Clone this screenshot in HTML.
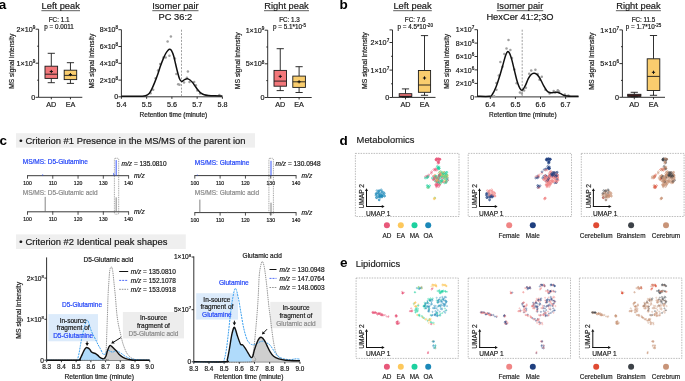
<!DOCTYPE html>
<html><head><meta charset="utf-8"><style>
html,body{margin:0;padding:0;background:#fff;}
svg{display:block;will-change:transform;}
text{font-family:"Liberation Sans",sans-serif;}
</style></head><body>
<svg width="685" height="381" viewBox="0 0 685 381">
<rect width="685" height="381" fill="#fff"/>
<text x="-1.20" y="9.10" font-size="13.5" text-anchor="start" fill="#000" stroke="#000" stroke-width="0" font-weight="bold" font-style="normal" >a</text>
<text x="339.60" y="9.30" font-size="13.5" text-anchor="start" fill="#000" stroke="#000" stroke-width="0" font-weight="bold" font-style="normal" >b</text>
<text x="-0.50" y="144.60" font-size="13.5" text-anchor="start" fill="#000" stroke="#000" stroke-width="0" font-weight="bold" font-style="normal" >c</text>
<text x="339.50" y="144.50" font-size="13.5" text-anchor="start" fill="#000" stroke="#000" stroke-width="0" font-weight="bold" font-style="normal" >d</text>
<text x="340.00" y="266.50" font-size="13.5" text-anchor="start" fill="#000" stroke="#000" stroke-width="0" font-weight="bold" font-style="normal" >e</text>
<line x1="38.60" y1="29.20" x2="38.60" y2="97.30" stroke="#1a1a1a" stroke-width="0.9" />
<line x1="35.60" y1="29.20" x2="38.60" y2="29.20" stroke="#1a1a1a" stroke-width="0.9" />
<line x1="35.60" y1="63.20" x2="38.60" y2="63.20" stroke="#1a1a1a" stroke-width="0.9" />
<line x1="35.60" y1="97.30" x2="38.60" y2="97.30" stroke="#1a1a1a" stroke-width="0.9" />
<line x1="37.20" y1="46.20" x2="38.60" y2="46.20" stroke="#1a1a1a" stroke-width="0.9" />
<line x1="37.20" y1="80.20" x2="38.60" y2="80.20" stroke="#1a1a1a" stroke-width="0.9" />
<line x1="38.60" y1="97.30" x2="82.30" y2="97.30" stroke="#1a1a1a" stroke-width="0.9" />
<text x="35.30" y="31.80" font-size="7.2" text-anchor="end" fill="#1a1a1a" stroke="#1a1a1a" stroke-width="0.2" font-weight="normal" font-style="normal" >2×10<tspan font-size="4.6" dy="-2.9">9</tspan></text>
<text x="35.30" y="65.80" font-size="7.2" text-anchor="end" fill="#1a1a1a" stroke="#1a1a1a" stroke-width="0.2" font-weight="normal" font-style="normal" >1×10<tspan font-size="4.6" dy="-2.9">9</tspan></text>
<text x="35.30" y="99.90" font-size="7.2" text-anchor="end" fill="#1a1a1a" stroke="#1a1a1a" stroke-width="0.2" font-weight="normal" font-style="normal" >0</text>
<text transform="translate(14.15,61.30) rotate(-90)" font-size="6.6" text-anchor="middle" fill="#1a1a1a" stroke="#1a1a1a" stroke-width="0.2">MS signal intensity</text>
<text x="60.70" y="9.00" font-size="9.3" text-anchor="middle" fill="#1a1a1a" stroke="#1a1a1a" stroke-width="0.2" font-weight="normal" font-style="normal" >Left peak</text>
<line x1="41.40" y1="10.70" x2="80.00" y2="10.70" stroke="#1a1a1a" stroke-width="0.7" />
<text x="59.10" y="21.50" font-size="6.3" text-anchor="middle" fill="#1a1a1a" stroke="#1a1a1a" stroke-width="0.2" font-weight="normal" font-style="normal" >FC: 1.1</text>
<text x="59.10" y="29.40" font-size="6.3" text-anchor="middle" fill="#1a1a1a" stroke="#1a1a1a" stroke-width="0.2" font-weight="normal" font-style="normal" >p = 0.0011</text>
<line x1="51.30" y1="97.30" x2="51.30" y2="99.30" stroke="#1a1a1a" stroke-width="0.9" />
<text x="51.30" y="107.00" font-size="7.2" text-anchor="middle" fill="#1a1a1a" stroke="#1a1a1a" stroke-width="0.2" font-weight="normal" font-style="normal" >AD</text>
<line x1="51.30" y1="53.30" x2="51.30" y2="66.20" stroke="#1a1a1a" stroke-width="0.9" />
<line x1="51.30" y1="78.40" x2="51.30" y2="82.70" stroke="#1a1a1a" stroke-width="0.9" />
<line x1="47.70" y1="53.30" x2="54.90" y2="53.30" stroke="#1a1a1a" stroke-width="0.9" />
<line x1="47.70" y1="82.70" x2="54.90" y2="82.70" stroke="#1a1a1a" stroke-width="0.9" />
<rect x="45.00" y="66.20" width="12.60" height="12.20" fill="#f2777a" stroke="#1a1a1a" stroke-width="0.9" />
<line x1="45.00" y1="74.20" x2="57.60" y2="74.20" stroke="#1a1a1a" stroke-width="0.9" />
<line x1="49.70" y1="71.50" x2="52.90" y2="71.50" stroke="#111" stroke-width="1.0" />
<line x1="51.30" y1="69.90" x2="51.30" y2="73.10" stroke="#111" stroke-width="1.0" />
<line x1="70.45" y1="97.30" x2="70.45" y2="99.30" stroke="#1a1a1a" stroke-width="0.9" />
<text x="70.45" y="107.00" font-size="7.2" text-anchor="middle" fill="#1a1a1a" stroke="#1a1a1a" stroke-width="0.2" font-weight="normal" font-style="normal" >EA</text>
<line x1="70.45" y1="62.70" x2="70.45" y2="70.20" stroke="#1a1a1a" stroke-width="0.9" />
<line x1="70.45" y1="79.60" x2="70.45" y2="83.40" stroke="#1a1a1a" stroke-width="0.9" />
<line x1="66.85" y1="62.70" x2="74.05" y2="62.70" stroke="#1a1a1a" stroke-width="0.9" />
<line x1="66.85" y1="83.40" x2="74.05" y2="83.40" stroke="#1a1a1a" stroke-width="0.9" />
<rect x="64.20" y="70.20" width="12.50" height="9.40" fill="#f9cd6e" stroke="#1a1a1a" stroke-width="0.9" />
<line x1="64.20" y1="75.40" x2="76.70" y2="75.40" stroke="#1a1a1a" stroke-width="0.9" />
<line x1="68.85" y1="74.60" x2="72.05" y2="74.60" stroke="#111" stroke-width="1.0" />
<line x1="70.45" y1="73.00" x2="70.45" y2="76.20" stroke="#111" stroke-width="1.0" />
<line x1="267.70" y1="30.20" x2="267.70" y2="97.50" stroke="#1a1a1a" stroke-width="0.9" />
<line x1="264.70" y1="30.20" x2="267.70" y2="30.20" stroke="#1a1a1a" stroke-width="0.9" />
<line x1="264.70" y1="63.80" x2="267.70" y2="63.80" stroke="#1a1a1a" stroke-width="0.9" />
<line x1="264.70" y1="97.50" x2="267.70" y2="97.50" stroke="#1a1a1a" stroke-width="0.9" />
<line x1="266.30" y1="47.00" x2="267.70" y2="47.00" stroke="#1a1a1a" stroke-width="0.9" />
<line x1="266.30" y1="80.60" x2="267.70" y2="80.60" stroke="#1a1a1a" stroke-width="0.9" />
<line x1="267.70" y1="97.50" x2="311.70" y2="97.50" stroke="#1a1a1a" stroke-width="0.9" />
<text x="264.40" y="32.80" font-size="7.2" text-anchor="end" fill="#1a1a1a" stroke="#1a1a1a" stroke-width="0.2" font-weight="normal" font-style="normal" >1×10<tspan font-size="4.6" dy="-2.9">9</tspan></text>
<text x="264.40" y="66.40" font-size="7.2" text-anchor="end" fill="#1a1a1a" stroke="#1a1a1a" stroke-width="0.2" font-weight="normal" font-style="normal" >5×10<tspan font-size="4.6" dy="-2.9">8</tspan></text>
<text x="264.40" y="100.10" font-size="7.2" text-anchor="end" fill="#1a1a1a" stroke="#1a1a1a" stroke-width="0.2" font-weight="normal" font-style="normal" >0</text>
<text transform="translate(239.70,60.80) rotate(-90)" font-size="6.8" text-anchor="middle" fill="#1a1a1a" stroke="#1a1a1a" stroke-width="0.2">MS signal intensity</text>
<text x="286.50" y="9.00" font-size="9.3" text-anchor="middle" fill="#1a1a1a" stroke="#1a1a1a" stroke-width="0.2" font-weight="normal" font-style="normal" >Right peak</text>
<line x1="264.00" y1="10.70" x2="309.00" y2="10.70" stroke="#1a1a1a" stroke-width="0.7" />
<text x="289.50" y="21.50" font-size="6.3" text-anchor="middle" fill="#1a1a1a" stroke="#1a1a1a" stroke-width="0.2" font-weight="normal" font-style="normal" >FC: 1.3</text>
<text x="289.50" y="29.40" font-size="6.3" text-anchor="middle" fill="#1a1a1a" stroke="#1a1a1a" stroke-width="0.2" font-weight="normal" font-style="normal" >p = 5.1*10<tspan font-size="4.5" dy="-2.8">-5</tspan></text>
<line x1="280.25" y1="97.50" x2="280.25" y2="99.50" stroke="#1a1a1a" stroke-width="0.9" />
<text x="280.25" y="107.00" font-size="7.2" text-anchor="middle" fill="#1a1a1a" stroke="#1a1a1a" stroke-width="0.2" font-weight="normal" font-style="normal" >AD</text>
<line x1="280.25" y1="48.70" x2="280.25" y2="70.40" stroke="#1a1a1a" stroke-width="0.9" />
<line x1="280.25" y1="86.20" x2="280.25" y2="90.60" stroke="#1a1a1a" stroke-width="0.9" />
<line x1="276.65" y1="48.70" x2="283.85" y2="48.70" stroke="#1a1a1a" stroke-width="0.9" />
<line x1="276.65" y1="90.60" x2="283.85" y2="90.60" stroke="#1a1a1a" stroke-width="0.9" />
<rect x="274.00" y="70.40" width="12.50" height="15.80" fill="#f2777a" stroke="#1a1a1a" stroke-width="0.9" />
<line x1="274.00" y1="81.10" x2="286.50" y2="81.10" stroke="#1a1a1a" stroke-width="0.9" />
<line x1="278.65" y1="76.40" x2="281.85" y2="76.40" stroke="#111" stroke-width="1.0" />
<line x1="280.25" y1="74.80" x2="280.25" y2="78.00" stroke="#111" stroke-width="1.0" />
<line x1="299.10" y1="97.50" x2="299.10" y2="99.50" stroke="#1a1a1a" stroke-width="0.9" />
<text x="299.10" y="107.00" font-size="7.2" text-anchor="middle" fill="#1a1a1a" stroke="#1a1a1a" stroke-width="0.2" font-weight="normal" font-style="normal" >EA</text>
<line x1="299.10" y1="66.70" x2="299.10" y2="76.10" stroke="#1a1a1a" stroke-width="0.9" />
<line x1="299.10" y1="87.40" x2="299.10" y2="92.50" stroke="#1a1a1a" stroke-width="0.9" />
<line x1="295.50" y1="66.70" x2="302.70" y2="66.70" stroke="#1a1a1a" stroke-width="0.9" />
<line x1="295.50" y1="92.50" x2="302.70" y2="92.50" stroke="#1a1a1a" stroke-width="0.9" />
<rect x="292.80" y="76.10" width="12.60" height="11.30" fill="#f9cd6e" stroke="#1a1a1a" stroke-width="0.9" />
<line x1="292.80" y1="81.80" x2="305.40" y2="81.80" stroke="#1a1a1a" stroke-width="0.9" />
<line x1="297.50" y1="81.80" x2="300.70" y2="81.80" stroke="#111" stroke-width="1.0" />
<line x1="299.10" y1="80.20" x2="299.10" y2="83.40" stroke="#111" stroke-width="1.0" />
<line x1="392.50" y1="29.90" x2="392.50" y2="97.40" stroke="#1a1a1a" stroke-width="0.9" />
<line x1="389.50" y1="29.90" x2="392.50" y2="29.90" stroke="#1a1a1a" stroke-width="0.9" />
<line x1="389.50" y1="42.50" x2="392.50" y2="42.50" stroke="#1a1a1a" stroke-width="0.9" />
<line x1="389.50" y1="70.10" x2="392.50" y2="70.10" stroke="#1a1a1a" stroke-width="0.9" />
<line x1="389.50" y1="97.50" x2="392.50" y2="97.50" stroke="#1a1a1a" stroke-width="0.9" />
<line x1="391.10" y1="56.30" x2="392.50" y2="56.30" stroke="#1a1a1a" stroke-width="0.9" />
<line x1="391.10" y1="83.80" x2="392.50" y2="83.80" stroke="#1a1a1a" stroke-width="0.9" />
<line x1="392.50" y1="97.40" x2="435.50" y2="97.40" stroke="#1a1a1a" stroke-width="0.9" />
<text x="389.20" y="45.10" font-size="7.2" text-anchor="end" fill="#1a1a1a" stroke="#1a1a1a" stroke-width="0.2" font-weight="normal" font-style="normal" >2×10<tspan font-size="4.6" dy="-2.9">7</tspan></text>
<text x="389.20" y="72.70" font-size="7.2" text-anchor="end" fill="#1a1a1a" stroke="#1a1a1a" stroke-width="0.2" font-weight="normal" font-style="normal" >1×10<tspan font-size="4.6" dy="-2.9">7</tspan></text>
<text x="389.20" y="100.10" font-size="7.2" text-anchor="end" fill="#1a1a1a" stroke="#1a1a1a" stroke-width="0.2" font-weight="normal" font-style="normal" >0</text>
<text transform="translate(366.70,60.60) rotate(-90)" font-size="6.8" text-anchor="middle" fill="#1a1a1a" stroke="#1a1a1a" stroke-width="0.2">MS signal intensity</text>
<text x="412.50" y="9.00" font-size="9.3" text-anchor="middle" fill="#1a1a1a" stroke="#1a1a1a" stroke-width="0.2" font-weight="normal" font-style="normal" >Left peak</text>
<line x1="393.20" y1="10.70" x2="431.80" y2="10.70" stroke="#1a1a1a" stroke-width="0.7" />
<text x="415.20" y="21.50" font-size="6.3" text-anchor="middle" fill="#1a1a1a" stroke="#1a1a1a" stroke-width="0.2" font-weight="normal" font-style="normal" >FC: 7.6</text>
<text x="415.20" y="29.40" font-size="6.3" text-anchor="middle" fill="#1a1a1a" stroke="#1a1a1a" stroke-width="0.2" font-weight="normal" font-style="normal" >p = 4.5*10<tspan font-size="4.5" dy="-2.8">-20</tspan></text>
<line x1="405.50" y1="97.40" x2="405.50" y2="99.40" stroke="#1a1a1a" stroke-width="0.9" />
<text x="405.50" y="107.00" font-size="7.2" text-anchor="middle" fill="#1a1a1a" stroke="#1a1a1a" stroke-width="0.2" font-weight="normal" font-style="normal" >AD</text>
<line x1="405.50" y1="88.90" x2="405.50" y2="93.70" stroke="#1a1a1a" stroke-width="0.9" />
<line x1="405.50" y1="96.50" x2="405.50" y2="97.00" stroke="#1a1a1a" stroke-width="0.9" />
<line x1="401.90" y1="88.90" x2="409.10" y2="88.90" stroke="#1a1a1a" stroke-width="0.9" />
<line x1="401.90" y1="97.00" x2="409.10" y2="97.00" stroke="#1a1a1a" stroke-width="0.9" />
<rect x="399.20" y="93.70" width="12.60" height="2.80" fill="#f2777a" stroke="#1a1a1a" stroke-width="0.9" />
<line x1="399.20" y1="96.30" x2="411.80" y2="96.30" stroke="#1a1a1a" stroke-width="0.9" />
<line x1="424.50" y1="97.40" x2="424.50" y2="99.40" stroke="#1a1a1a" stroke-width="0.9" />
<text x="424.50" y="107.00" font-size="7.2" text-anchor="middle" fill="#1a1a1a" stroke="#1a1a1a" stroke-width="0.2" font-weight="normal" font-style="normal" >EA</text>
<line x1="424.50" y1="35.60" x2="424.50" y2="70.50" stroke="#1a1a1a" stroke-width="0.9" />
<line x1="424.50" y1="92.30" x2="424.50" y2="95.30" stroke="#1a1a1a" stroke-width="0.9" />
<line x1="420.90" y1="35.60" x2="428.10" y2="35.60" stroke="#1a1a1a" stroke-width="0.9" />
<line x1="420.90" y1="95.30" x2="428.10" y2="95.30" stroke="#1a1a1a" stroke-width="0.9" />
<rect x="418.40" y="70.50" width="12.20" height="21.80" fill="#f9cd6e" stroke="#1a1a1a" stroke-width="0.9" />
<line x1="418.40" y1="85.00" x2="430.60" y2="85.00" stroke="#1a1a1a" stroke-width="0.9" />
<line x1="422.90" y1="78.00" x2="426.10" y2="78.00" stroke="#111" stroke-width="1.0" />
<line x1="424.50" y1="76.40" x2="424.50" y2="79.60" stroke="#111" stroke-width="1.0" />
<line x1="622.40" y1="29.90" x2="622.40" y2="97.30" stroke="#1a1a1a" stroke-width="0.9" />
<line x1="619.40" y1="29.90" x2="622.40" y2="29.90" stroke="#1a1a1a" stroke-width="0.9" />
<line x1="619.40" y1="63.60" x2="622.40" y2="63.60" stroke="#1a1a1a" stroke-width="0.9" />
<line x1="619.40" y1="97.30" x2="622.40" y2="97.30" stroke="#1a1a1a" stroke-width="0.9" />
<line x1="621.00" y1="46.70" x2="622.40" y2="46.70" stroke="#1a1a1a" stroke-width="0.9" />
<line x1="621.00" y1="80.40" x2="622.40" y2="80.40" stroke="#1a1a1a" stroke-width="0.9" />
<line x1="622.40" y1="97.30" x2="665.00" y2="97.30" stroke="#1a1a1a" stroke-width="0.9" />
<text x="619.10" y="32.50" font-size="7.2" text-anchor="end" fill="#1a1a1a" stroke="#1a1a1a" stroke-width="0.2" font-weight="normal" font-style="normal" >1×10<tspan font-size="4.6" dy="-2.9">7</tspan></text>
<text x="619.10" y="66.20" font-size="7.2" text-anchor="end" fill="#1a1a1a" stroke="#1a1a1a" stroke-width="0.2" font-weight="normal" font-style="normal" >5×10<tspan font-size="4.6" dy="-2.9">6</tspan></text>
<text x="619.10" y="99.90" font-size="7.2" text-anchor="end" fill="#1a1a1a" stroke="#1a1a1a" stroke-width="0.2" font-weight="normal" font-style="normal" >0</text>
<text transform="translate(594.01,61.20) rotate(-90)" font-size="6.85" text-anchor="middle" fill="#1a1a1a" stroke="#1a1a1a" stroke-width="0.2">MS signal intensity</text>
<text x="638.40" y="9.00" font-size="9.3" text-anchor="middle" fill="#1a1a1a" stroke="#1a1a1a" stroke-width="0.2" font-weight="normal" font-style="normal" >Right peak</text>
<line x1="615.90" y1="10.70" x2="660.90" y2="10.70" stroke="#1a1a1a" stroke-width="0.7" />
<text x="643.50" y="21.50" font-size="6.3" text-anchor="middle" fill="#1a1a1a" stroke="#1a1a1a" stroke-width="0.2" font-weight="normal" font-style="normal" >FC: 11.5</text>
<text x="643.50" y="29.40" font-size="6.3" text-anchor="middle" fill="#1a1a1a" stroke="#1a1a1a" stroke-width="0.2" font-weight="normal" font-style="normal" >p = 1.7*10<tspan font-size="4.5" dy="-2.8">-25</tspan></text>
<line x1="634.30" y1="97.30" x2="634.30" y2="99.30" stroke="#1a1a1a" stroke-width="0.9" />
<text x="634.30" y="107.00" font-size="7.2" text-anchor="middle" fill="#1a1a1a" stroke="#1a1a1a" stroke-width="0.2" font-weight="normal" font-style="normal" >AD</text>
<line x1="634.30" y1="92.30" x2="634.30" y2="94.30" stroke="#1a1a1a" stroke-width="0.9" />
<line x1="634.30" y1="96.30" x2="634.30" y2="96.80" stroke="#1a1a1a" stroke-width="0.9" />
<line x1="630.70" y1="92.30" x2="637.90" y2="92.30" stroke="#1a1a1a" stroke-width="0.9" />
<line x1="630.70" y1="96.80" x2="637.90" y2="96.80" stroke="#1a1a1a" stroke-width="0.9" />
<rect x="627.70" y="94.30" width="13.20" height="2.00" fill="#6a2222" stroke="#1a1a1a" stroke-width="0.9" />
<line x1="627.70" y1="96.00" x2="640.90" y2="96.00" stroke="#1a1a1a" stroke-width="0.9" />
<line x1="653.50" y1="97.30" x2="653.50" y2="99.30" stroke="#1a1a1a" stroke-width="0.9" />
<text x="653.50" y="107.00" font-size="7.2" text-anchor="middle" fill="#1a1a1a" stroke="#1a1a1a" stroke-width="0.2" font-weight="normal" font-style="normal" >EA</text>
<line x1="653.50" y1="35.50" x2="653.50" y2="58.80" stroke="#1a1a1a" stroke-width="0.9" />
<line x1="653.50" y1="90.50" x2="653.50" y2="95.30" stroke="#1a1a1a" stroke-width="0.9" />
<line x1="649.90" y1="35.50" x2="657.10" y2="35.50" stroke="#1a1a1a" stroke-width="0.9" />
<line x1="649.90" y1="95.30" x2="657.10" y2="95.30" stroke="#1a1a1a" stroke-width="0.9" />
<rect x="647.20" y="58.80" width="12.60" height="31.70" fill="#f9cd6e" stroke="#1a1a1a" stroke-width="0.9" />
<line x1="647.20" y1="76.40" x2="659.80" y2="76.40" stroke="#1a1a1a" stroke-width="0.9" />
<line x1="651.90" y1="72.30" x2="655.10" y2="72.30" stroke="#111" stroke-width="1.0" />
<line x1="653.50" y1="70.70" x2="653.50" y2="73.90" stroke="#111" stroke-width="1.0" />
<line x1="121.40" y1="29.70" x2="121.40" y2="96.80" stroke="#1a1a1a" stroke-width="0.9" />
<line x1="118.40" y1="29.70" x2="121.40" y2="29.70" stroke="#1a1a1a" stroke-width="0.9" />
<line x1="118.40" y1="46.50" x2="121.40" y2="46.50" stroke="#1a1a1a" stroke-width="0.9" />
<line x1="118.40" y1="63.30" x2="121.40" y2="63.30" stroke="#1a1a1a" stroke-width="0.9" />
<line x1="118.40" y1="80.10" x2="121.40" y2="80.10" stroke="#1a1a1a" stroke-width="0.9" />
<line x1="118.40" y1="96.80" x2="121.40" y2="96.80" stroke="#1a1a1a" stroke-width="0.9" />
<line x1="121.40" y1="96.80" x2="222.40" y2="96.80" stroke="#1a1a1a" stroke-width="0.9" />
<text x="118.10" y="32.30" font-size="7.0" text-anchor="end" fill="#1a1a1a" stroke="#1a1a1a" stroke-width="0.2" font-weight="normal" font-style="normal" >8×10<tspan font-size="4.6" dy="-2.9">8</tspan></text>
<text x="118.10" y="49.10" font-size="7.0" text-anchor="end" fill="#1a1a1a" stroke="#1a1a1a" stroke-width="0.2" font-weight="normal" font-style="normal" >6×10<tspan font-size="4.6" dy="-2.9">8</tspan></text>
<text x="118.10" y="65.90" font-size="7.0" text-anchor="end" fill="#1a1a1a" stroke="#1a1a1a" stroke-width="0.2" font-weight="normal" font-style="normal" >4×10<tspan font-size="4.6" dy="-2.9">8</tspan></text>
<text x="118.10" y="82.70" font-size="7.0" text-anchor="end" fill="#1a1a1a" stroke="#1a1a1a" stroke-width="0.2" font-weight="normal" font-style="normal" >2×10<tspan font-size="4.6" dy="-2.9">8</tspan></text>
<text x="118.10" y="99.40" font-size="7.0" text-anchor="end" fill="#1a1a1a" stroke="#1a1a1a" stroke-width="0.2" font-weight="normal" font-style="normal" >0</text>
<line x1="121.40" y1="96.80" x2="121.40" y2="98.80" stroke="#1a1a1a" stroke-width="0.9" />
<text x="121.40" y="107.00" font-size="7.2" text-anchor="middle" fill="#1a1a1a" stroke="#1a1a1a" stroke-width="0.2" font-weight="normal" font-style="normal" >5.4</text>
<line x1="146.65" y1="96.80" x2="146.65" y2="98.80" stroke="#1a1a1a" stroke-width="0.9" />
<text x="146.65" y="107.00" font-size="7.2" text-anchor="middle" fill="#1a1a1a" stroke="#1a1a1a" stroke-width="0.2" font-weight="normal" font-style="normal" >5.5</text>
<line x1="171.90" y1="96.80" x2="171.90" y2="98.80" stroke="#1a1a1a" stroke-width="0.9" />
<text x="171.90" y="107.00" font-size="7.2" text-anchor="middle" fill="#1a1a1a" stroke="#1a1a1a" stroke-width="0.2" font-weight="normal" font-style="normal" >5.6</text>
<line x1="197.15" y1="96.80" x2="197.15" y2="98.80" stroke="#1a1a1a" stroke-width="0.9" />
<text x="197.15" y="107.00" font-size="7.2" text-anchor="middle" fill="#1a1a1a" stroke="#1a1a1a" stroke-width="0.2" font-weight="normal" font-style="normal" >5.7</text>
<line x1="222.40" y1="96.80" x2="222.40" y2="98.80" stroke="#1a1a1a" stroke-width="0.9" />
<text x="222.40" y="107.00" font-size="7.2" text-anchor="middle" fill="#1a1a1a" stroke="#1a1a1a" stroke-width="0.2" font-weight="normal" font-style="normal" >5.8</text>
<text x="173.40" y="116.50" font-size="6.5" text-anchor="middle" fill="#1a1a1a" stroke="#1a1a1a" stroke-width="0.2" font-weight="normal" font-style="normal" >Retention time (minute)</text>
<text transform="translate(93.64,61.10) rotate(-90)" font-size="6.55" text-anchor="middle" fill="#1a1a1a" stroke="#1a1a1a" stroke-width="0.2">MS signal intensity</text>
<text x="175.40" y="9.00" font-size="9.3" text-anchor="middle" fill="#1a1a1a" stroke="#1a1a1a" stroke-width="0.2" font-weight="normal" font-style="normal" >Isomer pair</text>
<line x1="152.30" y1="10.70" x2="198.50" y2="10.70" stroke="#1a1a1a" stroke-width="0.7" />
<text x="175.40" y="20.00" font-size="9.3" text-anchor="middle" fill="#1a1a1a" stroke="#1a1a1a" stroke-width="0.2" font-weight="normal" font-style="normal" >PC 36:2</text>
<line x1="181.50" y1="29.70" x2="181.50" y2="96.80" stroke="#888" stroke-width="0.8" stroke-dasharray="2,1.4"/>
<circle cx="170.90" cy="36.40" r="1.25" fill="#a0a0a0"/>
<circle cx="167.60" cy="41.60" r="1.25" fill="#a0a0a0"/>
<circle cx="169.40" cy="55.70" r="1.25" fill="#a0a0a0"/>
<circle cx="165.70" cy="57.60" r="1.25" fill="#a0a0a0"/>
<circle cx="163.50" cy="57.60" r="1.25" fill="#a0a0a0"/>
<circle cx="174.90" cy="58.50" r="1.25" fill="#a0a0a0"/>
<circle cx="160.20" cy="64.00" r="1.25" fill="#a0a0a0"/>
<circle cx="158.00" cy="70.40" r="1.25" fill="#a0a0a0"/>
<circle cx="155.60" cy="78.20" r="1.25" fill="#a0a0a0"/>
<circle cx="153.20" cy="89.70" r="1.25" fill="#a0a0a0"/>
<circle cx="150.60" cy="93.20" r="1.25" fill="#a0a0a0"/>
<circle cx="176.40" cy="74.10" r="1.25" fill="#a0a0a0"/>
<circle cx="178.20" cy="84.20" r="1.25" fill="#a0a0a0"/>
<circle cx="179.50" cy="84.80" r="1.25" fill="#a0a0a0"/>
<circle cx="184.00" cy="82.60" r="1.25" fill="#a0a0a0"/>
<circle cx="186.90" cy="77.80" r="1.25" fill="#a0a0a0"/>
<circle cx="187.90" cy="71.60" r="1.25" fill="#a0a0a0"/>
<circle cx="189.50" cy="82.00" r="1.25" fill="#a0a0a0"/>
<circle cx="194.20" cy="82.00" r="1.25" fill="#a0a0a0"/>
<circle cx="195.80" cy="85.20" r="1.25" fill="#a0a0a0"/>
<circle cx="197.30" cy="90.50" r="1.25" fill="#a0a0a0"/>
<circle cx="200.00" cy="93.60" r="1.25" fill="#a0a0a0"/>
<circle cx="219.40" cy="95.00" r="1.25" fill="#a0a0a0"/>
<path d="M121.40,96.20 C124.50,96.20 135.98,96.27 140.00,96.20 C144.02,96.13 143.97,96.27 145.50,95.80 C147.03,95.33 148.13,94.57 149.20,93.40 C150.27,92.23 150.98,90.63 151.90,88.80 C152.82,86.97 153.77,84.70 154.70,82.40 C155.63,80.10 156.58,77.60 157.50,75.00 C158.42,72.40 159.28,69.40 160.20,66.80 C161.12,64.20 162.08,61.62 163.00,59.40 C163.92,57.18 164.82,55.08 165.70,53.50 C166.58,51.92 167.62,50.60 168.30,49.90 C168.98,49.20 169.27,49.18 169.80,49.30 C170.33,49.42 170.87,49.53 171.50,50.60 C172.13,51.67 172.92,53.47 173.60,55.70 C174.28,57.93 174.93,61.23 175.60,64.00 C176.27,66.77 176.95,69.85 177.60,72.30 C178.25,74.75 178.82,77.15 179.50,78.70 C180.18,80.25 180.87,81.45 181.70,81.60 C182.53,81.75 183.55,80.08 184.50,79.60 C185.45,79.12 186.48,78.63 187.40,78.70 C188.32,78.77 189.13,79.35 190.00,80.00 C190.87,80.65 191.73,81.55 192.60,82.60 C193.47,83.65 194.32,85.08 195.20,86.30 C196.08,87.52 196.93,88.77 197.90,89.90 C198.87,91.03 199.95,92.30 201.00,93.10 C202.05,93.90 202.97,94.32 204.20,94.70 C205.43,95.08 206.65,95.22 208.40,95.40 C210.15,95.58 212.37,95.70 214.70,95.80 C217.03,95.90 221.12,95.97 222.40,96.00" fill="none" stroke="#111" stroke-width="1.5" stroke-linejoin="round"/>
<line x1="477.50" y1="29.70" x2="477.50" y2="96.90" stroke="#1a1a1a" stroke-width="0.9" />
<line x1="474.50" y1="29.70" x2="477.50" y2="29.70" stroke="#1a1a1a" stroke-width="0.9" />
<line x1="474.50" y1="43.10" x2="477.50" y2="43.10" stroke="#1a1a1a" stroke-width="0.9" />
<line x1="474.50" y1="56.50" x2="477.50" y2="56.50" stroke="#1a1a1a" stroke-width="0.9" />
<line x1="474.50" y1="69.90" x2="477.50" y2="69.90" stroke="#1a1a1a" stroke-width="0.9" />
<line x1="474.50" y1="83.40" x2="477.50" y2="83.40" stroke="#1a1a1a" stroke-width="0.9" />
<line x1="474.50" y1="96.90" x2="477.50" y2="96.90" stroke="#1a1a1a" stroke-width="0.9" />
<line x1="477.50" y1="96.90" x2="578.60" y2="96.90" stroke="#1a1a1a" stroke-width="0.9" />
<text x="474.20" y="32.30" font-size="7.0" text-anchor="end" fill="#1a1a1a" stroke="#1a1a1a" stroke-width="0.2" font-weight="normal" font-style="normal" >1×10<tspan font-size="4.6" dy="-2.9">7</tspan></text>
<text x="474.20" y="45.70" font-size="7.0" text-anchor="end" fill="#1a1a1a" stroke="#1a1a1a" stroke-width="0.2" font-weight="normal" font-style="normal" >8×10<tspan font-size="4.6" dy="-2.9">6</tspan></text>
<text x="474.20" y="59.10" font-size="7.0" text-anchor="end" fill="#1a1a1a" stroke="#1a1a1a" stroke-width="0.2" font-weight="normal" font-style="normal" >6×10<tspan font-size="4.6" dy="-2.9">6</tspan></text>
<text x="474.20" y="72.50" font-size="7.0" text-anchor="end" fill="#1a1a1a" stroke="#1a1a1a" stroke-width="0.2" font-weight="normal" font-style="normal" >4×10<tspan font-size="4.6" dy="-2.9">6</tspan></text>
<text x="474.20" y="86.00" font-size="7.0" text-anchor="end" fill="#1a1a1a" stroke="#1a1a1a" stroke-width="0.2" font-weight="normal" font-style="normal" >2×10<tspan font-size="4.6" dy="-2.9">6</tspan></text>
<text x="474.20" y="99.50" font-size="7.0" text-anchor="end" fill="#1a1a1a" stroke="#1a1a1a" stroke-width="0.2" font-weight="normal" font-style="normal" >0</text>
<line x1="490.30" y1="96.90" x2="490.30" y2="98.90" stroke="#1a1a1a" stroke-width="0.9" />
<text x="490.30" y="107.00" font-size="7.2" text-anchor="middle" fill="#1a1a1a" stroke="#1a1a1a" stroke-width="0.2" font-weight="normal" font-style="normal" >6.4</text>
<line x1="515.40" y1="96.90" x2="515.40" y2="98.90" stroke="#1a1a1a" stroke-width="0.9" />
<text x="515.40" y="107.00" font-size="7.2" text-anchor="middle" fill="#1a1a1a" stroke="#1a1a1a" stroke-width="0.2" font-weight="normal" font-style="normal" >6.5</text>
<line x1="540.50" y1="96.90" x2="540.50" y2="98.90" stroke="#1a1a1a" stroke-width="0.9" />
<text x="540.50" y="107.00" font-size="7.2" text-anchor="middle" fill="#1a1a1a" stroke="#1a1a1a" stroke-width="0.2" font-weight="normal" font-style="normal" >6.6</text>
<line x1="565.60" y1="96.90" x2="565.60" y2="98.90" stroke="#1a1a1a" stroke-width="0.9" />
<text x="565.60" y="107.00" font-size="7.2" text-anchor="middle" fill="#1a1a1a" stroke="#1a1a1a" stroke-width="0.2" font-weight="normal" font-style="normal" >6.7</text>
<text x="522.80" y="116.50" font-size="6.5" text-anchor="middle" fill="#1a1a1a" stroke="#1a1a1a" stroke-width="0.2" font-weight="normal" font-style="normal" >Retention time (minute)</text>
<text transform="translate(449.35,61.30) rotate(-90)" font-size="6.57" text-anchor="middle" fill="#1a1a1a" stroke="#1a1a1a" stroke-width="0.2">MS signal intensity</text>
<text x="520.00" y="9.00" font-size="9.3" text-anchor="middle" fill="#1a1a1a" stroke="#1a1a1a" stroke-width="0.2" font-weight="normal" font-style="normal" >Isomer pair</text>
<line x1="496.80" y1="10.70" x2="543.20" y2="10.70" stroke="#1a1a1a" stroke-width="0.7" />
<text x="520.00" y="20.00" font-size="9.3" text-anchor="middle" fill="#1a1a1a" stroke="#1a1a1a" stroke-width="0.2" font-weight="normal" font-style="normal" >HexCer 41:2;3O</text>
<line x1="522.20" y1="29.70" x2="522.20" y2="96.90" stroke="#888" stroke-width="0.8" stroke-dasharray="2,1.4"/>
<circle cx="508.50" cy="40.10" r="1.25" fill="#a0a0a0"/>
<circle cx="506.50" cy="48.40" r="1.25" fill="#a0a0a0"/>
<circle cx="510.40" cy="49.90" r="1.25" fill="#a0a0a0"/>
<circle cx="504.30" cy="53.90" r="1.25" fill="#a0a0a0"/>
<circle cx="502.50" cy="66.80" r="1.25" fill="#a0a0a0"/>
<circle cx="500.40" cy="62.00" r="1.25" fill="#a0a0a0"/>
<circle cx="498.80" cy="75.60" r="1.25" fill="#a0a0a0"/>
<circle cx="496.40" cy="83.00" r="1.25" fill="#a0a0a0"/>
<circle cx="496.40" cy="89.70" r="1.25" fill="#a0a0a0"/>
<circle cx="494.20" cy="96.30" r="1.25" fill="#a0a0a0"/>
<circle cx="512.00" cy="58.00" r="1.25" fill="#a0a0a0"/>
<circle cx="514.40" cy="69.50" r="1.25" fill="#a0a0a0"/>
<circle cx="516.60" cy="83.30" r="1.25" fill="#a0a0a0"/>
<circle cx="519.90" cy="92.50" r="1.25" fill="#a0a0a0"/>
<circle cx="521.80" cy="93.40" r="1.25" fill="#a0a0a0"/>
<circle cx="524.10" cy="90.40" r="1.25" fill="#a0a0a0"/>
<circle cx="525.90" cy="87.80" r="1.25" fill="#a0a0a0"/>
<circle cx="529.20" cy="73.70" r="1.25" fill="#a0a0a0"/>
<circle cx="531.20" cy="70.60" r="1.25" fill="#a0a0a0"/>
<circle cx="535.40" cy="69.80" r="1.25" fill="#a0a0a0"/>
<circle cx="537.70" cy="73.90" r="1.25" fill="#a0a0a0"/>
<circle cx="539.50" cy="79.80" r="1.25" fill="#a0a0a0"/>
<circle cx="541.80" cy="76.80" r="1.25" fill="#a0a0a0"/>
<circle cx="545.40" cy="89.80" r="1.25" fill="#a0a0a0"/>
<circle cx="549.50" cy="93.40" r="1.25" fill="#a0a0a0"/>
<circle cx="553.70" cy="91.00" r="1.25" fill="#a0a0a0"/>
<circle cx="555.40" cy="92.20" r="1.25" fill="#a0a0a0"/>
<circle cx="557.80" cy="90.20" r="1.25" fill="#a0a0a0"/>
<circle cx="559.00" cy="91.40" r="1.25" fill="#a0a0a0"/>
<circle cx="564.90" cy="94.60" r="1.25" fill="#a0a0a0"/>
<circle cx="568.40" cy="95.40" r="1.25" fill="#a0a0a0"/>
<path d="M477.50,96.30 C479.52,96.30 487.12,96.63 489.60,96.30 C492.08,95.97 491.33,95.85 492.40,94.30 C493.47,92.75 494.78,90.05 496.00,87.00 C497.22,83.95 498.47,79.98 499.70,76.00 C500.93,72.02 502.42,66.52 503.40,63.10 C504.38,59.68 504.90,57.40 505.60,55.50 C506.30,53.60 506.93,52.07 507.60,51.70 C508.27,51.33 508.92,52.02 509.60,53.30 C510.28,54.58 510.90,56.55 511.70,59.40 C512.50,62.25 513.48,66.72 514.40,70.40 C515.32,74.08 516.28,78.52 517.20,81.50 C518.12,84.48 519.05,86.87 519.90,88.30 C520.75,89.73 521.40,90.53 522.30,90.10 C523.20,89.67 524.30,87.62 525.30,85.70 C526.30,83.78 527.32,80.47 528.30,78.60 C529.28,76.73 530.27,75.38 531.20,74.50 C532.13,73.62 533.02,73.37 533.90,73.30 C534.78,73.23 535.67,73.52 536.50,74.10 C537.33,74.68 538.10,75.65 538.90,76.80 C539.70,77.95 540.52,79.52 541.30,81.00 C542.08,82.48 542.72,84.13 543.60,85.70 C544.48,87.27 545.62,89.27 546.60,90.40 C547.58,91.53 548.42,92.13 549.50,92.50 C550.58,92.87 551.82,92.65 553.10,92.60 C554.38,92.55 556.02,92.07 557.20,92.20 C558.38,92.33 559.12,92.90 560.20,93.40 C561.28,93.90 562.53,94.77 563.70,95.20 C564.87,95.63 565.82,95.83 567.20,96.00 C568.58,96.17 570.12,96.17 572.00,96.20 C573.88,96.23 577.42,96.20 578.50,96.20" fill="none" stroke="#111" stroke-width="1.5" stroke-linejoin="round"/>
<rect x="16.00" y="133.20" width="239.00" height="14.40" fill="#efefef" stroke="none" stroke-width="0.9" />
<text x="19.20" y="144.20" font-size="9.4" text-anchor="start" fill="#1a1a1a" stroke="#1a1a1a" stroke-width="0.2" font-weight="normal" font-style="normal" >•</text>
<text x="25.60" y="144.20" font-size="9.4" text-anchor="start" fill="#1a1a1a" stroke="#1a1a1a" stroke-width="0.2" font-weight="normal" font-style="normal" >Criterion #1 Presence in the MS/MS of the parent ion</text>
<rect x="16.00" y="234.40" width="169.80" height="14.60" fill="#efefef" stroke="none" stroke-width="0.9" />
<text x="19.20" y="245.40" font-size="9.4" text-anchor="start" fill="#1a1a1a" stroke="#1a1a1a" stroke-width="0.2" font-weight="normal" font-style="normal" >•</text>
<text x="25.60" y="245.40" font-size="9.4" text-anchor="start" fill="#1a1a1a" stroke="#1a1a1a" stroke-width="0.2" font-weight="normal" font-style="normal" >Criterion #2 Identical peak shapes</text>
<line x1="27.50" y1="175.70" x2="128.60" y2="175.70" stroke="#3a3a3a" stroke-width="1.0" />
<line x1="27.50" y1="175.20" x2="27.50" y2="178.70" stroke="#3a3a3a" stroke-width="0.9" />
<text x="27.50" y="184.60" font-size="5.1" text-anchor="middle" fill="#1a1a1a" stroke="#1a1a1a" stroke-width="0.2" font-weight="normal" font-style="normal" >100</text>
<line x1="52.77" y1="175.20" x2="52.77" y2="178.70" stroke="#3a3a3a" stroke-width="0.9" />
<text x="52.77" y="184.60" font-size="5.1" text-anchor="middle" fill="#1a1a1a" stroke="#1a1a1a" stroke-width="0.2" font-weight="normal" font-style="normal" >110</text>
<line x1="78.05" y1="175.20" x2="78.05" y2="178.70" stroke="#3a3a3a" stroke-width="0.9" />
<text x="78.05" y="184.60" font-size="5.1" text-anchor="middle" fill="#1a1a1a" stroke="#1a1a1a" stroke-width="0.2" font-weight="normal" font-style="normal" >120</text>
<line x1="103.32" y1="175.20" x2="103.32" y2="178.70" stroke="#3a3a3a" stroke-width="0.9" />
<text x="103.32" y="184.60" font-size="5.1" text-anchor="middle" fill="#1a1a1a" stroke="#1a1a1a" stroke-width="0.2" font-weight="normal" font-style="normal" >130</text>
<line x1="128.60" y1="175.20" x2="128.60" y2="178.70" stroke="#3a3a3a" stroke-width="0.9" />
<text x="128.60" y="184.60" font-size="5.1" text-anchor="middle" fill="#1a1a1a" stroke="#1a1a1a" stroke-width="0.2" font-weight="normal" font-style="normal" >140</text>
<text x="134.10" y="178.10" font-size="6.6" text-anchor="start" fill="#1a1a1a" stroke="#1a1a1a" stroke-width="0.2" font-weight="normal" font-style="italic" >m/z</text>
<text x="22.80" y="164.30" font-size="6.5" text-anchor="start" fill="#2446f7" stroke="#2446f7" stroke-width="0.2" font-weight="normal" font-style="normal" >MS/MS: D5-Glutamine</text>
<line x1="116.16" y1="160.10" x2="116.16" y2="175.70" stroke="#2446f7" stroke-width="0.9" />
<line x1="113.69" y1="173.00" x2="113.69" y2="175.70" stroke="#2446f7" stroke-width="0.7" />
<line x1="42.66" y1="174.30" x2="42.66" y2="175.70" stroke="#2446f7" stroke-width="0.7" />
<text x="121.60" y="165.60" font-size="6.5" text-anchor="start" fill="#1a1a1a" stroke="#1a1a1a" stroke-width="0.2" font-weight="normal" font-style="normal" ><tspan font-style="italic">m/z</tspan> = 135.0810</text>
<line x1="27.50" y1="211.80" x2="128.60" y2="211.80" stroke="#3a3a3a" stroke-width="1.0" />
<line x1="27.50" y1="211.30" x2="27.50" y2="214.80" stroke="#3a3a3a" stroke-width="0.9" />
<text x="27.50" y="220.70" font-size="5.1" text-anchor="middle" fill="#1a1a1a" stroke="#1a1a1a" stroke-width="0.2" font-weight="normal" font-style="normal" >100</text>
<line x1="52.77" y1="211.30" x2="52.77" y2="214.80" stroke="#3a3a3a" stroke-width="0.9" />
<text x="52.77" y="220.70" font-size="5.1" text-anchor="middle" fill="#1a1a1a" stroke="#1a1a1a" stroke-width="0.2" font-weight="normal" font-style="normal" >110</text>
<line x1="78.05" y1="211.30" x2="78.05" y2="214.80" stroke="#3a3a3a" stroke-width="0.9" />
<text x="78.05" y="220.70" font-size="5.1" text-anchor="middle" fill="#1a1a1a" stroke="#1a1a1a" stroke-width="0.2" font-weight="normal" font-style="normal" >120</text>
<line x1="103.32" y1="211.30" x2="103.32" y2="214.80" stroke="#3a3a3a" stroke-width="0.9" />
<text x="103.32" y="220.70" font-size="5.1" text-anchor="middle" fill="#1a1a1a" stroke="#1a1a1a" stroke-width="0.2" font-weight="normal" font-style="normal" >130</text>
<line x1="128.60" y1="211.30" x2="128.60" y2="214.80" stroke="#3a3a3a" stroke-width="0.9" />
<text x="128.60" y="220.70" font-size="5.1" text-anchor="middle" fill="#1a1a1a" stroke="#1a1a1a" stroke-width="0.2" font-weight="normal" font-style="normal" >140</text>
<text x="134.10" y="214.20" font-size="6.6" text-anchor="start" fill="#1a1a1a" stroke="#1a1a1a" stroke-width="0.2" font-weight="normal" font-style="italic" >m/z</text>
<text x="22.80" y="194.80" font-size="6.5" text-anchor="start" fill="#8a8a8a" stroke="#8a8a8a" stroke-width="0.2" font-weight="normal" font-style="normal" >MS/MS: D5-Glutamic acid</text>
<line x1="45.19" y1="196.90" x2="45.19" y2="211.80" stroke="#666" stroke-width="0.8" />
<line x1="116.16" y1="197.40" x2="116.16" y2="211.80" stroke="#666" stroke-width="0.8" />
<rect x="114.40" y="158.30" width="4.30" height="55.90" fill="none" stroke="#555" stroke-width="0.55" rx="1" stroke-dasharray="1,0.8"/>
<line x1="194.80" y1="175.60" x2="296.10" y2="175.60" stroke="#3a3a3a" stroke-width="1.0" />
<line x1="194.80" y1="175.10" x2="194.80" y2="178.60" stroke="#3a3a3a" stroke-width="0.9" />
<text x="194.80" y="184.50" font-size="5.1" text-anchor="middle" fill="#1a1a1a" stroke="#1a1a1a" stroke-width="0.2" font-weight="normal" font-style="normal" >100</text>
<line x1="220.12" y1="175.10" x2="220.12" y2="178.60" stroke="#3a3a3a" stroke-width="0.9" />
<text x="220.12" y="184.50" font-size="5.1" text-anchor="middle" fill="#1a1a1a" stroke="#1a1a1a" stroke-width="0.2" font-weight="normal" font-style="normal" >110</text>
<line x1="245.45" y1="175.10" x2="245.45" y2="178.60" stroke="#3a3a3a" stroke-width="0.9" />
<text x="245.45" y="184.50" font-size="5.1" text-anchor="middle" fill="#1a1a1a" stroke="#1a1a1a" stroke-width="0.2" font-weight="normal" font-style="normal" >120</text>
<line x1="270.78" y1="175.10" x2="270.78" y2="178.60" stroke="#3a3a3a" stroke-width="0.9" />
<text x="270.78" y="184.50" font-size="5.1" text-anchor="middle" fill="#1a1a1a" stroke="#1a1a1a" stroke-width="0.2" font-weight="normal" font-style="normal" >130</text>
<line x1="296.10" y1="175.10" x2="296.10" y2="178.60" stroke="#3a3a3a" stroke-width="0.9" />
<text x="296.10" y="184.50" font-size="5.1" text-anchor="middle" fill="#1a1a1a" stroke="#1a1a1a" stroke-width="0.2" font-weight="normal" font-style="normal" >140</text>
<text x="301.60" y="178.00" font-size="6.6" text-anchor="start" fill="#1a1a1a" stroke="#1a1a1a" stroke-width="0.2" font-weight="normal" font-style="italic" >m/z</text>
<text x="194.80" y="164.50" font-size="6.5" text-anchor="start" fill="#2446f7" stroke="#2446f7" stroke-width="0.2" font-weight="normal" font-style="normal" >MS/MS: Glutamine</text>
<line x1="271.00" y1="160.80" x2="271.00" y2="175.60" stroke="#2446f7" stroke-width="0.9" />
<line x1="197.33" y1="174.60" x2="197.33" y2="175.60" stroke="#2446f7" stroke-width="0.7" />
<text x="275.60" y="165.60" font-size="6.5" text-anchor="start" fill="#1a1a1a" stroke="#1a1a1a" stroke-width="0.2" font-weight="normal" font-style="normal" ><tspan font-style="italic">m/z</tspan> = 130.0948</text>
<line x1="194.80" y1="212.60" x2="296.10" y2="212.60" stroke="#3a3a3a" stroke-width="1.0" />
<line x1="194.80" y1="212.10" x2="194.80" y2="215.60" stroke="#3a3a3a" stroke-width="0.9" />
<text x="194.80" y="221.50" font-size="5.1" text-anchor="middle" fill="#1a1a1a" stroke="#1a1a1a" stroke-width="0.2" font-weight="normal" font-style="normal" >100</text>
<line x1="220.12" y1="212.10" x2="220.12" y2="215.60" stroke="#3a3a3a" stroke-width="0.9" />
<text x="220.12" y="221.50" font-size="5.1" text-anchor="middle" fill="#1a1a1a" stroke="#1a1a1a" stroke-width="0.2" font-weight="normal" font-style="normal" >110</text>
<line x1="245.45" y1="212.10" x2="245.45" y2="215.60" stroke="#3a3a3a" stroke-width="0.9" />
<text x="245.45" y="221.50" font-size="5.1" text-anchor="middle" fill="#1a1a1a" stroke="#1a1a1a" stroke-width="0.2" font-weight="normal" font-style="normal" >120</text>
<line x1="270.78" y1="212.10" x2="270.78" y2="215.60" stroke="#3a3a3a" stroke-width="0.9" />
<text x="270.78" y="221.50" font-size="5.1" text-anchor="middle" fill="#1a1a1a" stroke="#1a1a1a" stroke-width="0.2" font-weight="normal" font-style="normal" >130</text>
<line x1="296.10" y1="212.10" x2="296.10" y2="215.60" stroke="#3a3a3a" stroke-width="0.9" />
<text x="296.10" y="221.50" font-size="5.1" text-anchor="middle" fill="#1a1a1a" stroke="#1a1a1a" stroke-width="0.2" font-weight="normal" font-style="normal" >140</text>
<text x="301.60" y="215.00" font-size="6.6" text-anchor="start" fill="#1a1a1a" stroke="#1a1a1a" stroke-width="0.2" font-weight="normal" font-style="italic" >m/z</text>
<text x="194.80" y="194.60" font-size="6.5" text-anchor="start" fill="#8a8a8a" stroke="#8a8a8a" stroke-width="0.2" font-weight="normal" font-style="normal" >MS/MS: Glutamic acid</text>
<line x1="199.87" y1="199.60" x2="199.87" y2="212.60" stroke="#666" stroke-width="0.8" />
<line x1="271.00" y1="202.70" x2="271.00" y2="212.60" stroke="#666" stroke-width="0.8" />
<line x1="227.72" y1="211.80" x2="227.72" y2="212.60" stroke="#777" stroke-width="0.6" />
<rect x="268.90" y="158.30" width="4.50" height="55.70" fill="none" stroke="#555" stroke-width="0.55" rx="1" stroke-dasharray="1,0.8"/>
<line x1="46.60" y1="257.40" x2="46.60" y2="360.20" stroke="#1a1a1a" stroke-width="0.9" />
<line x1="46.60" y1="360.20" x2="149.70" y2="360.20" stroke="#1a1a1a" stroke-width="0.9" />
<line x1="44.40" y1="278.10" x2="46.60" y2="278.10" stroke="#1a1a1a" stroke-width="0.9" />
<line x1="44.40" y1="319.30" x2="46.60" y2="319.30" stroke="#1a1a1a" stroke-width="0.9" />
<line x1="44.40" y1="360.20" x2="46.60" y2="360.20" stroke="#1a1a1a" stroke-width="0.9" />
<text x="44.00" y="280.50" font-size="6.6" text-anchor="end" fill="#1a1a1a" stroke="#1a1a1a" stroke-width="0.2" font-weight="normal" font-style="normal" >2×10<tspan font-size="4.4" dy="-2.7">8</tspan></text>
<text x="44.00" y="321.70" font-size="6.6" text-anchor="end" fill="#1a1a1a" stroke="#1a1a1a" stroke-width="0.2" font-weight="normal" font-style="normal" >1×10<tspan font-size="4.4" dy="-2.7">8</tspan></text>
<text x="44.00" y="362.60" font-size="6.6" text-anchor="end" fill="#1a1a1a" stroke="#1a1a1a" stroke-width="0.2" font-weight="normal" font-style="normal" >0</text>
<line x1="46.70" y1="360.20" x2="46.70" y2="362.20" stroke="#1a1a1a" stroke-width="0.9" />
<text x="46.70" y="369.00" font-size="6.4" text-anchor="middle" fill="#1a1a1a" stroke="#1a1a1a" stroke-width="0.2" font-weight="normal" font-style="normal" >8.3</text>
<line x1="61.42" y1="360.20" x2="61.42" y2="362.20" stroke="#1a1a1a" stroke-width="0.9" />
<text x="61.42" y="369.00" font-size="6.4" text-anchor="middle" fill="#1a1a1a" stroke="#1a1a1a" stroke-width="0.2" font-weight="normal" font-style="normal" >8.4</text>
<line x1="76.14" y1="360.20" x2="76.14" y2="362.20" stroke="#1a1a1a" stroke-width="0.9" />
<text x="76.14" y="369.00" font-size="6.4" text-anchor="middle" fill="#1a1a1a" stroke="#1a1a1a" stroke-width="0.2" font-weight="normal" font-style="normal" >8.5</text>
<line x1="90.86" y1="360.20" x2="90.86" y2="362.20" stroke="#1a1a1a" stroke-width="0.9" />
<text x="90.86" y="369.00" font-size="6.4" text-anchor="middle" fill="#1a1a1a" stroke="#1a1a1a" stroke-width="0.2" font-weight="normal" font-style="normal" >8.6</text>
<line x1="105.58" y1="360.20" x2="105.58" y2="362.20" stroke="#1a1a1a" stroke-width="0.9" />
<text x="105.58" y="369.00" font-size="6.4" text-anchor="middle" fill="#1a1a1a" stroke="#1a1a1a" stroke-width="0.2" font-weight="normal" font-style="normal" >8.7</text>
<line x1="120.30" y1="360.20" x2="120.30" y2="362.20" stroke="#1a1a1a" stroke-width="0.9" />
<text x="120.30" y="369.00" font-size="6.4" text-anchor="middle" fill="#1a1a1a" stroke="#1a1a1a" stroke-width="0.2" font-weight="normal" font-style="normal" >8.8</text>
<line x1="135.02" y1="360.20" x2="135.02" y2="362.20" stroke="#1a1a1a" stroke-width="0.9" />
<text x="135.02" y="369.00" font-size="6.4" text-anchor="middle" fill="#1a1a1a" stroke="#1a1a1a" stroke-width="0.2" font-weight="normal" font-style="normal" >8.9</text>
<line x1="149.74" y1="360.20" x2="149.74" y2="362.20" stroke="#1a1a1a" stroke-width="0.9" />
<text x="149.74" y="369.00" font-size="6.4" text-anchor="middle" fill="#1a1a1a" stroke="#1a1a1a" stroke-width="0.2" font-weight="normal" font-style="normal" >9.0</text>
<text x="99.20" y="379.20" font-size="6.7" text-anchor="middle" fill="#1a1a1a" stroke="#1a1a1a" stroke-width="0.2" font-weight="normal" font-style="normal" >Retention time (minute)</text>
<text transform="translate(20.90,310.30) rotate(-90)" font-size="6.8" text-anchor="middle" fill="#1a1a1a" stroke="#1a1a1a" stroke-width="0.2">MS signal intensity</text>
<line x1="193.80" y1="256.40" x2="193.80" y2="361.80" stroke="#1a1a1a" stroke-width="0.9" />
<line x1="193.80" y1="361.80" x2="300.00" y2="361.80" stroke="#1a1a1a" stroke-width="0.9" />
<line x1="191.60" y1="257.00" x2="193.80" y2="257.00" stroke="#1a1a1a" stroke-width="0.9" />
<line x1="191.60" y1="309.70" x2="193.80" y2="309.70" stroke="#1a1a1a" stroke-width="0.9" />
<line x1="191.60" y1="361.80" x2="193.80" y2="361.80" stroke="#1a1a1a" stroke-width="0.9" />
<text x="191.20" y="259.40" font-size="6.6" text-anchor="end" fill="#1a1a1a" stroke="#1a1a1a" stroke-width="0.2" font-weight="normal" font-style="normal" >1×10<tspan font-size="4.4" dy="-2.7">8</tspan></text>
<text x="191.20" y="312.10" font-size="6.6" text-anchor="end" fill="#1a1a1a" stroke="#1a1a1a" stroke-width="0.2" font-weight="normal" font-style="normal" >5×10<tspan font-size="4.4" dy="-2.7">7</tspan></text>
<text x="191.20" y="364.20" font-size="6.6" text-anchor="end" fill="#1a1a1a" stroke="#1a1a1a" stroke-width="0.2" font-weight="normal" font-style="normal" >0</text>
<line x1="193.80" y1="361.80" x2="193.80" y2="363.80" stroke="#1a1a1a" stroke-width="0.9" />
<text x="193.80" y="370.60" font-size="6.4" text-anchor="middle" fill="#1a1a1a" stroke="#1a1a1a" stroke-width="0.2" font-weight="normal" font-style="normal" >8.3</text>
<line x1="208.97" y1="361.80" x2="208.97" y2="363.80" stroke="#1a1a1a" stroke-width="0.9" />
<text x="208.97" y="370.60" font-size="6.4" text-anchor="middle" fill="#1a1a1a" stroke="#1a1a1a" stroke-width="0.2" font-weight="normal" font-style="normal" >8.4</text>
<line x1="224.14" y1="361.80" x2="224.14" y2="363.80" stroke="#1a1a1a" stroke-width="0.9" />
<text x="224.14" y="370.60" font-size="6.4" text-anchor="middle" fill="#1a1a1a" stroke="#1a1a1a" stroke-width="0.2" font-weight="normal" font-style="normal" >8.5</text>
<line x1="239.31" y1="361.80" x2="239.31" y2="363.80" stroke="#1a1a1a" stroke-width="0.9" />
<text x="239.31" y="370.60" font-size="6.4" text-anchor="middle" fill="#1a1a1a" stroke="#1a1a1a" stroke-width="0.2" font-weight="normal" font-style="normal" >8.6</text>
<line x1="254.48" y1="361.80" x2="254.48" y2="363.80" stroke="#1a1a1a" stroke-width="0.9" />
<text x="254.48" y="370.60" font-size="6.4" text-anchor="middle" fill="#1a1a1a" stroke="#1a1a1a" stroke-width="0.2" font-weight="normal" font-style="normal" >8.7</text>
<line x1="269.65" y1="361.80" x2="269.65" y2="363.80" stroke="#1a1a1a" stroke-width="0.9" />
<text x="269.65" y="370.60" font-size="6.4" text-anchor="middle" fill="#1a1a1a" stroke="#1a1a1a" stroke-width="0.2" font-weight="normal" font-style="normal" >8.8</text>
<line x1="284.82" y1="361.80" x2="284.82" y2="363.80" stroke="#1a1a1a" stroke-width="0.9" />
<text x="284.82" y="370.60" font-size="6.4" text-anchor="middle" fill="#1a1a1a" stroke="#1a1a1a" stroke-width="0.2" font-weight="normal" font-style="normal" >8.9</text>
<line x1="299.99" y1="361.80" x2="299.99" y2="363.80" stroke="#1a1a1a" stroke-width="0.9" />
<text x="299.99" y="370.60" font-size="6.4" text-anchor="middle" fill="#1a1a1a" stroke="#1a1a1a" stroke-width="0.2" font-weight="normal" font-style="normal" >9.0</text>
<text x="248.70" y="379.20" font-size="6.7" text-anchor="middle" fill="#1a1a1a" stroke="#1a1a1a" stroke-width="0.2" font-weight="normal" font-style="normal" >Retention time (minute)</text>
<rect x="48.40" y="314.10" width="49.60" height="27.20" fill="#dcebfb" stroke="none" stroke-width="0.9" />
<rect x="122.90" y="312.00" width="61.10" height="26.40" fill="#ededed" stroke="none" stroke-width="0.9" />
<rect x="196.20" y="293.20" width="41.80" height="26.40" fill="#dcebfb" stroke="none" stroke-width="0.9" />
<rect x="270.30" y="301.90" width="51.30" height="26.30" fill="#ededed" stroke="none" stroke-width="0.9" />
<path d="M77.50,360.20 C77.87,360.08 78.97,360.35 79.70,359.50 C80.43,358.65 81.17,356.63 81.90,355.10 C82.63,353.57 83.37,351.53 84.10,350.30 C84.83,349.07 85.65,348.08 86.30,347.70 C86.95,347.32 87.42,347.72 88.00,348.00 C88.58,348.28 89.22,348.72 89.80,349.40 C90.38,350.08 90.85,351.50 91.50,352.10 C92.15,352.70 92.97,352.72 93.70,353.00 C94.43,353.28 95.17,353.37 95.90,353.80 C96.63,354.23 97.37,354.97 98.10,355.60 C98.83,356.23 99.50,357.07 100.30,357.60 C101.10,358.13 102.25,358.63 102.90,358.80 C103.55,358.97 103.98,358.63 104.20,358.60 L104.20,360.20 L77.50,360.20 Z" fill="#b0dbfb" stroke="none"/>
<path d="M104.20,358.60 C104.50,358.17 105.42,357.45 106.00,356.00 C106.58,354.55 107.05,351.65 107.70,349.90 C108.35,348.15 109.23,346.08 109.90,345.50 C110.57,344.92 110.97,345.82 111.70,346.40 C112.43,346.98 113.43,348.13 114.30,349.00 C115.17,349.87 116.03,350.65 116.90,351.60 C117.77,352.55 118.48,353.75 119.50,354.70 C120.52,355.65 121.83,356.62 123.00,357.30 C124.17,357.98 125.18,358.38 126.50,358.80 C127.82,359.22 129.65,359.57 130.90,359.80 C132.15,360.03 130.90,360.12 134.00,360.20 C137.10,360.28 146.92,360.28 149.50,360.30 L149.50,360.20 L104.20,360.20 Z" fill="#cfcfcf" stroke="none"/>
<path d="M225.50,361.80 C225.80,361.43 226.63,361.82 227.30,359.60 C227.97,357.38 228.77,352.57 229.50,348.50 C230.23,344.43 230.97,338.70 231.70,335.20 C232.43,331.70 233.27,328.45 233.90,327.50 C234.53,326.55 234.95,328.22 235.50,329.50 C236.05,330.78 236.37,332.77 237.20,335.20 C238.03,337.63 239.62,342.50 240.50,344.10 C241.38,345.70 241.75,344.17 242.50,344.80 C243.25,345.43 244.15,346.68 245.00,347.90 C245.85,349.12 246.75,350.70 247.60,352.10 C248.45,353.50 249.40,355.38 250.10,356.30 C250.80,357.22 251.52,357.38 251.80,357.60 L251.80,361.80 L225.50,361.80 Z" fill="#b0dbfb" stroke="none"/>
<path d="M251.80,357.60 C252.00,357.25 252.58,356.70 253.00,355.50 C253.42,354.30 253.67,352.50 254.30,350.40 C254.93,348.30 255.97,344.92 256.80,342.90 C257.63,340.88 258.52,339.23 259.30,338.30 C260.08,337.37 260.65,336.97 261.50,337.30 C262.35,337.63 263.50,338.95 264.40,340.30 C265.30,341.65 265.92,343.43 266.90,345.40 C267.88,347.37 269.18,350.28 270.30,352.10 C271.42,353.92 272.20,355.18 273.60,356.30 C275.00,357.42 276.73,358.15 278.70,358.80 C280.67,359.45 281.85,359.87 285.40,360.20 C288.95,360.53 297.57,360.70 300.00,360.80 L300.00,361.80 L251.80,361.80 Z" fill="#cfcfcf" stroke="none"/>
<path d="M46.70,360.20 C56.33,360.20 94.75,360.40 104.50,360.20 C114.25,360.00 104.98,359.87 105.20,359.00 C105.42,358.13 105.60,357.33 105.80,355.00 C106.00,352.67 106.22,349.17 106.40,345.00 C106.58,340.83 106.72,335.25 106.90,330.00 C107.08,324.75 107.32,319.03 107.50,313.50 C107.68,307.97 107.78,301.90 108.00,296.80 C108.22,291.70 108.50,287.32 108.80,282.90 C109.10,278.48 109.40,272.97 109.80,270.30 C110.20,267.63 110.73,266.90 111.20,266.90 C111.67,266.90 112.13,267.63 112.60,270.30 C113.07,272.97 113.53,278.48 114.00,282.90 C114.47,287.32 114.93,291.70 115.40,296.80 C115.87,301.90 116.28,308.80 116.80,313.50 C117.32,318.20 117.83,321.42 118.50,325.00 C119.17,328.58 120.05,331.87 120.80,335.00 C121.55,338.13 122.05,340.88 123.00,343.80 C123.95,346.72 125.33,350.32 126.50,352.50 C127.67,354.68 128.75,355.78 130.00,356.90 C131.25,358.02 132.33,358.68 134.00,359.20 C135.67,359.72 137.42,359.83 140.00,360.00 C142.58,360.17 147.92,360.17 149.50,360.20" fill="none" stroke="#7a7a7a" stroke-width="0.8" stroke-dasharray="1.4,0.8"/>
<path d="M193.80,361.80 C203.33,361.80 241.15,363.08 251.00,361.80 C260.85,360.52 252.35,357.00 252.90,354.10 C253.45,351.20 253.82,348.62 254.30,344.40 C254.78,340.18 255.28,334.63 255.80,328.80 C256.32,322.97 256.98,315.03 257.40,309.40 C257.82,303.77 258.00,300.55 258.30,295.00 C258.60,289.45 258.82,280.90 259.20,276.10 C259.58,271.30 260.08,268.62 260.60,266.20 C261.12,263.78 261.72,261.60 262.30,261.60 C262.88,261.60 263.55,263.78 264.10,266.20 C264.65,268.62 265.12,272.47 265.60,276.10 C266.08,279.73 266.57,284.02 267.00,288.00 C267.43,291.98 267.82,296.33 268.20,300.00 C268.58,303.67 268.93,307.00 269.30,310.00 C269.67,313.00 270.00,314.87 270.40,318.00 C270.80,321.13 271.22,325.05 271.70,328.80 C272.18,332.55 272.72,336.93 273.30,340.50 C273.88,344.07 274.58,347.87 275.20,350.20 C275.82,352.53 276.35,353.37 277.00,354.50 C277.65,355.63 278.27,356.25 279.10,357.00 C279.93,357.75 280.52,358.42 282.00,359.00 C283.48,359.58 285.00,360.17 288.00,360.50 C291.00,360.83 298.00,360.92 300.00,361.00" fill="none" stroke="#7a7a7a" stroke-width="0.8" stroke-dasharray="1.4,0.8"/>
<path d="M46.70,360.20 C51.68,360.20 71.42,360.48 76.60,360.20 C81.78,359.92 77.35,359.87 77.80,358.50 C78.25,357.13 78.87,354.17 79.30,352.00 C79.73,349.83 80.03,347.58 80.40,345.50 C80.77,343.42 81.12,341.42 81.50,339.50 C81.88,337.58 82.32,335.67 82.70,334.00 C83.08,332.33 83.45,330.87 83.80,329.50 C84.15,328.13 84.42,327.20 84.80,325.80 C85.18,324.40 85.73,322.03 86.10,321.10 C86.47,320.17 86.63,320.13 87.00,320.20 C87.37,320.27 87.80,320.35 88.30,321.50 C88.80,322.65 89.43,325.37 90.00,327.10 C90.57,328.83 91.05,330.38 91.70,331.90 C92.35,333.42 93.10,334.62 93.90,336.20 C94.70,337.78 95.78,339.93 96.50,341.40 C97.22,342.87 97.57,343.80 98.20,345.00 C98.83,346.20 99.52,347.13 100.30,348.60 C101.08,350.07 102.25,352.78 102.90,353.80 C103.55,354.82 103.62,354.98 104.20,354.70 C104.78,354.42 105.73,352.83 106.40,352.10 C107.07,351.37 107.47,350.38 108.20,350.30 C108.93,350.22 110.00,351.30 110.80,351.60 C111.60,351.90 112.27,352.23 113.00,352.10 C113.73,351.97 114.40,350.95 115.20,350.80 C116.00,350.65 116.78,350.77 117.80,351.20 C118.82,351.63 120.13,352.60 121.30,353.40 C122.47,354.20 123.63,355.27 124.80,356.00 C125.97,356.73 127.13,357.28 128.30,357.80 C129.47,358.32 129.85,358.77 131.80,359.10 C133.75,359.43 137.05,359.65 140.00,359.80 C142.95,359.95 147.92,359.97 149.50,360.00" fill="none" stroke="#3aa0f0" stroke-width="1.0" stroke-dasharray="2,0.9"/>
<path d="M193.80,361.80 C198.67,361.80 217.97,361.98 223.00,361.80 C228.03,361.62 223.47,362.55 224.00,360.70 C224.53,358.85 225.47,355.32 226.20,350.70 C226.93,346.08 227.67,339.27 228.40,333.00 C229.13,326.73 229.87,318.98 230.60,313.10 C231.33,307.22 232.00,301.82 232.80,297.70 C233.60,293.58 234.48,288.40 235.40,288.40 C236.32,288.40 237.37,293.58 238.30,297.70 C239.23,301.82 240.08,307.95 241.00,313.10 C241.92,318.25 242.78,324.17 243.80,328.60 C244.82,333.03 246.07,337.22 247.10,339.70 C248.13,342.18 249.10,342.65 250.00,343.50 C250.90,344.35 251.78,344.63 252.50,344.80 C253.22,344.97 253.58,344.68 254.30,344.50 C255.02,344.32 255.82,344.17 256.80,343.70 C257.78,343.23 259.08,342.12 260.20,341.70 C261.32,341.28 262.38,341.00 263.50,341.20 C264.62,341.40 265.77,342.20 266.90,342.90 C268.03,343.60 269.18,344.15 270.30,345.40 C271.42,346.65 272.35,348.58 273.60,350.40 C274.85,352.22 276.12,354.90 277.80,356.30 C279.48,357.70 281.60,358.23 283.70,358.80 C285.80,359.37 288.43,359.70 290.40,359.70 C292.37,359.70 293.90,358.88 295.50,358.80 C297.10,358.72 299.25,359.13 300.00,359.20" fill="none" stroke="#3aa0f0" stroke-width="1.0" stroke-dasharray="2,0.9"/>
<path d="M46.70,360.20 C51.83,360.20 72.00,360.32 77.50,360.20 C83.00,360.08 78.97,360.35 79.70,359.50 C80.43,358.65 81.17,356.63 81.90,355.10 C82.63,353.57 83.37,351.53 84.10,350.30 C84.83,349.07 85.65,348.08 86.30,347.70 C86.95,347.32 87.42,347.72 88.00,348.00 C88.58,348.28 89.22,348.72 89.80,349.40 C90.38,350.08 90.85,351.50 91.50,352.10 C92.15,352.70 92.97,352.72 93.70,353.00 C94.43,353.28 95.17,353.37 95.90,353.80 C96.63,354.23 97.37,354.97 98.10,355.60 C98.83,356.23 99.50,357.07 100.30,357.60 C101.10,358.13 102.25,358.63 102.90,358.80 C103.55,358.97 103.68,359.07 104.20,358.60 C104.72,358.13 105.42,357.45 106.00,356.00 C106.58,354.55 107.05,351.65 107.70,349.90 C108.35,348.15 109.23,346.08 109.90,345.50 C110.57,344.92 110.97,345.82 111.70,346.40 C112.43,346.98 113.43,348.13 114.30,349.00 C115.17,349.87 116.03,350.65 116.90,351.60 C117.77,352.55 118.48,353.75 119.50,354.70 C120.52,355.65 121.83,356.62 123.00,357.30 C124.17,357.98 125.18,358.38 126.50,358.80 C127.82,359.22 129.65,359.57 130.90,359.80 C132.15,360.03 130.90,360.12 134.00,360.20 C137.10,360.28 146.92,360.28 149.50,360.30" fill="none" stroke="#111" stroke-width="1.4" stroke-linejoin="round"/>
<path d="M193.80,361.80 C199.08,361.80 219.92,362.17 225.50,361.80 C231.08,361.43 226.63,361.82 227.30,359.60 C227.97,357.38 228.77,352.57 229.50,348.50 C230.23,344.43 230.97,338.70 231.70,335.20 C232.43,331.70 233.27,328.45 233.90,327.50 C234.53,326.55 234.95,328.22 235.50,329.50 C236.05,330.78 236.37,332.77 237.20,335.20 C238.03,337.63 239.62,342.50 240.50,344.10 C241.38,345.70 241.75,344.17 242.50,344.80 C243.25,345.43 244.15,346.68 245.00,347.90 C245.85,349.12 246.75,350.70 247.60,352.10 C248.45,353.50 249.40,355.38 250.10,356.30 C250.80,357.22 251.32,357.73 251.80,357.60 C252.28,357.47 252.58,356.70 253.00,355.50 C253.42,354.30 253.67,352.50 254.30,350.40 C254.93,348.30 255.97,344.92 256.80,342.90 C257.63,340.88 258.52,339.23 259.30,338.30 C260.08,337.37 260.65,336.97 261.50,337.30 C262.35,337.63 263.50,338.95 264.40,340.30 C265.30,341.65 265.92,343.43 266.90,345.40 C267.88,347.37 269.18,350.28 270.30,352.10 C271.42,353.92 272.20,355.18 273.60,356.30 C275.00,357.42 276.73,358.15 278.70,358.80 C280.67,359.45 281.85,359.87 285.40,360.20 C288.95,360.53 297.57,360.70 300.00,360.80" fill="none" stroke="#111" stroke-width="1.4" stroke-linejoin="round"/>
<text x="108.50" y="262.00" font-size="6.5" text-anchor="middle" fill="#1a1a1a" stroke="#1a1a1a" stroke-width="0.2" font-weight="normal" font-style="normal" >D5-Glutamic acid</text>
<text x="262.30" y="258.00" font-size="6.5" text-anchor="middle" fill="#1a1a1a" stroke="#1a1a1a" stroke-width="0.2" font-weight="normal" font-style="normal" >Glutamic acid</text>
<text x="82.00" y="307.00" font-size="6.5" text-anchor="middle" fill="#2446f7" stroke="#2446f7" stroke-width="0.2" font-weight="normal" font-style="normal" >D5-Glutamine</text>
<text x="233.80" y="284.60" font-size="6.5" text-anchor="middle" fill="#2446f7" stroke="#2446f7" stroke-width="0.2" font-weight="normal" font-style="normal" >Glutamine</text>
<text x="73.20" y="322.60" font-size="6.5" text-anchor="middle" fill="#1a1a1a" stroke="#1a1a1a" stroke-width="0.2" font-weight="normal" font-style="normal" >In-source</text>
<text x="73.20" y="330.30" font-size="6.5" text-anchor="middle" fill="#1a1a1a" stroke="#1a1a1a" stroke-width="0.2" font-weight="normal" font-style="normal" >fragment of</text>
<text x="73.20" y="338.00" font-size="6.5" text-anchor="middle" fill="#2446f7" stroke="#2446f7" stroke-width="0.2" font-weight="normal" font-style="normal" >D5-Glutamine</text>
<text x="153.50" y="320.30" font-size="6.5" text-anchor="middle" fill="#1a1a1a" stroke="#1a1a1a" stroke-width="0.2" font-weight="normal" font-style="normal" >In-source</text>
<text x="153.50" y="328.00" font-size="6.5" text-anchor="middle" fill="#1a1a1a" stroke="#1a1a1a" stroke-width="0.2" font-weight="normal" font-style="normal" >fragment of</text>
<text x="153.50" y="335.70" font-size="6.5" text-anchor="middle" fill="#8a8a8a" stroke="#8a8a8a" stroke-width="0.2" font-weight="normal" font-style="normal" >D5-Glutamic acid</text>
<text x="216.90" y="301.60" font-size="6.5" text-anchor="middle" fill="#1a1a1a" stroke="#1a1a1a" stroke-width="0.2" font-weight="normal" font-style="normal" >In-source</text>
<text x="216.90" y="309.30" font-size="6.5" text-anchor="middle" fill="#1a1a1a" stroke="#1a1a1a" stroke-width="0.2" font-weight="normal" font-style="normal" >fragment of</text>
<text x="216.90" y="317.00" font-size="6.5" text-anchor="middle" fill="#2446f7" stroke="#2446f7" stroke-width="0.2" font-weight="normal" font-style="normal" >Glutamine</text>
<text x="296.00" y="310.20" font-size="6.5" text-anchor="middle" fill="#1a1a1a" stroke="#1a1a1a" stroke-width="0.2" font-weight="normal" font-style="normal" >In-source</text>
<text x="296.00" y="317.90" font-size="6.5" text-anchor="middle" fill="#1a1a1a" stroke="#1a1a1a" stroke-width="0.2" font-weight="normal" font-style="normal" >fragment of</text>
<text x="296.00" y="325.60" font-size="6.5" text-anchor="middle" fill="#8a8a8a" stroke="#8a8a8a" stroke-width="0.2" font-weight="normal" font-style="normal" >Glutamic acid</text>
<line x1="119.20" y1="271.50" x2="128.20" y2="271.50" stroke="#111" stroke-width="1.0" />
<line x1="119.20" y1="280.40" x2="128.20" y2="280.40" stroke="#2446f7" stroke-width="0.8" stroke-dasharray="2,1"/>
<line x1="119.20" y1="289.30" x2="128.20" y2="289.30" stroke="#777" stroke-width="0.8" stroke-dasharray="1.6,1"/>
<text x="130.80" y="273.80" font-size="6.5" text-anchor="start" fill="#1a1a1a" stroke="#1a1a1a" stroke-width="0.2" font-weight="normal" font-style="normal" ><tspan font-style="italic">m/z</tspan> = 135.0810</text>
<text x="130.80" y="282.70" font-size="6.5" text-anchor="start" fill="#1a1a1a" stroke="#1a1a1a" stroke-width="0.2" font-weight="normal" font-style="normal" ><tspan font-style="italic">m/z</tspan> = 152.1078</text>
<text x="130.80" y="291.60" font-size="6.5" text-anchor="start" fill="#1a1a1a" stroke="#1a1a1a" stroke-width="0.2" font-weight="normal" font-style="normal" ><tspan font-style="italic">m/z</tspan> = 153.0918</text>
<line x1="269.50" y1="269.50" x2="276.50" y2="269.50" stroke="#111" stroke-width="1.0" />
<line x1="269.50" y1="278.40" x2="276.50" y2="278.40" stroke="#2446f7" stroke-width="0.8" stroke-dasharray="2,1"/>
<line x1="269.50" y1="287.50" x2="276.50" y2="287.50" stroke="#777" stroke-width="0.8" stroke-dasharray="1.6,1"/>
<text x="279.60" y="271.80" font-size="6.5" text-anchor="start" fill="#1a1a1a" stroke="#1a1a1a" stroke-width="0.2" font-weight="normal" font-style="normal" ><tspan font-style="italic">m/z</tspan> = 130.0948</text>
<text x="279.60" y="280.70" font-size="6.5" text-anchor="start" fill="#1a1a1a" stroke="#1a1a1a" stroke-width="0.2" font-weight="normal" font-style="normal" ><tspan font-style="italic">m/z</tspan> = 147.0764</text>
<text x="279.60" y="289.80" font-size="6.5" text-anchor="start" fill="#1a1a1a" stroke="#1a1a1a" stroke-width="0.2" font-weight="normal" font-style="normal" ><tspan font-style="italic">m/z</tspan> = 148.0603</text>
<line x1="87.10" y1="341.40" x2="87.10" y2="343.50" stroke="#111" stroke-width="1.0" />
<path d="M87.10,346.00 L85.35,343.00 L88.85,343.00 Z" fill="#111"/>
<line x1="120.90" y1="337.60" x2="113.33" y2="342.28" stroke="#111" stroke-width="1.0" />
<path d="M111.20,343.60 L112.83,340.53 L114.67,343.51 Z" fill="#111"/>
<line x1="234.40" y1="320.70" x2="234.40" y2="323.10" stroke="#111" stroke-width="1.0" />
<path d="M234.40,325.60 L232.65,322.60 L236.15,322.60 Z" fill="#111"/>
<line x1="267.00" y1="329.20" x2="263.62" y2="332.78" stroke="#111" stroke-width="1.0" />
<path d="M261.90,334.60 L262.69,331.22 L265.23,333.62 Z" fill="#111"/>
<text x="356.60" y="143.20" font-size="9.4" text-anchor="start" fill="#1a1a1a" stroke="#1a1a1a" stroke-width="0.16">Metabolomics</text>
<text x="355.80" y="267.00" font-size="9.4" text-anchor="start" fill="#1a1a1a" stroke="#1a1a1a" stroke-width="0.16">Lipidomics</text>
<rect x="355.40" y="153.40" width="103.60" height="63.10" fill="none" stroke="#8f8f8f" stroke-width="0.6" stroke-dasharray="1.5,1.1"/>
<circle cx="376.57" cy="195.89" r="0.85" fill="none" stroke="#1b88b8" stroke-width="0.55"/>
<circle cx="378.24" cy="193.49" r="0.85" fill="none" stroke="#1b88b8" stroke-width="0.55"/>
<circle cx="382.19" cy="196.36" r="0.85" fill="none" stroke="#1b88b8" stroke-width="0.55"/>
<circle cx="384.59" cy="196.09" r="0.85" fill="none" stroke="#1b88b8" stroke-width="0.55"/>
<circle cx="380.32" cy="195.25" r="0.85" fill="none" stroke="#1b88b8" stroke-width="0.55"/>
<circle cx="380.04" cy="195.64" r="0.85" fill="none" stroke="#1b88b8" stroke-width="0.55"/>
<circle cx="376.19" cy="194.18" r="0.85" fill="none" stroke="#1b88b8" stroke-width="0.55"/>
<circle cx="379.16" cy="200.01" r="0.85" fill="none" stroke="#1b88b8" stroke-width="0.55"/>
<circle cx="379.08" cy="197.07" r="0.85" fill="none" stroke="#1b88b8" stroke-width="0.55"/>
<circle cx="376.42" cy="197.61" r="0.85" fill="none" stroke="#1b88b8" stroke-width="0.55"/>
<circle cx="382.20" cy="194.71" r="0.85" fill="none" stroke="#1b88b8" stroke-width="0.55"/>
<circle cx="378.96" cy="195.58" r="0.85" fill="none" stroke="#1b88b8" stroke-width="0.55"/>
<circle cx="382.36" cy="196.32" r="0.85" fill="none" stroke="#1b88b8" stroke-width="0.55"/>
<circle cx="380.03" cy="196.42" r="0.85" fill="none" stroke="#1b88b8" stroke-width="0.55"/>
<circle cx="377.01" cy="193.39" r="0.85" fill="none" stroke="#1b88b8" stroke-width="0.55"/>
<circle cx="378.99" cy="193.25" r="0.85" fill="none" stroke="#1b88b8" stroke-width="0.55"/>
<circle cx="384.23" cy="193.82" r="0.85" fill="none" stroke="#1b88b8" stroke-width="0.55"/>
<circle cx="376.51" cy="197.78" r="0.85" fill="none" stroke="#1b88b8" stroke-width="0.55"/>
<circle cx="380.56" cy="197.37" r="0.85" fill="none" stroke="#1b88b8" stroke-width="0.55"/>
<circle cx="381.29" cy="195.42" r="0.85" fill="none" stroke="#1b88b8" stroke-width="0.55"/>
<circle cx="377.76" cy="197.32" r="0.85" fill="none" stroke="#1b88b8" stroke-width="0.55"/>
<circle cx="381.37" cy="192.98" r="0.85" fill="none" stroke="#1b88b8" stroke-width="0.55"/>
<circle cx="380.01" cy="197.05" r="0.85" fill="none" stroke="#1b88b8" stroke-width="0.55"/>
<circle cx="384.29" cy="193.14" r="0.85" fill="none" stroke="#1b88b8" stroke-width="0.55"/>
<circle cx="384.57" cy="195.98" r="0.85" fill="none" stroke="#1b88b8" stroke-width="0.55"/>
<circle cx="381.66" cy="190.97" r="0.85" fill="none" stroke="#1b88b8" stroke-width="0.55"/>
<circle cx="382.08" cy="195.78" r="0.85" fill="none" stroke="#1b88b8" stroke-width="0.55"/>
<circle cx="379.13" cy="199.78" r="0.85" fill="none" stroke="#1b88b8" stroke-width="0.55"/>
<circle cx="378.89" cy="195.14" r="0.85" fill="none" stroke="#1b88b8" stroke-width="0.55"/>
<circle cx="381.96" cy="197.09" r="0.85" fill="none" stroke="#1b88b8" stroke-width="0.55"/>
<circle cx="378.68" cy="190.85" r="0.85" fill="none" stroke="#1b88b8" stroke-width="0.55"/>
<circle cx="383.40" cy="192.28" r="0.85" fill="none" stroke="#1b88b8" stroke-width="0.55"/>
<circle cx="375.92" cy="195.21" r="0.85" fill="none" stroke="#1b88b8" stroke-width="0.55"/>
<circle cx="376.05" cy="193.38" r="0.85" fill="none" stroke="#1b88b8" stroke-width="0.55"/>
<circle cx="381.23" cy="189.72" r="0.85" fill="none" stroke="#1b88b8" stroke-width="0.55"/>
<circle cx="382.14" cy="192.17" r="0.85" fill="none" stroke="#1b88b8" stroke-width="0.55"/>
<circle cx="377.90" cy="192.34" r="0.85" fill="none" stroke="#1b88b8" stroke-width="0.55"/>
<circle cx="376.94" cy="190.57" r="0.85" fill="none" stroke="#1b88b8" stroke-width="0.55"/>
<circle cx="379.66" cy="190.60" r="0.85" fill="none" stroke="#1b88b8" stroke-width="0.55"/>
<circle cx="380.00" cy="193.77" r="0.85" fill="none" stroke="#1b88b8" stroke-width="0.55"/>
<circle cx="378.92" cy="191.09" r="0.85" fill="none" stroke="#1b88b8" stroke-width="0.55"/>
<circle cx="382.63" cy="194.91" r="0.85" fill="none" stroke="#1b88b8" stroke-width="0.55"/>
<circle cx="436.66" cy="158.87" r="0.85" fill="none" stroke="#e8587a" stroke-width="0.55"/>
<circle cx="440.06" cy="159.17" r="0.85" fill="none" stroke="#e8587a" stroke-width="0.55"/>
<circle cx="439.75" cy="159.45" r="0.85" fill="none" stroke="#e8587a" stroke-width="0.55"/>
<circle cx="436.62" cy="160.16" r="0.85" fill="none" stroke="#e8587a" stroke-width="0.55"/>
<circle cx="436.02" cy="160.01" r="0.85" fill="none" stroke="#e8587a" stroke-width="0.55"/>
<circle cx="437.73" cy="159.01" r="0.85" fill="none" stroke="#e8587a" stroke-width="0.55"/>
<circle cx="436.44" cy="159.98" r="0.85" fill="none" stroke="#e8587a" stroke-width="0.55"/>
<circle cx="435.78" cy="159.60" r="0.85" fill="none" stroke="#e8587a" stroke-width="0.55"/>
<circle cx="436.46" cy="158.68" r="0.85" fill="none" stroke="#e8587a" stroke-width="0.55"/>
<circle cx="439.86" cy="159.29" r="0.85" fill="none" stroke="#e8587a" stroke-width="0.55"/>
<circle cx="438.88" cy="158.89" r="0.85" fill="none" stroke="#e8587a" stroke-width="0.55"/>
<circle cx="438.12" cy="158.64" r="0.85" fill="none" stroke="#e8587a" stroke-width="0.55"/>
<circle cx="438.25" cy="158.96" r="0.85" fill="none" stroke="#e8587a" stroke-width="0.55"/>
<circle cx="439.05" cy="160.04" r="0.85" fill="none" stroke="#e8587a" stroke-width="0.55"/>
<circle cx="439.69" cy="159.14" r="0.85" fill="none" stroke="#e8587a" stroke-width="0.55"/>
<circle cx="436.47" cy="159.30" r="0.85" fill="none" stroke="#e8587a" stroke-width="0.55"/>
<circle cx="438.61" cy="161.38" r="0.85" fill="none" stroke="#e8587a" stroke-width="0.55"/>
<circle cx="438.59" cy="162.02" r="0.85" fill="none" stroke="#e8587a" stroke-width="0.55"/>
<circle cx="438.20" cy="162.14" r="0.85" fill="none" stroke="#e8587a" stroke-width="0.55"/>
<circle cx="438.88" cy="162.81" r="0.85" fill="none" stroke="#e8587a" stroke-width="0.55"/>
<circle cx="438.08" cy="162.01" r="0.85" fill="none" stroke="#e8587a" stroke-width="0.55"/>
<circle cx="437.98" cy="163.41" r="0.85" fill="none" stroke="#e8587a" stroke-width="0.55"/>
<circle cx="439.14" cy="168.40" r="0.85" fill="none" stroke="#1dd19f" stroke-width="0.55"/>
<circle cx="438.11" cy="168.26" r="0.85" fill="none" stroke="#1dd19f" stroke-width="0.55"/>
<circle cx="438.44" cy="167.22" r="0.85" fill="none" stroke="#1dd19f" stroke-width="0.55"/>
<circle cx="437.98" cy="168.52" r="0.85" fill="none" stroke="#1dd19f" stroke-width="0.55"/>
<circle cx="439.22" cy="168.45" r="0.85" fill="none" stroke="#1dd19f" stroke-width="0.55"/>
<circle cx="437.50" cy="167.95" r="0.85" fill="none" stroke="#1dd19f" stroke-width="0.55"/>
<circle cx="438.76" cy="168.95" r="0.85" fill="none" stroke="#1dd19f" stroke-width="0.55"/>
<circle cx="437.27" cy="166.36" r="0.85" fill="none" stroke="#1dd19f" stroke-width="0.55"/>
<circle cx="439.14" cy="166.89" r="0.85" fill="none" stroke="#1dd19f" stroke-width="0.55"/>
<circle cx="428.80" cy="174.95" r="0.85" fill="none" stroke="#e8587a" stroke-width="0.55"/>
<circle cx="435.45" cy="168.87" r="0.85" fill="none" stroke="#e8587a" stroke-width="0.55"/>
<circle cx="431.26" cy="173.27" r="0.85" fill="none" stroke="#e8587a" stroke-width="0.55"/>
<circle cx="433.78" cy="169.58" r="0.85" fill="none" stroke="#e8587a" stroke-width="0.55"/>
<circle cx="435.44" cy="169.46" r="0.85" fill="none" stroke="#e8587a" stroke-width="0.55"/>
<circle cx="434.92" cy="170.26" r="0.85" fill="none" stroke="#e8587a" stroke-width="0.55"/>
<circle cx="436.70" cy="170.15" r="0.85" fill="none" stroke="#e8587a" stroke-width="0.55"/>
<circle cx="431.65" cy="171.77" r="0.85" fill="none" stroke="#e8587a" stroke-width="0.55"/>
<circle cx="427.05" cy="176.73" r="0.85" fill="none" stroke="#1dd19f" stroke-width="0.55"/>
<circle cx="426.86" cy="177.91" r="0.85" fill="none" stroke="#1dd19f" stroke-width="0.55"/>
<circle cx="427.11" cy="176.03" r="0.85" fill="none" stroke="#e8587a" stroke-width="0.55"/>
<circle cx="425.51" cy="176.63" r="0.85" fill="none" stroke="#e8587a" stroke-width="0.55"/>
<circle cx="427.99" cy="176.57" r="0.85" fill="none" stroke="#e8587a" stroke-width="0.55"/>
<circle cx="428.02" cy="176.39" r="0.85" fill="none" stroke="#1dd19f" stroke-width="0.55"/>
<circle cx="425.26" cy="178.06" r="0.85" fill="none" stroke="#1dd19f" stroke-width="0.55"/>
<circle cx="427.73" cy="177.36" r="0.85" fill="none" stroke="#1dd19f" stroke-width="0.55"/>
<circle cx="434.43" cy="177.72" r="0.85" fill="none" stroke="#e8587a" stroke-width="0.55"/>
<circle cx="432.22" cy="178.03" r="0.85" fill="none" stroke="#1dd19f" stroke-width="0.55"/>
<circle cx="433.32" cy="176.23" r="0.85" fill="none" stroke="#e8587a" stroke-width="0.55"/>
<circle cx="433.16" cy="179.63" r="0.85" fill="none" stroke="#e8587a" stroke-width="0.55"/>
<circle cx="433.85" cy="178.91" r="0.85" fill="none" stroke="#1dd19f" stroke-width="0.55"/>
<circle cx="434.38" cy="177.98" r="0.85" fill="none" stroke="#1dd19f" stroke-width="0.55"/>
<circle cx="434.30" cy="179.05" r="0.85" fill="none" stroke="#e8587a" stroke-width="0.55"/>
<circle cx="433.79" cy="179.52" r="0.85" fill="none" stroke="#e8587a" stroke-width="0.55"/>
<circle cx="447.45" cy="180.41" r="0.85" fill="none" stroke="#1dd19f" stroke-width="0.55"/>
<circle cx="438.62" cy="180.74" r="0.85" fill="none" stroke="#fdc85c" stroke-width="0.55"/>
<circle cx="440.31" cy="174.59" r="0.85" fill="none" stroke="#1dd19f" stroke-width="0.55"/>
<circle cx="444.47" cy="182.87" r="0.85" fill="none" stroke="#1dd19f" stroke-width="0.55"/>
<circle cx="447.72" cy="180.13" r="0.85" fill="none" stroke="#e8587a" stroke-width="0.55"/>
<circle cx="436.73" cy="180.05" r="0.85" fill="none" stroke="#e8587a" stroke-width="0.55"/>
<circle cx="446.59" cy="175.95" r="0.85" fill="none" stroke="#fdc85c" stroke-width="0.55"/>
<circle cx="439.21" cy="176.74" r="0.85" fill="none" stroke="#fdc85c" stroke-width="0.55"/>
<circle cx="445.92" cy="179.64" r="0.85" fill="none" stroke="#1dd19f" stroke-width="0.55"/>
<circle cx="437.65" cy="179.03" r="0.85" fill="none" stroke="#fdc85c" stroke-width="0.55"/>
<circle cx="434.24" cy="176.83" r="0.85" fill="none" stroke="#e8587a" stroke-width="0.55"/>
<circle cx="446.09" cy="182.19" r="0.85" fill="none" stroke="#e8587a" stroke-width="0.55"/>
<circle cx="440.32" cy="183.51" r="0.85" fill="none" stroke="#fdc85c" stroke-width="0.55"/>
<circle cx="441.16" cy="175.23" r="0.85" fill="none" stroke="#1dd19f" stroke-width="0.55"/>
<circle cx="442.11" cy="177.19" r="0.85" fill="none" stroke="#1dd19f" stroke-width="0.55"/>
<circle cx="439.50" cy="176.62" r="0.85" fill="none" stroke="#fdc85c" stroke-width="0.55"/>
<circle cx="438.78" cy="173.72" r="0.85" fill="none" stroke="#fdc85c" stroke-width="0.55"/>
<circle cx="442.10" cy="181.85" r="0.85" fill="none" stroke="#fdc85c" stroke-width="0.55"/>
<circle cx="445.70" cy="182.16" r="0.85" fill="none" stroke="#fdc85c" stroke-width="0.55"/>
<circle cx="437.94" cy="179.63" r="0.85" fill="none" stroke="#e8587a" stroke-width="0.55"/>
<circle cx="445.08" cy="177.84" r="0.85" fill="none" stroke="#fdc85c" stroke-width="0.55"/>
<circle cx="437.28" cy="179.86" r="0.85" fill="none" stroke="#1dd19f" stroke-width="0.55"/>
<circle cx="445.66" cy="180.57" r="0.85" fill="none" stroke="#fdc85c" stroke-width="0.55"/>
<circle cx="441.41" cy="176.30" r="0.85" fill="none" stroke="#1dd19f" stroke-width="0.55"/>
<circle cx="439.12" cy="183.40" r="0.85" fill="none" stroke="#fdc85c" stroke-width="0.55"/>
<circle cx="437.36" cy="182.48" r="0.85" fill="none" stroke="#1dd19f" stroke-width="0.55"/>
<circle cx="435.02" cy="175.43" r="0.85" fill="none" stroke="#e8587a" stroke-width="0.55"/>
<circle cx="442.36" cy="174.66" r="0.85" fill="none" stroke="#1dd19f" stroke-width="0.55"/>
<circle cx="443.85" cy="176.08" r="0.85" fill="none" stroke="#1dd19f" stroke-width="0.55"/>
<circle cx="437.65" cy="180.61" r="0.85" fill="none" stroke="#1dd19f" stroke-width="0.55"/>
<circle cx="434.91" cy="176.58" r="0.85" fill="none" stroke="#fdc85c" stroke-width="0.55"/>
<circle cx="443.82" cy="175.72" r="0.85" fill="none" stroke="#1dd19f" stroke-width="0.55"/>
<circle cx="434.83" cy="175.43" r="0.85" fill="none" stroke="#fdc85c" stroke-width="0.55"/>
<circle cx="435.15" cy="176.40" r="0.85" fill="none" stroke="#1dd19f" stroke-width="0.55"/>
<circle cx="442.74" cy="176.96" r="0.85" fill="none" stroke="#fdc85c" stroke-width="0.55"/>
<circle cx="439.04" cy="175.47" r="0.85" fill="none" stroke="#1dd19f" stroke-width="0.55"/>
<circle cx="441.51" cy="173.97" r="0.85" fill="none" stroke="#1dd19f" stroke-width="0.55"/>
<circle cx="435.97" cy="178.29" r="0.85" fill="none" stroke="#fdc85c" stroke-width="0.55"/>
<circle cx="435.71" cy="181.30" r="0.85" fill="none" stroke="#fdc85c" stroke-width="0.55"/>
<circle cx="444.42" cy="172.72" r="0.85" fill="none" stroke="#e8587a" stroke-width="0.55"/>
<circle cx="439.54" cy="172.37" r="0.85" fill="none" stroke="#1dd19f" stroke-width="0.55"/>
<circle cx="440.72" cy="171.54" r="0.85" fill="none" stroke="#1dd19f" stroke-width="0.55"/>
<circle cx="437.73" cy="179.72" r="0.85" fill="none" stroke="#e8587a" stroke-width="0.55"/>
<circle cx="445.33" cy="181.61" r="0.85" fill="none" stroke="#e8587a" stroke-width="0.55"/>
<circle cx="435.93" cy="179.39" r="0.85" fill="none" stroke="#e8587a" stroke-width="0.55"/>
<circle cx="442.40" cy="180.92" r="0.85" fill="none" stroke="#1dd19f" stroke-width="0.55"/>
<circle cx="441.59" cy="180.90" r="0.85" fill="none" stroke="#1dd19f" stroke-width="0.55"/>
<circle cx="439.14" cy="182.62" r="0.85" fill="none" stroke="#e8587a" stroke-width="0.55"/>
<circle cx="446.19" cy="174.00" r="0.85" fill="none" stroke="#1dd19f" stroke-width="0.55"/>
<circle cx="437.83" cy="178.44" r="0.85" fill="none" stroke="#1dd19f" stroke-width="0.55"/>
<circle cx="437.29" cy="181.27" r="0.85" fill="none" stroke="#fdc85c" stroke-width="0.55"/>
<circle cx="439.23" cy="175.41" r="0.85" fill="none" stroke="#1dd19f" stroke-width="0.55"/>
<circle cx="442.81" cy="172.76" r="0.85" fill="none" stroke="#fdc85c" stroke-width="0.55"/>
<circle cx="439.55" cy="181.13" r="0.85" fill="none" stroke="#e8587a" stroke-width="0.55"/>
<circle cx="444.71" cy="177.95" r="0.85" fill="none" stroke="#fdc85c" stroke-width="0.55"/>
<circle cx="447.44" cy="178.15" r="0.85" fill="none" stroke="#e8587a" stroke-width="0.55"/>
<circle cx="440.36" cy="183.64" r="0.85" fill="none" stroke="#1dd19f" stroke-width="0.55"/>
<circle cx="446.25" cy="176.70" r="0.85" fill="none" stroke="#e8587a" stroke-width="0.55"/>
<circle cx="435.29" cy="181.25" r="0.85" fill="none" stroke="#1dd19f" stroke-width="0.55"/>
<circle cx="436.21" cy="176.81" r="0.85" fill="none" stroke="#1dd19f" stroke-width="0.55"/>
<circle cx="440.38" cy="179.79" r="0.85" fill="none" stroke="#1dd19f" stroke-width="0.55"/>
<circle cx="437.41" cy="182.32" r="0.85" fill="none" stroke="#1dd19f" stroke-width="0.55"/>
<circle cx="447.34" cy="176.86" r="0.85" fill="none" stroke="#fdc85c" stroke-width="0.55"/>
<circle cx="440.25" cy="174.98" r="0.85" fill="none" stroke="#fdc85c" stroke-width="0.55"/>
<circle cx="447.35" cy="177.79" r="0.85" fill="none" stroke="#1dd19f" stroke-width="0.55"/>
<circle cx="437.44" cy="181.51" r="0.85" fill="none" stroke="#1dd19f" stroke-width="0.55"/>
<circle cx="439.33" cy="175.21" r="0.85" fill="none" stroke="#1dd19f" stroke-width="0.55"/>
<circle cx="446.04" cy="176.42" r="0.85" fill="none" stroke="#fdc85c" stroke-width="0.55"/>
<circle cx="443.30" cy="179.46" r="0.85" fill="none" stroke="#1dd19f" stroke-width="0.55"/>
<circle cx="442.99" cy="181.89" r="0.85" fill="none" stroke="#e8587a" stroke-width="0.55"/>
<circle cx="441.51" cy="180.69" r="0.85" fill="none" stroke="#1dd19f" stroke-width="0.55"/>
<circle cx="445.12" cy="176.04" r="0.85" fill="none" stroke="#fdc85c" stroke-width="0.55"/>
<circle cx="442.98" cy="174.40" r="0.85" fill="none" stroke="#1dd19f" stroke-width="0.55"/>
<circle cx="436.35" cy="181.33" r="0.85" fill="none" stroke="#e8587a" stroke-width="0.55"/>
<circle cx="440.36" cy="177.53" r="0.85" fill="none" stroke="#1dd19f" stroke-width="0.55"/>
<circle cx="444.48" cy="180.61" r="0.85" fill="none" stroke="#fdc85c" stroke-width="0.55"/>
<circle cx="438.97" cy="176.41" r="0.85" fill="none" stroke="#e8587a" stroke-width="0.55"/>
<circle cx="438.13" cy="181.83" r="0.85" fill="none" stroke="#1dd19f" stroke-width="0.55"/>
<circle cx="435.21" cy="177.54" r="0.85" fill="none" stroke="#e8587a" stroke-width="0.55"/>
<circle cx="438.93" cy="176.00" r="0.85" fill="none" stroke="#1dd19f" stroke-width="0.55"/>
<circle cx="439.79" cy="174.52" r="0.85" fill="none" stroke="#e8587a" stroke-width="0.55"/>
<circle cx="446.01" cy="182.68" r="0.85" fill="none" stroke="#1dd19f" stroke-width="0.55"/>
<circle cx="436.24" cy="176.26" r="0.85" fill="none" stroke="#1dd19f" stroke-width="0.55"/>
<circle cx="443.33" cy="173.43" r="0.85" fill="none" stroke="#1dd19f" stroke-width="0.55"/>
<circle cx="443.84" cy="176.15" r="0.85" fill="none" stroke="#fdc85c" stroke-width="0.55"/>
<circle cx="439.25" cy="177.56" r="0.85" fill="none" stroke="#1dd19f" stroke-width="0.55"/>
<circle cx="446.37" cy="176.11" r="0.85" fill="none" stroke="#1dd19f" stroke-width="0.55"/>
<circle cx="437.14" cy="181.54" r="0.85" fill="none" stroke="#e8587a" stroke-width="0.55"/>
<circle cx="438.51" cy="178.60" r="0.85" fill="none" stroke="#1dd19f" stroke-width="0.55"/>
<circle cx="437.53" cy="177.68" r="0.85" fill="none" stroke="#fdc85c" stroke-width="0.55"/>
<circle cx="446.67" cy="179.37" r="0.85" fill="none" stroke="#1dd19f" stroke-width="0.55"/>
<circle cx="436.69" cy="178.90" r="0.85" fill="none" stroke="#fdc85c" stroke-width="0.55"/>
<circle cx="441.15" cy="173.50" r="0.85" fill="none" stroke="#e8587a" stroke-width="0.55"/>
<circle cx="437.22" cy="180.45" r="0.85" fill="none" stroke="#fdc85c" stroke-width="0.55"/>
<circle cx="436.55" cy="177.42" r="0.85" fill="none" stroke="#e8587a" stroke-width="0.55"/>
<circle cx="440.09" cy="171.91" r="0.85" fill="none" stroke="#fdc85c" stroke-width="0.55"/>
<circle cx="439.28" cy="182.89" r="0.85" fill="none" stroke="#1dd19f" stroke-width="0.55"/>
<circle cx="436.69" cy="178.03" r="0.85" fill="none" stroke="#1dd19f" stroke-width="0.55"/>
<circle cx="441.36" cy="181.74" r="0.85" fill="none" stroke="#1dd19f" stroke-width="0.55"/>
<circle cx="446.94" cy="174.67" r="0.85" fill="none" stroke="#fdc85c" stroke-width="0.55"/>
<circle cx="442.22" cy="175.18" r="0.85" fill="none" stroke="#fdc85c" stroke-width="0.55"/>
<circle cx="446.17" cy="181.51" r="0.85" fill="none" stroke="#1dd19f" stroke-width="0.55"/>
<circle cx="444.56" cy="178.11" r="0.85" fill="none" stroke="#1dd19f" stroke-width="0.55"/>
<circle cx="446.10" cy="174.45" r="0.85" fill="none" stroke="#1dd19f" stroke-width="0.55"/>
<circle cx="442.28" cy="178.43" r="0.85" fill="none" stroke="#e8587a" stroke-width="0.55"/>
<circle cx="447.43" cy="175.47" r="0.85" fill="none" stroke="#fdc85c" stroke-width="0.55"/>
<circle cx="446.96" cy="175.18" r="0.85" fill="none" stroke="#1dd19f" stroke-width="0.55"/>
<circle cx="438.24" cy="178.57" r="0.85" fill="none" stroke="#e8587a" stroke-width="0.55"/>
<circle cx="439.04" cy="175.97" r="0.85" fill="none" stroke="#e8587a" stroke-width="0.55"/>
<circle cx="440.51" cy="174.45" r="0.85" fill="none" stroke="#e8587a" stroke-width="0.55"/>
<circle cx="446.17" cy="175.88" r="0.85" fill="none" stroke="#fdc85c" stroke-width="0.55"/>
<circle cx="444.70" cy="175.64" r="0.85" fill="none" stroke="#fdc85c" stroke-width="0.55"/>
<circle cx="444.64" cy="176.44" r="0.85" fill="none" stroke="#fdc85c" stroke-width="0.55"/>
<circle cx="446.24" cy="172.47" r="0.85" fill="none" stroke="#1dd19f" stroke-width="0.55"/>
<circle cx="443.56" cy="172.63" r="0.85" fill="none" stroke="#fdc85c" stroke-width="0.55"/>
<circle cx="442.24" cy="174.80" r="0.85" fill="none" stroke="#1dd19f" stroke-width="0.55"/>
<circle cx="444.05" cy="175.47" r="0.85" fill="none" stroke="#fdc85c" stroke-width="0.55"/>
<circle cx="444.46" cy="172.51" r="0.85" fill="none" stroke="#1dd19f" stroke-width="0.55"/>
<circle cx="446.94" cy="172.20" r="0.85" fill="none" stroke="#1dd19f" stroke-width="0.55"/>
<circle cx="442.09" cy="175.92" r="0.85" fill="none" stroke="#1dd19f" stroke-width="0.55"/>
<circle cx="443.22" cy="172.58" r="0.85" fill="none" stroke="#fdc85c" stroke-width="0.55"/>
<circle cx="441.46" cy="173.90" r="0.85" fill="none" stroke="#fdc85c" stroke-width="0.55"/>
<circle cx="445.70" cy="176.35" r="0.85" fill="none" stroke="#1dd19f" stroke-width="0.55"/>
<circle cx="441.78" cy="174.96" r="0.85" fill="none" stroke="#fdc85c" stroke-width="0.55"/>
<circle cx="442.90" cy="174.10" r="0.85" fill="none" stroke="#1dd19f" stroke-width="0.55"/>
<circle cx="442.18" cy="172.55" r="0.85" fill="none" stroke="#1dd19f" stroke-width="0.55"/>
<circle cx="444.65" cy="174.33" r="0.85" fill="none" stroke="#1dd19f" stroke-width="0.55"/>
<circle cx="444.17" cy="176.67" r="0.85" fill="none" stroke="#1dd19f" stroke-width="0.55"/>
<circle cx="435.73" cy="184.33" r="0.85" fill="none" stroke="#e8587a" stroke-width="0.55"/>
<circle cx="438.94" cy="185.25" r="0.85" fill="none" stroke="#e8587a" stroke-width="0.55"/>
<circle cx="437.12" cy="184.52" r="0.85" fill="none" stroke="#e8587a" stroke-width="0.55"/>
<circle cx="438.73" cy="186.58" r="0.85" fill="none" stroke="#e8587a" stroke-width="0.55"/>
<circle cx="436.52" cy="185.67" r="0.85" fill="none" stroke="#e8587a" stroke-width="0.55"/>
<circle cx="435.70" cy="185.04" r="0.85" fill="none" stroke="#e8587a" stroke-width="0.55"/>
<circle cx="437.69" cy="184.42" r="0.85" fill="none" stroke="#e8587a" stroke-width="0.55"/>
<circle cx="436.72" cy="185.72" r="0.85" fill="none" stroke="#e8587a" stroke-width="0.55"/>
<circle cx="439.71" cy="184.85" r="0.85" fill="none" stroke="#e8587a" stroke-width="0.55"/>
<circle cx="436.63" cy="184.52" r="0.85" fill="none" stroke="#e8587a" stroke-width="0.55"/>
<circle cx="436.52" cy="186.93" r="0.85" fill="none" stroke="#e8587a" stroke-width="0.55"/>
<circle cx="437.37" cy="184.43" r="0.85" fill="none" stroke="#e8587a" stroke-width="0.55"/>
<circle cx="427.23" cy="185.44" r="0.85" fill="none" stroke="#1dd19f" stroke-width="0.55"/>
<circle cx="427.46" cy="187.54" r="0.85" fill="none" stroke="#1dd19f" stroke-width="0.55"/>
<circle cx="427.88" cy="186.16" r="0.85" fill="none" stroke="#1dd19f" stroke-width="0.55"/>
<circle cx="428.12" cy="187.59" r="0.85" fill="none" stroke="#fdc85c" stroke-width="0.55"/>
<circle cx="428.78" cy="187.53" r="0.85" fill="none" stroke="#1dd19f" stroke-width="0.55"/>
<circle cx="428.47" cy="186.66" r="0.85" fill="none" stroke="#1dd19f" stroke-width="0.55"/>
<circle cx="429.70" cy="185.66" r="0.85" fill="none" stroke="#1dd19f" stroke-width="0.55"/>
<circle cx="434.84" cy="197.97" r="0.85" fill="none" stroke="#1dd19f" stroke-width="0.55"/>
<circle cx="434.85" cy="198.27" r="0.85" fill="none" stroke="#fdc85c" stroke-width="0.55"/>
<circle cx="434.08" cy="198.98" r="0.85" fill="none" stroke="#fdc85c" stroke-width="0.55"/>
<circle cx="434.41" cy="198.40" r="0.85" fill="none" stroke="#fdc85c" stroke-width="0.55"/>
<line x1="366.50" y1="207.00" x2="366.50" y2="190.60" stroke="#111" stroke-width="1.0" />
<path d="M366.50,188.20 L365.00,191.00 L368.00,191.00 Z" fill="#111"/>
<line x1="366.00" y1="206.50" x2="382.20" y2="206.50" stroke="#111" stroke-width="1.0" />
<path d="M384.60,206.50 L381.80,205.00 L381.80,208.00 Z" fill="#111"/>
<text transform="translate(363.70,196.30) rotate(-90)" font-size="6.6" text-anchor="middle" fill="#1a1a1a" stroke="#1a1a1a" stroke-width="0.16">UMAP 2</text>
<text x="366.00" y="215.60" font-size="6.6" text-anchor="start" fill="#1a1a1a" stroke="#1a1a1a" stroke-width="0.16">UMAP 1</text>
<rect x="356.10" y="278.00" width="102.20" height="80.40" fill="none" stroke="#8f8f8f" stroke-width="0.6" stroke-dasharray="1.5,1.1"/>
<circle cx="402.45" cy="293.04" r="0.6" fill="none" stroke="#e8587a" stroke-width="0.38"/>
<circle cx="402.72" cy="293.26" r="0.6" fill="none" stroke="#e8587a" stroke-width="0.38"/>
<circle cx="402.58" cy="293.25" r="0.6" fill="none" stroke="#e8587a" stroke-width="0.38"/>
<circle cx="402.91" cy="292.98" r="0.6" fill="none" stroke="#e8587a" stroke-width="0.38"/>
<circle cx="403.90" cy="292.61" r="0.6" fill="none" stroke="#e8587a" stroke-width="0.38"/>
<circle cx="402.46" cy="293.20" r="0.6" fill="none" stroke="#e8587a" stroke-width="0.38"/>
<circle cx="402.12" cy="291.74" r="0.6" fill="none" stroke="#e8587a" stroke-width="0.38"/>
<circle cx="373.56" cy="312.75" r="0.6" fill="none" stroke="#e8587a" stroke-width="0.38"/>
<circle cx="380.80" cy="314.65" r="0.6" fill="none" stroke="#e8587a" stroke-width="0.38"/>
<circle cx="383.69" cy="315.34" r="0.6" fill="none" stroke="#e8587a" stroke-width="0.38"/>
<circle cx="382.10" cy="314.06" r="0.6" fill="none" stroke="#e8587a" stroke-width="0.38"/>
<circle cx="379.09" cy="313.96" r="0.6" fill="none" stroke="#e8587a" stroke-width="0.38"/>
<circle cx="380.20" cy="314.58" r="0.6" fill="none" stroke="#e8587a" stroke-width="0.38"/>
<circle cx="381.95" cy="315.46" r="0.6" fill="none" stroke="#e8587a" stroke-width="0.38"/>
<circle cx="388.11" cy="316.94" r="0.6" fill="none" stroke="#e8587a" stroke-width="0.38"/>
<circle cx="382.49" cy="315.20" r="0.6" fill="none" stroke="#e8587a" stroke-width="0.38"/>
<circle cx="379.03" cy="313.74" r="0.6" fill="none" stroke="#e8587a" stroke-width="0.38"/>
<circle cx="378.84" cy="313.68" r="0.6" fill="none" stroke="#e8587a" stroke-width="0.38"/>
<circle cx="377.07" cy="313.16" r="0.6" fill="none" stroke="#e8587a" stroke-width="0.38"/>
<circle cx="382.75" cy="314.80" r="0.6" fill="none" stroke="#e8587a" stroke-width="0.38"/>
<circle cx="377.51" cy="314.54" r="0.6" fill="none" stroke="#e8587a" stroke-width="0.38"/>
<circle cx="384.94" cy="314.96" r="0.6" fill="none" stroke="#e8587a" stroke-width="0.38"/>
<circle cx="381.69" cy="314.97" r="0.6" fill="none" stroke="#e8587a" stroke-width="0.38"/>
<circle cx="376.55" cy="313.53" r="0.6" fill="none" stroke="#e8587a" stroke-width="0.38"/>
<circle cx="374.28" cy="312.92" r="0.6" fill="none" stroke="#e8587a" stroke-width="0.38"/>
<circle cx="381.10" cy="315.20" r="0.6" fill="none" stroke="#e8587a" stroke-width="0.38"/>
<circle cx="381.17" cy="313.86" r="0.6" fill="none" stroke="#e8587a" stroke-width="0.38"/>
<circle cx="377.57" cy="314.37" r="0.6" fill="none" stroke="#e8587a" stroke-width="0.38"/>
<circle cx="379.38" cy="313.25" r="0.6" fill="none" stroke="#e8587a" stroke-width="0.38"/>
<circle cx="378.66" cy="313.45" r="0.6" fill="none" stroke="#e8587a" stroke-width="0.38"/>
<circle cx="388.57" cy="316.28" r="0.6" fill="none" stroke="#e8587a" stroke-width="0.38"/>
<circle cx="380.53" cy="313.22" r="0.6" fill="none" stroke="#e8587a" stroke-width="0.38"/>
<circle cx="373.03" cy="313.16" r="0.6" fill="none" stroke="#e8587a" stroke-width="0.38"/>
<circle cx="372.39" cy="312.05" r="0.6" fill="none" stroke="#e8587a" stroke-width="0.38"/>
<circle cx="386.49" cy="316.41" r="0.6" fill="none" stroke="#e8587a" stroke-width="0.38"/>
<circle cx="378.82" cy="313.20" r="0.6" fill="none" stroke="#e8587a" stroke-width="0.38"/>
<circle cx="374.65" cy="312.41" r="0.6" fill="none" stroke="#e8587a" stroke-width="0.38"/>
<circle cx="375.64" cy="312.46" r="0.6" fill="none" stroke="#e8587a" stroke-width="0.38"/>
<circle cx="374.48" cy="312.88" r="0.6" fill="none" stroke="#e8587a" stroke-width="0.38"/>
<circle cx="375.86" cy="312.66" r="0.6" fill="none" stroke="#e8587a" stroke-width="0.38"/>
<circle cx="372.51" cy="312.47" r="0.6" fill="none" stroke="#e8587a" stroke-width="0.38"/>
<circle cx="372.91" cy="312.72" r="0.6" fill="none" stroke="#e8587a" stroke-width="0.38"/>
<circle cx="373.52" cy="311.94" r="0.6" fill="none" stroke="#e8587a" stroke-width="0.38"/>
<circle cx="375.50" cy="312.38" r="0.6" fill="none" stroke="#e8587a" stroke-width="0.38"/>
<circle cx="375.03" cy="312.45" r="0.6" fill="none" stroke="#e8587a" stroke-width="0.38"/>
<circle cx="396.22" cy="315.34" r="0.6" fill="none" stroke="#e8587a" stroke-width="0.38"/>
<circle cx="396.33" cy="315.87" r="0.6" fill="none" stroke="#e8587a" stroke-width="0.38"/>
<circle cx="396.12" cy="315.27" r="0.6" fill="none" stroke="#e8587a" stroke-width="0.38"/>
<circle cx="396.61" cy="315.87" r="0.6" fill="none" stroke="#e8587a" stroke-width="0.38"/>
<circle cx="396.20" cy="316.85" r="0.6" fill="none" stroke="#e8587a" stroke-width="0.38"/>
<circle cx="395.60" cy="316.29" r="0.6" fill="none" stroke="#e8587a" stroke-width="0.38"/>
<circle cx="395.70" cy="315.45" r="0.6" fill="none" stroke="#e8587a" stroke-width="0.38"/>
<circle cx="396.82" cy="316.22" r="0.6" fill="none" stroke="#e8587a" stroke-width="0.38"/>
<circle cx="396.28" cy="322.25" r="0.6" fill="none" stroke="#e8587a" stroke-width="0.38"/>
<circle cx="397.21" cy="323.40" r="0.6" fill="none" stroke="#e8587a" stroke-width="0.38"/>
<circle cx="397.37" cy="323.59" r="0.6" fill="none" stroke="#e8587a" stroke-width="0.38"/>
<circle cx="397.24" cy="323.78" r="0.6" fill="none" stroke="#e8587a" stroke-width="0.38"/>
<circle cx="399.15" cy="322.44" r="0.6" fill="none" stroke="#e8587a" stroke-width="0.38"/>
<circle cx="397.82" cy="323.82" r="0.6" fill="none" stroke="#e8587a" stroke-width="0.38"/>
<circle cx="396.67" cy="323.77" r="0.6" fill="none" stroke="#e8587a" stroke-width="0.38"/>
<circle cx="397.44" cy="322.06" r="0.6" fill="none" stroke="#e8587a" stroke-width="0.38"/>
<circle cx="396.97" cy="321.83" r="0.6" fill="none" stroke="#e8587a" stroke-width="0.38"/>
<circle cx="397.53" cy="321.66" r="0.6" fill="none" stroke="#e8587a" stroke-width="0.38"/>
<circle cx="398.32" cy="323.75" r="0.6" fill="none" stroke="#e8587a" stroke-width="0.38"/>
<circle cx="397.03" cy="321.88" r="0.6" fill="none" stroke="#e8587a" stroke-width="0.38"/>
<circle cx="399.01" cy="323.44" r="0.6" fill="none" stroke="#e8587a" stroke-width="0.38"/>
<circle cx="397.91" cy="321.11" r="0.6" fill="none" stroke="#e8587a" stroke-width="0.38"/>
<circle cx="421.24" cy="287.63" r="0.6" fill="none" stroke="#fdc85c" stroke-width="0.38"/>
<circle cx="421.69" cy="287.14" r="0.6" fill="none" stroke="#1b88b8" stroke-width="0.38"/>
<circle cx="421.74" cy="288.29" r="0.6" fill="none" stroke="#1dd19f" stroke-width="0.38"/>
<circle cx="416.75" cy="288.03" r="0.6" fill="none" stroke="#1b88b8" stroke-width="0.38"/>
<circle cx="418.46" cy="287.36" r="0.6" fill="none" stroke="#1dd19f" stroke-width="0.38"/>
<circle cx="419.15" cy="289.13" r="0.6" fill="none" stroke="#1b88b8" stroke-width="0.38"/>
<circle cx="421.37" cy="286.90" r="0.6" fill="none" stroke="#fdc85c" stroke-width="0.38"/>
<circle cx="420.83" cy="287.92" r="0.6" fill="none" stroke="#1b88b8" stroke-width="0.38"/>
<circle cx="419.83" cy="288.61" r="0.6" fill="none" stroke="#1b88b8" stroke-width="0.38"/>
<circle cx="421.86" cy="288.39" r="0.6" fill="none" stroke="#fdc85c" stroke-width="0.38"/>
<circle cx="418.80" cy="287.00" r="0.6" fill="none" stroke="#1dd19f" stroke-width="0.38"/>
<circle cx="418.04" cy="288.46" r="0.6" fill="none" stroke="#1dd19f" stroke-width="0.38"/>
<circle cx="418.54" cy="287.06" r="0.6" fill="none" stroke="#fdc85c" stroke-width="0.38"/>
<circle cx="419.75" cy="288.10" r="0.6" fill="none" stroke="#1b88b8" stroke-width="0.38"/>
<circle cx="415.10" cy="292.36" r="0.6" fill="none" stroke="#1dd19f" stroke-width="0.38"/>
<circle cx="414.76" cy="292.16" r="0.6" fill="none" stroke="#1dd19f" stroke-width="0.38"/>
<circle cx="432.25" cy="288.48" r="0.6" fill="none" stroke="#e8587a" stroke-width="0.38"/>
<circle cx="431.57" cy="289.62" r="0.6" fill="none" stroke="#e8587a" stroke-width="0.38"/>
<circle cx="432.34" cy="288.65" r="0.6" fill="none" stroke="#e8587a" stroke-width="0.38"/>
<circle cx="436.05" cy="285.25" r="0.6" fill="none" stroke="#fdc85c" stroke-width="0.38"/>
<circle cx="436.14" cy="285.96" r="0.6" fill="none" stroke="#fdc85c" stroke-width="0.38"/>
<circle cx="433.20" cy="286.72" r="0.6" fill="none" stroke="#fdc85c" stroke-width="0.38"/>
<circle cx="436.30" cy="286.58" r="0.6" fill="none" stroke="#fdc85c" stroke-width="0.38"/>
<circle cx="435.42" cy="284.43" r="0.6" fill="none" stroke="#fdc85c" stroke-width="0.38"/>
<circle cx="434.85" cy="285.35" r="0.6" fill="none" stroke="#fdc85c" stroke-width="0.38"/>
<circle cx="432.97" cy="284.88" r="0.6" fill="none" stroke="#fdc85c" stroke-width="0.38"/>
<circle cx="432.35" cy="284.89" r="0.6" fill="none" stroke="#fdc85c" stroke-width="0.38"/>
<circle cx="432.66" cy="284.64" r="0.6" fill="none" stroke="#fdc85c" stroke-width="0.38"/>
<circle cx="431.41" cy="286.38" r="0.6" fill="none" stroke="#fdc85c" stroke-width="0.38"/>
<circle cx="436.24" cy="285.99" r="0.6" fill="none" stroke="#fdc85c" stroke-width="0.38"/>
<circle cx="435.64" cy="285.56" r="0.6" fill="none" stroke="#fdc85c" stroke-width="0.38"/>
<circle cx="433.95" cy="285.20" r="0.6" fill="none" stroke="#fdc85c" stroke-width="0.38"/>
<circle cx="433.91" cy="284.90" r="0.6" fill="none" stroke="#fdc85c" stroke-width="0.38"/>
<circle cx="446.10" cy="285.86" r="0.6" fill="none" stroke="#fdc85c" stroke-width="0.38"/>
<circle cx="444.97" cy="285.19" r="0.6" fill="none" stroke="#fdc85c" stroke-width="0.38"/>
<circle cx="446.64" cy="285.99" r="0.6" fill="none" stroke="#fdc85c" stroke-width="0.38"/>
<circle cx="443.62" cy="285.12" r="0.6" fill="none" stroke="#fdc85c" stroke-width="0.38"/>
<circle cx="444.86" cy="284.71" r="0.6" fill="none" stroke="#fdc85c" stroke-width="0.38"/>
<circle cx="442.46" cy="285.57" r="0.6" fill="none" stroke="#fdc85c" stroke-width="0.38"/>
<circle cx="445.29" cy="284.92" r="0.6" fill="none" stroke="#fdc85c" stroke-width="0.38"/>
<circle cx="442.48" cy="284.58" r="0.6" fill="none" stroke="#fdc85c" stroke-width="0.38"/>
<circle cx="446.14" cy="286.19" r="0.6" fill="none" stroke="#fdc85c" stroke-width="0.38"/>
<circle cx="444.10" cy="285.26" r="0.6" fill="none" stroke="#fdc85c" stroke-width="0.38"/>
<circle cx="442.88" cy="284.44" r="0.6" fill="none" stroke="#fdc85c" stroke-width="0.38"/>
<circle cx="442.18" cy="292.37" r="0.6" fill="none" stroke="#1dd19f" stroke-width="0.38"/>
<circle cx="439.36" cy="290.15" r="0.6" fill="none" stroke="#1dd19f" stroke-width="0.38"/>
<circle cx="445.14" cy="290.99" r="0.6" fill="none" stroke="#1dd19f" stroke-width="0.38"/>
<circle cx="439.87" cy="292.67" r="0.6" fill="none" stroke="#1dd19f" stroke-width="0.38"/>
<circle cx="441.13" cy="291.84" r="0.6" fill="none" stroke="#1dd19f" stroke-width="0.38"/>
<circle cx="438.98" cy="291.33" r="0.6" fill="none" stroke="#1dd19f" stroke-width="0.38"/>
<circle cx="440.79" cy="292.98" r="0.6" fill="none" stroke="#1dd19f" stroke-width="0.38"/>
<circle cx="445.80" cy="291.77" r="0.6" fill="none" stroke="#1dd19f" stroke-width="0.38"/>
<circle cx="445.53" cy="291.41" r="0.6" fill="none" stroke="#1dd19f" stroke-width="0.38"/>
<circle cx="439.03" cy="290.73" r="0.6" fill="none" stroke="#1dd19f" stroke-width="0.38"/>
<circle cx="442.33" cy="291.24" r="0.6" fill="none" stroke="#1dd19f" stroke-width="0.38"/>
<circle cx="443.31" cy="290.45" r="0.6" fill="none" stroke="#1dd19f" stroke-width="0.38"/>
<circle cx="441.61" cy="291.17" r="0.6" fill="none" stroke="#1dd19f" stroke-width="0.38"/>
<circle cx="440.26" cy="293.35" r="0.6" fill="none" stroke="#1dd19f" stroke-width="0.38"/>
<circle cx="442.40" cy="291.26" r="0.6" fill="none" stroke="#1dd19f" stroke-width="0.38"/>
<circle cx="441.77" cy="291.47" r="0.6" fill="none" stroke="#1dd19f" stroke-width="0.38"/>
<circle cx="447.02" cy="291.76" r="0.6" fill="none" stroke="#1dd19f" stroke-width="0.38"/>
<circle cx="443.60" cy="291.43" r="0.6" fill="none" stroke="#1dd19f" stroke-width="0.38"/>
<circle cx="439.65" cy="292.63" r="0.6" fill="none" stroke="#1dd19f" stroke-width="0.38"/>
<circle cx="442.16" cy="291.17" r="0.6" fill="none" stroke="#1dd19f" stroke-width="0.38"/>
<circle cx="440.53" cy="291.50" r="0.6" fill="none" stroke="#1dd19f" stroke-width="0.38"/>
<circle cx="437.39" cy="290.99" r="0.6" fill="none" stroke="#1dd19f" stroke-width="0.38"/>
<circle cx="425.81" cy="307.28" r="0.6" fill="none" stroke="#1dd19f" stroke-width="0.38"/>
<circle cx="428.24" cy="298.87" r="0.6" fill="none" stroke="#1dd19f" stroke-width="0.38"/>
<circle cx="426.27" cy="306.21" r="0.6" fill="none" stroke="#1dd19f" stroke-width="0.38"/>
<circle cx="429.76" cy="300.76" r="0.6" fill="none" stroke="#1dd19f" stroke-width="0.38"/>
<circle cx="427.60" cy="302.28" r="0.6" fill="none" stroke="#1dd19f" stroke-width="0.38"/>
<circle cx="429.36" cy="299.35" r="0.6" fill="none" stroke="#1dd19f" stroke-width="0.38"/>
<circle cx="431.61" cy="299.62" r="0.6" fill="none" stroke="#1dd19f" stroke-width="0.38"/>
<circle cx="424.74" cy="302.64" r="0.6" fill="none" stroke="#1dd19f" stroke-width="0.38"/>
<circle cx="430.49" cy="298.35" r="0.6" fill="none" stroke="#1dd19f" stroke-width="0.38"/>
<circle cx="425.07" cy="304.00" r="0.6" fill="none" stroke="#1dd19f" stroke-width="0.38"/>
<circle cx="425.48" cy="304.89" r="0.6" fill="none" stroke="#1dd19f" stroke-width="0.38"/>
<circle cx="427.25" cy="302.17" r="0.6" fill="none" stroke="#1dd19f" stroke-width="0.38"/>
<circle cx="423.55" cy="306.47" r="0.6" fill="none" stroke="#1dd19f" stroke-width="0.38"/>
<circle cx="424.38" cy="305.74" r="0.6" fill="none" stroke="#1dd19f" stroke-width="0.38"/>
<circle cx="430.10" cy="299.58" r="0.6" fill="none" stroke="#1dd19f" stroke-width="0.38"/>
<circle cx="429.80" cy="300.32" r="0.6" fill="none" stroke="#1dd19f" stroke-width="0.38"/>
<circle cx="423.72" cy="305.69" r="0.6" fill="none" stroke="#1dd19f" stroke-width="0.38"/>
<circle cx="423.97" cy="306.50" r="0.6" fill="none" stroke="#1dd19f" stroke-width="0.38"/>
<circle cx="437.42" cy="302.68" r="0.6" fill="none" stroke="#1b88b8" stroke-width="0.38"/>
<circle cx="443.97" cy="304.78" r="0.6" fill="none" stroke="#1b88b8" stroke-width="0.38"/>
<circle cx="439.83" cy="306.13" r="0.6" fill="none" stroke="#1dd19f" stroke-width="0.38"/>
<circle cx="439.17" cy="305.36" r="0.6" fill="none" stroke="#1b88b8" stroke-width="0.38"/>
<circle cx="432.09" cy="315.28" r="0.6" fill="none" stroke="#1b88b8" stroke-width="0.38"/>
<circle cx="444.86" cy="308.42" r="0.6" fill="none" stroke="#1dd19f" stroke-width="0.38"/>
<circle cx="437.95" cy="300.48" r="0.6" fill="none" stroke="#1b88b8" stroke-width="0.38"/>
<circle cx="429.18" cy="306.17" r="0.6" fill="none" stroke="#1b88b8" stroke-width="0.38"/>
<circle cx="428.96" cy="310.35" r="0.6" fill="none" stroke="#1b88b8" stroke-width="0.38"/>
<circle cx="444.81" cy="305.89" r="0.6" fill="none" stroke="#1b88b8" stroke-width="0.38"/>
<circle cx="432.71" cy="298.40" r="0.6" fill="none" stroke="#1dd19f" stroke-width="0.38"/>
<circle cx="443.30" cy="300.05" r="0.6" fill="none" stroke="#1b88b8" stroke-width="0.38"/>
<circle cx="432.47" cy="300.33" r="0.6" fill="none" stroke="#1b88b8" stroke-width="0.38"/>
<circle cx="424.63" cy="305.99" r="0.6" fill="none" stroke="#1b88b8" stroke-width="0.38"/>
<circle cx="437.86" cy="306.71" r="0.6" fill="none" stroke="#1b88b8" stroke-width="0.38"/>
<circle cx="427.18" cy="306.21" r="0.6" fill="none" stroke="#1b88b8" stroke-width="0.38"/>
<circle cx="445.67" cy="310.57" r="0.6" fill="none" stroke="#1dd19f" stroke-width="0.38"/>
<circle cx="432.54" cy="311.85" r="0.6" fill="none" stroke="#1b88b8" stroke-width="0.38"/>
<circle cx="428.75" cy="303.61" r="0.6" fill="none" stroke="#1b88b8" stroke-width="0.38"/>
<circle cx="437.19" cy="315.88" r="0.6" fill="none" stroke="#1b88b8" stroke-width="0.38"/>
<circle cx="425.74" cy="308.19" r="0.6" fill="none" stroke="#1b88b8" stroke-width="0.38"/>
<circle cx="435.55" cy="313.88" r="0.6" fill="none" stroke="#1b88b8" stroke-width="0.38"/>
<circle cx="436.82" cy="312.23" r="0.6" fill="none" stroke="#1b88b8" stroke-width="0.38"/>
<circle cx="438.27" cy="300.41" r="0.6" fill="none" stroke="#1b88b8" stroke-width="0.38"/>
<circle cx="437.62" cy="313.03" r="0.6" fill="none" stroke="#1dd19f" stroke-width="0.38"/>
<circle cx="446.05" cy="302.14" r="0.6" fill="none" stroke="#1b88b8" stroke-width="0.38"/>
<circle cx="437.48" cy="301.75" r="0.6" fill="none" stroke="#1b88b8" stroke-width="0.38"/>
<circle cx="427.64" cy="302.62" r="0.6" fill="none" stroke="#1b88b8" stroke-width="0.38"/>
<circle cx="428.82" cy="307.14" r="0.6" fill="none" stroke="#1b88b8" stroke-width="0.38"/>
<circle cx="439.15" cy="315.57" r="0.6" fill="none" stroke="#1dd19f" stroke-width="0.38"/>
<circle cx="440.13" cy="305.61" r="0.6" fill="none" stroke="#1b88b8" stroke-width="0.38"/>
<circle cx="442.49" cy="312.93" r="0.6" fill="none" stroke="#1dd19f" stroke-width="0.38"/>
<circle cx="429.20" cy="308.74" r="0.6" fill="none" stroke="#1b88b8" stroke-width="0.38"/>
<circle cx="440.67" cy="308.86" r="0.6" fill="none" stroke="#1b88b8" stroke-width="0.38"/>
<circle cx="437.79" cy="310.10" r="0.6" fill="none" stroke="#1b88b8" stroke-width="0.38"/>
<circle cx="436.76" cy="300.30" r="0.6" fill="none" stroke="#1dd19f" stroke-width="0.38"/>
<circle cx="441.92" cy="309.52" r="0.6" fill="none" stroke="#1b88b8" stroke-width="0.38"/>
<circle cx="439.72" cy="311.67" r="0.6" fill="none" stroke="#1b88b8" stroke-width="0.38"/>
<circle cx="443.98" cy="306.01" r="0.6" fill="none" stroke="#1b88b8" stroke-width="0.38"/>
<circle cx="440.27" cy="315.61" r="0.6" fill="none" stroke="#1dd19f" stroke-width="0.38"/>
<circle cx="433.92" cy="308.35" r="0.6" fill="none" stroke="#1b88b8" stroke-width="0.38"/>
<circle cx="436.49" cy="308.38" r="0.6" fill="none" stroke="#1b88b8" stroke-width="0.38"/>
<circle cx="431.49" cy="301.85" r="0.6" fill="none" stroke="#1b88b8" stroke-width="0.38"/>
<circle cx="441.92" cy="308.34" r="0.6" fill="none" stroke="#1b88b8" stroke-width="0.38"/>
<circle cx="431.37" cy="303.38" r="0.6" fill="none" stroke="#1b88b8" stroke-width="0.38"/>
<circle cx="428.58" cy="310.54" r="0.6" fill="none" stroke="#1b88b8" stroke-width="0.38"/>
<circle cx="437.29" cy="316.14" r="0.6" fill="none" stroke="#1b88b8" stroke-width="0.38"/>
<circle cx="424.41" cy="306.58" r="0.6" fill="none" stroke="#1b88b8" stroke-width="0.38"/>
<circle cx="436.94" cy="314.25" r="0.6" fill="none" stroke="#1b88b8" stroke-width="0.38"/>
<circle cx="444.12" cy="311.56" r="0.6" fill="none" stroke="#1b88b8" stroke-width="0.38"/>
<circle cx="443.58" cy="303.95" r="0.6" fill="none" stroke="#1b88b8" stroke-width="0.38"/>
<circle cx="435.03" cy="314.17" r="0.6" fill="none" stroke="#1b88b8" stroke-width="0.38"/>
<circle cx="427.91" cy="307.20" r="0.6" fill="none" stroke="#1b88b8" stroke-width="0.38"/>
<circle cx="432.89" cy="308.06" r="0.6" fill="none" stroke="#1b88b8" stroke-width="0.38"/>
<circle cx="437.87" cy="302.57" r="0.6" fill="none" stroke="#1dd19f" stroke-width="0.38"/>
<circle cx="425.31" cy="303.99" r="0.6" fill="none" stroke="#1b88b8" stroke-width="0.38"/>
<circle cx="440.64" cy="301.50" r="0.6" fill="none" stroke="#1b88b8" stroke-width="0.38"/>
<circle cx="441.44" cy="299.82" r="0.6" fill="none" stroke="#1dd19f" stroke-width="0.38"/>
<circle cx="439.02" cy="299.52" r="0.6" fill="none" stroke="#1b88b8" stroke-width="0.38"/>
<circle cx="438.67" cy="302.35" r="0.6" fill="none" stroke="#1b88b8" stroke-width="0.38"/>
<circle cx="429.21" cy="306.69" r="0.6" fill="none" stroke="#1b88b8" stroke-width="0.38"/>
<circle cx="444.73" cy="304.00" r="0.6" fill="none" stroke="#1b88b8" stroke-width="0.38"/>
<circle cx="447.05" cy="306.12" r="0.6" fill="none" stroke="#1b88b8" stroke-width="0.38"/>
<circle cx="436.70" cy="297.78" r="0.6" fill="none" stroke="#1b88b8" stroke-width="0.38"/>
<circle cx="446.36" cy="310.25" r="0.6" fill="none" stroke="#1b88b8" stroke-width="0.38"/>
<circle cx="425.70" cy="303.26" r="0.6" fill="none" stroke="#1b88b8" stroke-width="0.38"/>
<circle cx="435.02" cy="308.23" r="0.6" fill="none" stroke="#1b88b8" stroke-width="0.38"/>
<circle cx="430.19" cy="300.29" r="0.6" fill="none" stroke="#1b88b8" stroke-width="0.38"/>
<circle cx="435.37" cy="311.13" r="0.6" fill="none" stroke="#1b88b8" stroke-width="0.38"/>
<circle cx="430.59" cy="315.02" r="0.6" fill="none" stroke="#1dd19f" stroke-width="0.38"/>
<circle cx="427.63" cy="300.81" r="0.6" fill="none" stroke="#1b88b8" stroke-width="0.38"/>
<circle cx="427.94" cy="306.17" r="0.6" fill="none" stroke="#1b88b8" stroke-width="0.38"/>
<circle cx="426.06" cy="308.47" r="0.6" fill="none" stroke="#1b88b8" stroke-width="0.38"/>
<circle cx="436.47" cy="312.47" r="0.6" fill="none" stroke="#1b88b8" stroke-width="0.38"/>
<circle cx="424.77" cy="305.56" r="0.6" fill="none" stroke="#1b88b8" stroke-width="0.38"/>
<circle cx="436.84" cy="313.54" r="0.6" fill="none" stroke="#1dd19f" stroke-width="0.38"/>
<circle cx="432.05" cy="299.55" r="0.6" fill="none" stroke="#1b88b8" stroke-width="0.38"/>
<circle cx="440.94" cy="304.39" r="0.6" fill="none" stroke="#1b88b8" stroke-width="0.38"/>
<circle cx="439.94" cy="314.74" r="0.6" fill="none" stroke="#1b88b8" stroke-width="0.38"/>
<circle cx="434.69" cy="314.99" r="0.6" fill="none" stroke="#1b88b8" stroke-width="0.38"/>
<circle cx="430.16" cy="300.78" r="0.6" fill="none" stroke="#1b88b8" stroke-width="0.38"/>
<circle cx="424.71" cy="308.55" r="0.6" fill="none" stroke="#1dd19f" stroke-width="0.38"/>
<circle cx="434.90" cy="314.88" r="0.6" fill="none" stroke="#1b88b8" stroke-width="0.38"/>
<circle cx="426.98" cy="303.50" r="0.6" fill="none" stroke="#1b88b8" stroke-width="0.38"/>
<circle cx="434.20" cy="305.75" r="0.6" fill="none" stroke="#1b88b8" stroke-width="0.38"/>
<circle cx="434.59" cy="307.30" r="0.6" fill="none" stroke="#1b88b8" stroke-width="0.38"/>
<circle cx="445.18" cy="312.75" r="0.6" fill="none" stroke="#1b88b8" stroke-width="0.38"/>
<circle cx="431.41" cy="315.64" r="0.6" fill="none" stroke="#1b88b8" stroke-width="0.38"/>
<circle cx="441.69" cy="302.09" r="0.6" fill="none" stroke="#1b88b8" stroke-width="0.38"/>
<circle cx="435.61" cy="315.45" r="0.6" fill="none" stroke="#1b88b8" stroke-width="0.38"/>
<circle cx="428.77" cy="309.54" r="0.6" fill="none" stroke="#1b88b8" stroke-width="0.38"/>
<circle cx="432.67" cy="314.90" r="0.6" fill="none" stroke="#1b88b8" stroke-width="0.38"/>
<circle cx="429.16" cy="308.72" r="0.6" fill="none" stroke="#1dd19f" stroke-width="0.38"/>
<circle cx="428.23" cy="311.57" r="0.6" fill="none" stroke="#1b88b8" stroke-width="0.38"/>
<circle cx="445.18" cy="304.74" r="0.6" fill="none" stroke="#1b88b8" stroke-width="0.38"/>
<circle cx="437.66" cy="315.26" r="0.6" fill="none" stroke="#1b88b8" stroke-width="0.38"/>
<circle cx="435.74" cy="305.92" r="0.6" fill="none" stroke="#1b88b8" stroke-width="0.38"/>
<circle cx="431.91" cy="304.21" r="0.6" fill="none" stroke="#1b88b8" stroke-width="0.38"/>
<circle cx="438.56" cy="305.90" r="0.6" fill="none" stroke="#1b88b8" stroke-width="0.38"/>
<circle cx="429.07" cy="311.66" r="0.6" fill="none" stroke="#1b88b8" stroke-width="0.38"/>
<circle cx="430.89" cy="304.86" r="0.6" fill="none" stroke="#1b88b8" stroke-width="0.38"/>
<circle cx="440.45" cy="306.82" r="0.6" fill="none" stroke="#1b88b8" stroke-width="0.38"/>
<circle cx="441.98" cy="305.59" r="0.6" fill="none" stroke="#1b88b8" stroke-width="0.38"/>
<circle cx="440.75" cy="313.55" r="0.6" fill="none" stroke="#1dd19f" stroke-width="0.38"/>
<circle cx="438.74" cy="301.38" r="0.6" fill="none" stroke="#1b88b8" stroke-width="0.38"/>
<circle cx="439.39" cy="299.36" r="0.6" fill="none" stroke="#1b88b8" stroke-width="0.38"/>
<circle cx="443.36" cy="299.00" r="0.6" fill="none" stroke="#1b88b8" stroke-width="0.38"/>
<circle cx="444.47" cy="297.93" r="0.6" fill="none" stroke="#1b88b8" stroke-width="0.38"/>
<circle cx="445.72" cy="300.47" r="0.6" fill="none" stroke="#1b88b8" stroke-width="0.38"/>
<circle cx="445.99" cy="297.33" r="0.6" fill="none" stroke="#1b88b8" stroke-width="0.38"/>
<circle cx="446.36" cy="301.93" r="0.6" fill="none" stroke="#1b88b8" stroke-width="0.38"/>
<circle cx="443.07" cy="299.47" r="0.6" fill="none" stroke="#1b88b8" stroke-width="0.38"/>
<circle cx="442.34" cy="296.90" r="0.6" fill="none" stroke="#1b88b8" stroke-width="0.38"/>
<circle cx="441.09" cy="300.47" r="0.6" fill="none" stroke="#1b88b8" stroke-width="0.38"/>
<circle cx="440.23" cy="297.58" r="0.6" fill="none" stroke="#1b88b8" stroke-width="0.38"/>
<circle cx="445.60" cy="303.28" r="0.6" fill="none" stroke="#1b88b8" stroke-width="0.38"/>
<circle cx="445.09" cy="296.72" r="0.6" fill="none" stroke="#1b88b8" stroke-width="0.38"/>
<circle cx="442.80" cy="298.31" r="0.6" fill="none" stroke="#1b88b8" stroke-width="0.38"/>
<circle cx="442.04" cy="301.54" r="0.6" fill="none" stroke="#1b88b8" stroke-width="0.38"/>
<circle cx="446.69" cy="301.51" r="0.6" fill="none" stroke="#1b88b8" stroke-width="0.38"/>
<circle cx="445.59" cy="300.75" r="0.6" fill="none" stroke="#1b88b8" stroke-width="0.38"/>
<circle cx="444.48" cy="300.59" r="0.6" fill="none" stroke="#1b88b8" stroke-width="0.38"/>
<circle cx="442.84" cy="303.33" r="0.6" fill="none" stroke="#1b88b8" stroke-width="0.38"/>
<circle cx="415.72" cy="306.47" r="0.6" fill="none" stroke="#fdc85c" stroke-width="0.38"/>
<circle cx="415.72" cy="306.29" r="0.6" fill="none" stroke="#fdc85c" stroke-width="0.38"/>
<circle cx="416.05" cy="306.25" r="0.6" fill="none" stroke="#fdc85c" stroke-width="0.38"/>
<circle cx="415.31" cy="306.56" r="0.6" fill="none" stroke="#fdc85c" stroke-width="0.38"/>
<circle cx="415.46" cy="302.44" r="0.6" fill="none" stroke="#fdc85c" stroke-width="0.38"/>
<circle cx="413.96" cy="304.81" r="0.6" fill="none" stroke="#fdc85c" stroke-width="0.38"/>
<circle cx="416.63" cy="306.19" r="0.6" fill="none" stroke="#fdc85c" stroke-width="0.38"/>
<circle cx="414.69" cy="303.05" r="0.6" fill="none" stroke="#fdc85c" stroke-width="0.38"/>
<circle cx="415.29" cy="302.37" r="0.6" fill="none" stroke="#fdc85c" stroke-width="0.38"/>
<circle cx="413.82" cy="303.64" r="0.6" fill="none" stroke="#1dd19f" stroke-width="0.38"/>
<circle cx="418.26" cy="305.28" r="0.6" fill="none" stroke="#1dd19f" stroke-width="0.38"/>
<circle cx="415.34" cy="306.56" r="0.6" fill="none" stroke="#fdc85c" stroke-width="0.38"/>
<circle cx="418.33" cy="304.32" r="0.6" fill="none" stroke="#fdc85c" stroke-width="0.38"/>
<circle cx="418.15" cy="305.77" r="0.6" fill="none" stroke="#1dd19f" stroke-width="0.38"/>
<circle cx="414.27" cy="303.23" r="0.6" fill="none" stroke="#fdc85c" stroke-width="0.38"/>
<circle cx="415.30" cy="302.68" r="0.6" fill="none" stroke="#fdc85c" stroke-width="0.38"/>
<circle cx="415.50" cy="309.38" r="0.6" fill="none" stroke="#1dd19f" stroke-width="0.38"/>
<circle cx="417.02" cy="311.29" r="0.6" fill="none" stroke="#1dd19f" stroke-width="0.38"/>
<circle cx="416.31" cy="310.16" r="0.6" fill="none" stroke="#1dd19f" stroke-width="0.38"/>
<circle cx="416.62" cy="307.92" r="0.6" fill="none" stroke="#1dd19f" stroke-width="0.38"/>
<circle cx="417.47" cy="311.54" r="0.6" fill="none" stroke="#1dd19f" stroke-width="0.38"/>
<circle cx="417.99" cy="310.06" r="0.6" fill="none" stroke="#1dd19f" stroke-width="0.38"/>
<circle cx="415.86" cy="308.73" r="0.6" fill="none" stroke="#1dd19f" stroke-width="0.38"/>
<circle cx="415.55" cy="312.33" r="0.6" fill="none" stroke="#1dd19f" stroke-width="0.38"/>
<circle cx="414.93" cy="310.59" r="0.6" fill="none" stroke="#1dd19f" stroke-width="0.38"/>
<circle cx="416.67" cy="309.81" r="0.6" fill="none" stroke="#1dd19f" stroke-width="0.38"/>
<circle cx="417.84" cy="308.42" r="0.6" fill="none" stroke="#1dd19f" stroke-width="0.38"/>
<circle cx="415.64" cy="312.20" r="0.6" fill="none" stroke="#1dd19f" stroke-width="0.38"/>
<circle cx="409.90" cy="311.22" r="0.6" fill="none" stroke="#e8587a" stroke-width="0.38"/>
<circle cx="410.25" cy="311.07" r="0.6" fill="none" stroke="#e8587a" stroke-width="0.38"/>
<circle cx="411.92" cy="311.55" r="0.6" fill="none" stroke="#e8587a" stroke-width="0.38"/>
<circle cx="411.27" cy="311.11" r="0.6" fill="none" stroke="#e8587a" stroke-width="0.38"/>
<circle cx="412.22" cy="310.39" r="0.6" fill="none" stroke="#e8587a" stroke-width="0.38"/>
<circle cx="411.14" cy="308.37" r="0.6" fill="none" stroke="#e8587a" stroke-width="0.38"/>
<circle cx="411.78" cy="310.88" r="0.6" fill="none" stroke="#e8587a" stroke-width="0.38"/>
<circle cx="423.37" cy="317.85" r="0.6" fill="none" stroke="#1dd19f" stroke-width="0.38"/>
<circle cx="417.65" cy="315.17" r="0.6" fill="none" stroke="#fdc85c" stroke-width="0.38"/>
<circle cx="428.03" cy="320.53" r="0.6" fill="none" stroke="#fdc85c" stroke-width="0.38"/>
<circle cx="425.32" cy="319.31" r="0.6" fill="none" stroke="#fdc85c" stroke-width="0.38"/>
<circle cx="419.66" cy="316.14" r="0.6" fill="none" stroke="#1dd19f" stroke-width="0.38"/>
<circle cx="426.49" cy="318.93" r="0.6" fill="none" stroke="#fdc85c" stroke-width="0.38"/>
<circle cx="429.15" cy="320.43" r="0.6" fill="none" stroke="#fdc85c" stroke-width="0.38"/>
<circle cx="429.48" cy="319.12" r="0.6" fill="none" stroke="#fdc85c" stroke-width="0.38"/>
<circle cx="432.26" cy="322.93" r="0.6" fill="none" stroke="#1dd19f" stroke-width="0.38"/>
<circle cx="429.35" cy="319.14" r="0.6" fill="none" stroke="#1dd19f" stroke-width="0.38"/>
<circle cx="429.68" cy="319.66" r="0.6" fill="none" stroke="#fdc85c" stroke-width="0.38"/>
<circle cx="418.72" cy="315.12" r="0.6" fill="none" stroke="#1dd19f" stroke-width="0.38"/>
<circle cx="427.53" cy="320.72" r="0.6" fill="none" stroke="#1dd19f" stroke-width="0.38"/>
<circle cx="422.56" cy="316.95" r="0.6" fill="none" stroke="#1dd19f" stroke-width="0.38"/>
<circle cx="422.39" cy="317.32" r="0.6" fill="none" stroke="#fdc85c" stroke-width="0.38"/>
<circle cx="433.68" cy="322.84" r="0.6" fill="none" stroke="#1dd19f" stroke-width="0.38"/>
<circle cx="430.76" cy="318.90" r="0.6" fill="none" stroke="#fdc85c" stroke-width="0.38"/>
<circle cx="421.80" cy="315.97" r="0.6" fill="none" stroke="#1dd19f" stroke-width="0.38"/>
<circle cx="433.95" cy="324.23" r="0.6" fill="none" stroke="#fdc85c" stroke-width="0.38"/>
<circle cx="419.39" cy="314.64" r="0.6" fill="none" stroke="#1dd19f" stroke-width="0.38"/>
<circle cx="419.24" cy="315.42" r="0.6" fill="none" stroke="#1dd19f" stroke-width="0.38"/>
<circle cx="431.17" cy="322.27" r="0.6" fill="none" stroke="#1dd19f" stroke-width="0.38"/>
<circle cx="417.04" cy="314.87" r="0.6" fill="none" stroke="#fdc85c" stroke-width="0.38"/>
<circle cx="430.66" cy="322.06" r="0.6" fill="none" stroke="#1dd19f" stroke-width="0.38"/>
<circle cx="424.25" cy="318.25" r="0.6" fill="none" stroke="#1dd19f" stroke-width="0.38"/>
<circle cx="429.25" cy="320.36" r="0.6" fill="none" stroke="#fdc85c" stroke-width="0.38"/>
<circle cx="425.69" cy="319.58" r="0.6" fill="none" stroke="#fdc85c" stroke-width="0.38"/>
<circle cx="430.39" cy="320.26" r="0.6" fill="none" stroke="#fdc85c" stroke-width="0.38"/>
<circle cx="428.66" cy="322.84" r="0.6" fill="none" stroke="#fdc85c" stroke-width="0.38"/>
<circle cx="423.00" cy="317.48" r="0.6" fill="none" stroke="#fdc85c" stroke-width="0.38"/>
<circle cx="431.48" cy="324.15" r="0.6" fill="none" stroke="#e8587a" stroke-width="0.38"/>
<circle cx="430.89" cy="324.05" r="0.6" fill="none" stroke="#e8587a" stroke-width="0.38"/>
<circle cx="433.82" cy="341.09" r="0.6" fill="none" stroke="#1b88b8" stroke-width="0.38"/>
<circle cx="435.21" cy="348.44" r="0.6" fill="none" stroke="#1b88b8" stroke-width="0.38"/>
<circle cx="433.85" cy="341.75" r="0.6" fill="none" stroke="#1b88b8" stroke-width="0.38"/>
<circle cx="432.80" cy="341.18" r="0.6" fill="none" stroke="#fdc85c" stroke-width="0.38"/>
<circle cx="432.63" cy="341.44" r="0.6" fill="none" stroke="#1b88b8" stroke-width="0.38"/>
<circle cx="435.52" cy="347.88" r="0.6" fill="none" stroke="#fdc85c" stroke-width="0.38"/>
<circle cx="435.24" cy="346.94" r="0.6" fill="none" stroke="#1b88b8" stroke-width="0.38"/>
<circle cx="435.30" cy="345.75" r="0.6" fill="none" stroke="#1b88b8" stroke-width="0.38"/>
<circle cx="433.39" cy="341.68" r="0.6" fill="none" stroke="#1b88b8" stroke-width="0.38"/>
<circle cx="433.88" cy="347.88" r="0.6" fill="none" stroke="#1b88b8" stroke-width="0.38"/>
<circle cx="433.48" cy="345.22" r="0.6" fill="none" stroke="#1b88b8" stroke-width="0.38"/>
<circle cx="434.80" cy="347.65" r="0.6" fill="none" stroke="#1dd19f" stroke-width="0.38"/>
<circle cx="435.37" cy="345.29" r="0.6" fill="none" stroke="#1dd19f" stroke-width="0.38"/>
<circle cx="433.10" cy="345.95" r="0.6" fill="none" stroke="#1b88b8" stroke-width="0.38"/>
<circle cx="428.20" cy="351.97" r="0.6" fill="none" stroke="#e8587a" stroke-width="0.38"/>
<circle cx="428.00" cy="353.05" r="0.6" fill="none" stroke="#e8587a" stroke-width="0.38"/>
<circle cx="427.84" cy="353.07" r="0.6" fill="none" stroke="#e8587a" stroke-width="0.38"/>
<line x1="366.50" y1="348.00" x2="366.50" y2="331.30" stroke="#111" stroke-width="1.0" />
<path d="M366.50,328.90 L365.00,331.70 L368.00,331.70 Z" fill="#111"/>
<line x1="366.00" y1="347.50" x2="382.20" y2="347.50" stroke="#111" stroke-width="1.0" />
<path d="M384.60,347.50 L381.80,346.00 L381.80,349.00 Z" fill="#111"/>
<text transform="translate(363.70,336.50) rotate(-90)" font-size="6.6" text-anchor="middle" fill="#1a1a1a" stroke="#1a1a1a" stroke-width="0.16">UMAP 2</text>
<text x="366.00" y="355.90" font-size="6.6" text-anchor="start" fill="#1a1a1a" stroke="#1a1a1a" stroke-width="0.16">UMAP 1</text>
<rect x="468.20" y="153.40" width="103.30" height="63.10" fill="none" stroke="#8f8f8f" stroke-width="0.6" stroke-dasharray="1.5,1.1"/>
<circle cx="486.97" cy="195.89" r="0.85" fill="none" stroke="#1f3f7f" stroke-width="0.55"/>
<circle cx="488.64" cy="193.49" r="0.85" fill="none" stroke="#1f3f7f" stroke-width="0.55"/>
<circle cx="492.59" cy="196.36" r="0.85" fill="none" stroke="#1f3f7f" stroke-width="0.55"/>
<circle cx="494.99" cy="196.09" r="0.85" fill="none" stroke="#f08585" stroke-width="0.55"/>
<circle cx="490.72" cy="195.25" r="0.85" fill="none" stroke="#1f3f7f" stroke-width="0.55"/>
<circle cx="490.44" cy="195.64" r="0.85" fill="none" stroke="#f08585" stroke-width="0.55"/>
<circle cx="486.59" cy="194.18" r="0.85" fill="none" stroke="#1f3f7f" stroke-width="0.55"/>
<circle cx="489.56" cy="200.01" r="0.85" fill="none" stroke="#1f3f7f" stroke-width="0.55"/>
<circle cx="489.48" cy="197.07" r="0.85" fill="none" stroke="#1f3f7f" stroke-width="0.55"/>
<circle cx="486.82" cy="197.61" r="0.85" fill="none" stroke="#1f3f7f" stroke-width="0.55"/>
<circle cx="492.60" cy="194.71" r="0.85" fill="none" stroke="#f08585" stroke-width="0.55"/>
<circle cx="489.36" cy="195.58" r="0.85" fill="none" stroke="#1f3f7f" stroke-width="0.55"/>
<circle cx="492.76" cy="196.32" r="0.85" fill="none" stroke="#1f3f7f" stroke-width="0.55"/>
<circle cx="490.43" cy="196.42" r="0.85" fill="none" stroke="#1f3f7f" stroke-width="0.55"/>
<circle cx="487.41" cy="193.39" r="0.85" fill="none" stroke="#1f3f7f" stroke-width="0.55"/>
<circle cx="489.39" cy="193.25" r="0.85" fill="none" stroke="#f08585" stroke-width="0.55"/>
<circle cx="494.63" cy="193.82" r="0.85" fill="none" stroke="#f08585" stroke-width="0.55"/>
<circle cx="486.91" cy="197.78" r="0.85" fill="none" stroke="#1f3f7f" stroke-width="0.55"/>
<circle cx="490.96" cy="197.37" r="0.85" fill="none" stroke="#1f3f7f" stroke-width="0.55"/>
<circle cx="491.69" cy="195.42" r="0.85" fill="none" stroke="#1f3f7f" stroke-width="0.55"/>
<circle cx="488.16" cy="197.32" r="0.85" fill="none" stroke="#1f3f7f" stroke-width="0.55"/>
<circle cx="491.77" cy="192.98" r="0.85" fill="none" stroke="#f08585" stroke-width="0.55"/>
<circle cx="490.41" cy="197.05" r="0.85" fill="none" stroke="#1f3f7f" stroke-width="0.55"/>
<circle cx="494.69" cy="193.14" r="0.85" fill="none" stroke="#f08585" stroke-width="0.55"/>
<circle cx="494.97" cy="195.98" r="0.85" fill="none" stroke="#f08585" stroke-width="0.55"/>
<circle cx="492.06" cy="190.97" r="0.85" fill="none" stroke="#f08585" stroke-width="0.55"/>
<circle cx="492.48" cy="195.78" r="0.85" fill="none" stroke="#1f3f7f" stroke-width="0.55"/>
<circle cx="489.53" cy="199.78" r="0.85" fill="none" stroke="#1f3f7f" stroke-width="0.55"/>
<circle cx="489.29" cy="195.14" r="0.85" fill="none" stroke="#f08585" stroke-width="0.55"/>
<circle cx="492.36" cy="197.09" r="0.85" fill="none" stroke="#1f3f7f" stroke-width="0.55"/>
<circle cx="489.08" cy="190.85" r="0.85" fill="none" stroke="#f08585" stroke-width="0.55"/>
<circle cx="493.80" cy="192.28" r="0.85" fill="none" stroke="#f08585" stroke-width="0.55"/>
<circle cx="486.32" cy="195.21" r="0.85" fill="none" stroke="#1f3f7f" stroke-width="0.55"/>
<circle cx="486.45" cy="193.38" r="0.85" fill="none" stroke="#1f3f7f" stroke-width="0.55"/>
<circle cx="491.63" cy="189.72" r="0.85" fill="none" stroke="#f08585" stroke-width="0.55"/>
<circle cx="492.54" cy="192.17" r="0.85" fill="none" stroke="#f08585" stroke-width="0.55"/>
<circle cx="488.30" cy="192.34" r="0.85" fill="none" stroke="#f08585" stroke-width="0.55"/>
<circle cx="487.34" cy="190.57" r="0.85" fill="none" stroke="#f08585" stroke-width="0.55"/>
<circle cx="490.06" cy="190.60" r="0.85" fill="none" stroke="#f08585" stroke-width="0.55"/>
<circle cx="490.40" cy="193.77" r="0.85" fill="none" stroke="#f08585" stroke-width="0.55"/>
<circle cx="489.32" cy="191.09" r="0.85" fill="none" stroke="#f08585" stroke-width="0.55"/>
<circle cx="493.03" cy="194.91" r="0.85" fill="none" stroke="#f08585" stroke-width="0.55"/>
<circle cx="547.06" cy="158.87" r="0.85" fill="none" stroke="#1f3f7f" stroke-width="0.55"/>
<circle cx="550.46" cy="159.17" r="0.85" fill="none" stroke="#1f3f7f" stroke-width="0.55"/>
<circle cx="550.15" cy="159.45" r="0.85" fill="none" stroke="#1f3f7f" stroke-width="0.55"/>
<circle cx="547.02" cy="160.16" r="0.85" fill="none" stroke="#1f3f7f" stroke-width="0.55"/>
<circle cx="546.42" cy="160.01" r="0.85" fill="none" stroke="#1f3f7f" stroke-width="0.55"/>
<circle cx="548.13" cy="159.01" r="0.85" fill="none" stroke="#1f3f7f" stroke-width="0.55"/>
<circle cx="546.84" cy="159.98" r="0.85" fill="none" stroke="#1f3f7f" stroke-width="0.55"/>
<circle cx="546.18" cy="159.60" r="0.85" fill="none" stroke="#1f3f7f" stroke-width="0.55"/>
<circle cx="546.86" cy="158.68" r="0.85" fill="none" stroke="#1f3f7f" stroke-width="0.55"/>
<circle cx="550.26" cy="159.29" r="0.85" fill="none" stroke="#1f3f7f" stroke-width="0.55"/>
<circle cx="549.28" cy="158.89" r="0.85" fill="none" stroke="#1f3f7f" stroke-width="0.55"/>
<circle cx="548.52" cy="158.64" r="0.85" fill="none" stroke="#1f3f7f" stroke-width="0.55"/>
<circle cx="548.65" cy="158.96" r="0.85" fill="none" stroke="#1f3f7f" stroke-width="0.55"/>
<circle cx="549.45" cy="160.04" r="0.85" fill="none" stroke="#1f3f7f" stroke-width="0.55"/>
<circle cx="550.09" cy="159.14" r="0.85" fill="none" stroke="#1f3f7f" stroke-width="0.55"/>
<circle cx="546.87" cy="159.30" r="0.85" fill="none" stroke="#1f3f7f" stroke-width="0.55"/>
<circle cx="549.01" cy="161.38" r="0.85" fill="none" stroke="#1f3f7f" stroke-width="0.55"/>
<circle cx="548.99" cy="162.02" r="0.85" fill="none" stroke="#1f3f7f" stroke-width="0.55"/>
<circle cx="548.60" cy="162.14" r="0.85" fill="none" stroke="#1f3f7f" stroke-width="0.55"/>
<circle cx="549.28" cy="162.81" r="0.85" fill="none" stroke="#1f3f7f" stroke-width="0.55"/>
<circle cx="548.48" cy="162.01" r="0.85" fill="none" stroke="#1f3f7f" stroke-width="0.55"/>
<circle cx="548.38" cy="163.41" r="0.85" fill="none" stroke="#1f3f7f" stroke-width="0.55"/>
<circle cx="549.54" cy="168.40" r="0.85" fill="none" stroke="#1f3f7f" stroke-width="0.55"/>
<circle cx="548.51" cy="168.26" r="0.85" fill="none" stroke="#1f3f7f" stroke-width="0.55"/>
<circle cx="548.84" cy="167.22" r="0.85" fill="none" stroke="#1f3f7f" stroke-width="0.55"/>
<circle cx="548.38" cy="168.52" r="0.85" fill="none" stroke="#1f3f7f" stroke-width="0.55"/>
<circle cx="549.62" cy="168.45" r="0.85" fill="none" stroke="#1f3f7f" stroke-width="0.55"/>
<circle cx="547.90" cy="167.95" r="0.85" fill="none" stroke="#1f3f7f" stroke-width="0.55"/>
<circle cx="549.16" cy="168.95" r="0.85" fill="none" stroke="#1f3f7f" stroke-width="0.55"/>
<circle cx="547.67" cy="166.36" r="0.85" fill="none" stroke="#1f3f7f" stroke-width="0.55"/>
<circle cx="549.54" cy="166.89" r="0.85" fill="none" stroke="#1f3f7f" stroke-width="0.55"/>
<circle cx="539.20" cy="174.95" r="0.85" fill="none" stroke="#f08585" stroke-width="0.55"/>
<circle cx="545.85" cy="168.87" r="0.85" fill="none" stroke="#1f3f7f" stroke-width="0.55"/>
<circle cx="541.66" cy="173.27" r="0.85" fill="none" stroke="#f08585" stroke-width="0.55"/>
<circle cx="544.18" cy="169.58" r="0.85" fill="none" stroke="#1f3f7f" stroke-width="0.55"/>
<circle cx="545.84" cy="169.46" r="0.85" fill="none" stroke="#1f3f7f" stroke-width="0.55"/>
<circle cx="545.32" cy="170.26" r="0.85" fill="none" stroke="#f08585" stroke-width="0.55"/>
<circle cx="547.10" cy="170.15" r="0.85" fill="none" stroke="#f08585" stroke-width="0.55"/>
<circle cx="542.05" cy="171.77" r="0.85" fill="none" stroke="#1f3f7f" stroke-width="0.55"/>
<circle cx="537.45" cy="176.73" r="0.85" fill="none" stroke="#f08585" stroke-width="0.55"/>
<circle cx="537.26" cy="177.91" r="0.85" fill="none" stroke="#1f3f7f" stroke-width="0.55"/>
<circle cx="537.51" cy="176.03" r="0.85" fill="none" stroke="#1f3f7f" stroke-width="0.55"/>
<circle cx="535.91" cy="176.63" r="0.85" fill="none" stroke="#f08585" stroke-width="0.55"/>
<circle cx="538.39" cy="176.57" r="0.85" fill="none" stroke="#f08585" stroke-width="0.55"/>
<circle cx="538.42" cy="176.39" r="0.85" fill="none" stroke="#f08585" stroke-width="0.55"/>
<circle cx="535.66" cy="178.06" r="0.85" fill="none" stroke="#1f3f7f" stroke-width="0.55"/>
<circle cx="538.13" cy="177.36" r="0.85" fill="none" stroke="#1f3f7f" stroke-width="0.55"/>
<circle cx="544.83" cy="177.72" r="0.85" fill="none" stroke="#1f3f7f" stroke-width="0.55"/>
<circle cx="542.62" cy="178.03" r="0.85" fill="none" stroke="#1f3f7f" stroke-width="0.55"/>
<circle cx="543.72" cy="176.23" r="0.85" fill="none" stroke="#1f3f7f" stroke-width="0.55"/>
<circle cx="543.56" cy="179.63" r="0.85" fill="none" stroke="#f08585" stroke-width="0.55"/>
<circle cx="544.25" cy="178.91" r="0.85" fill="none" stroke="#f08585" stroke-width="0.55"/>
<circle cx="544.78" cy="177.98" r="0.85" fill="none" stroke="#1f3f7f" stroke-width="0.55"/>
<circle cx="544.70" cy="179.05" r="0.85" fill="none" stroke="#f08585" stroke-width="0.55"/>
<circle cx="544.19" cy="179.52" r="0.85" fill="none" stroke="#f08585" stroke-width="0.55"/>
<circle cx="557.85" cy="180.41" r="0.85" fill="none" stroke="#f08585" stroke-width="0.55"/>
<circle cx="549.02" cy="180.74" r="0.85" fill="none" stroke="#f08585" stroke-width="0.55"/>
<circle cx="550.71" cy="174.59" r="0.85" fill="none" stroke="#f08585" stroke-width="0.55"/>
<circle cx="554.87" cy="182.87" r="0.85" fill="none" stroke="#1f3f7f" stroke-width="0.55"/>
<circle cx="558.12" cy="180.13" r="0.85" fill="none" stroke="#f08585" stroke-width="0.55"/>
<circle cx="547.13" cy="180.05" r="0.85" fill="none" stroke="#f08585" stroke-width="0.55"/>
<circle cx="556.99" cy="175.95" r="0.85" fill="none" stroke="#1f3f7f" stroke-width="0.55"/>
<circle cx="549.61" cy="176.74" r="0.85" fill="none" stroke="#f08585" stroke-width="0.55"/>
<circle cx="556.32" cy="179.64" r="0.85" fill="none" stroke="#f08585" stroke-width="0.55"/>
<circle cx="548.05" cy="179.03" r="0.85" fill="none" stroke="#f08585" stroke-width="0.55"/>
<circle cx="544.64" cy="176.83" r="0.85" fill="none" stroke="#f08585" stroke-width="0.55"/>
<circle cx="556.49" cy="182.19" r="0.85" fill="none" stroke="#f08585" stroke-width="0.55"/>
<circle cx="550.72" cy="183.51" r="0.85" fill="none" stroke="#f08585" stroke-width="0.55"/>
<circle cx="551.56" cy="175.23" r="0.85" fill="none" stroke="#1f3f7f" stroke-width="0.55"/>
<circle cx="552.51" cy="177.19" r="0.85" fill="none" stroke="#f08585" stroke-width="0.55"/>
<circle cx="549.90" cy="176.62" r="0.85" fill="none" stroke="#f08585" stroke-width="0.55"/>
<circle cx="549.18" cy="173.72" r="0.85" fill="none" stroke="#f08585" stroke-width="0.55"/>
<circle cx="552.50" cy="181.85" r="0.85" fill="none" stroke="#f08585" stroke-width="0.55"/>
<circle cx="556.10" cy="182.16" r="0.85" fill="none" stroke="#f08585" stroke-width="0.55"/>
<circle cx="548.34" cy="179.63" r="0.85" fill="none" stroke="#f08585" stroke-width="0.55"/>
<circle cx="555.48" cy="177.84" r="0.85" fill="none" stroke="#f08585" stroke-width="0.55"/>
<circle cx="547.68" cy="179.86" r="0.85" fill="none" stroke="#1f3f7f" stroke-width="0.55"/>
<circle cx="556.06" cy="180.57" r="0.85" fill="none" stroke="#f08585" stroke-width="0.55"/>
<circle cx="551.81" cy="176.30" r="0.85" fill="none" stroke="#f08585" stroke-width="0.55"/>
<circle cx="549.52" cy="183.40" r="0.85" fill="none" stroke="#f08585" stroke-width="0.55"/>
<circle cx="547.76" cy="182.48" r="0.85" fill="none" stroke="#f08585" stroke-width="0.55"/>
<circle cx="545.42" cy="175.43" r="0.85" fill="none" stroke="#1f3f7f" stroke-width="0.55"/>
<circle cx="552.76" cy="174.66" r="0.85" fill="none" stroke="#f08585" stroke-width="0.55"/>
<circle cx="554.25" cy="176.08" r="0.85" fill="none" stroke="#f08585" stroke-width="0.55"/>
<circle cx="548.05" cy="180.61" r="0.85" fill="none" stroke="#f08585" stroke-width="0.55"/>
<circle cx="545.31" cy="176.58" r="0.85" fill="none" stroke="#f08585" stroke-width="0.55"/>
<circle cx="554.22" cy="175.72" r="0.85" fill="none" stroke="#f08585" stroke-width="0.55"/>
<circle cx="545.23" cy="175.43" r="0.85" fill="none" stroke="#f08585" stroke-width="0.55"/>
<circle cx="545.55" cy="176.40" r="0.85" fill="none" stroke="#f08585" stroke-width="0.55"/>
<circle cx="553.14" cy="176.96" r="0.85" fill="none" stroke="#f08585" stroke-width="0.55"/>
<circle cx="549.44" cy="175.47" r="0.85" fill="none" stroke="#f08585" stroke-width="0.55"/>
<circle cx="551.91" cy="173.97" r="0.85" fill="none" stroke="#1f3f7f" stroke-width="0.55"/>
<circle cx="546.37" cy="178.29" r="0.85" fill="none" stroke="#f08585" stroke-width="0.55"/>
<circle cx="546.11" cy="181.30" r="0.85" fill="none" stroke="#1f3f7f" stroke-width="0.55"/>
<circle cx="554.82" cy="172.72" r="0.85" fill="none" stroke="#f08585" stroke-width="0.55"/>
<circle cx="549.94" cy="172.37" r="0.85" fill="none" stroke="#f08585" stroke-width="0.55"/>
<circle cx="551.12" cy="171.54" r="0.85" fill="none" stroke="#f08585" stroke-width="0.55"/>
<circle cx="548.13" cy="179.72" r="0.85" fill="none" stroke="#f08585" stroke-width="0.55"/>
<circle cx="555.73" cy="181.61" r="0.85" fill="none" stroke="#f08585" stroke-width="0.55"/>
<circle cx="546.33" cy="179.39" r="0.85" fill="none" stroke="#f08585" stroke-width="0.55"/>
<circle cx="552.80" cy="180.92" r="0.85" fill="none" stroke="#f08585" stroke-width="0.55"/>
<circle cx="551.99" cy="180.90" r="0.85" fill="none" stroke="#f08585" stroke-width="0.55"/>
<circle cx="549.54" cy="182.62" r="0.85" fill="none" stroke="#f08585" stroke-width="0.55"/>
<circle cx="556.59" cy="174.00" r="0.85" fill="none" stroke="#f08585" stroke-width="0.55"/>
<circle cx="548.23" cy="178.44" r="0.85" fill="none" stroke="#1f3f7f" stroke-width="0.55"/>
<circle cx="547.69" cy="181.27" r="0.85" fill="none" stroke="#f08585" stroke-width="0.55"/>
<circle cx="549.63" cy="175.41" r="0.85" fill="none" stroke="#f08585" stroke-width="0.55"/>
<circle cx="553.21" cy="172.76" r="0.85" fill="none" stroke="#f08585" stroke-width="0.55"/>
<circle cx="549.95" cy="181.13" r="0.85" fill="none" stroke="#f08585" stroke-width="0.55"/>
<circle cx="555.11" cy="177.95" r="0.85" fill="none" stroke="#f08585" stroke-width="0.55"/>
<circle cx="557.84" cy="178.15" r="0.85" fill="none" stroke="#f08585" stroke-width="0.55"/>
<circle cx="550.76" cy="183.64" r="0.85" fill="none" stroke="#f08585" stroke-width="0.55"/>
<circle cx="556.65" cy="176.70" r="0.85" fill="none" stroke="#f08585" stroke-width="0.55"/>
<circle cx="545.69" cy="181.25" r="0.85" fill="none" stroke="#f08585" stroke-width="0.55"/>
<circle cx="546.61" cy="176.81" r="0.85" fill="none" stroke="#f08585" stroke-width="0.55"/>
<circle cx="550.78" cy="179.79" r="0.85" fill="none" stroke="#f08585" stroke-width="0.55"/>
<circle cx="547.81" cy="182.32" r="0.85" fill="none" stroke="#f08585" stroke-width="0.55"/>
<circle cx="557.74" cy="176.86" r="0.85" fill="none" stroke="#f08585" stroke-width="0.55"/>
<circle cx="550.65" cy="174.98" r="0.85" fill="none" stroke="#f08585" stroke-width="0.55"/>
<circle cx="557.75" cy="177.79" r="0.85" fill="none" stroke="#f08585" stroke-width="0.55"/>
<circle cx="547.84" cy="181.51" r="0.85" fill="none" stroke="#f08585" stroke-width="0.55"/>
<circle cx="549.73" cy="175.21" r="0.85" fill="none" stroke="#f08585" stroke-width="0.55"/>
<circle cx="556.44" cy="176.42" r="0.85" fill="none" stroke="#f08585" stroke-width="0.55"/>
<circle cx="553.70" cy="179.46" r="0.85" fill="none" stroke="#f08585" stroke-width="0.55"/>
<circle cx="553.39" cy="181.89" r="0.85" fill="none" stroke="#f08585" stroke-width="0.55"/>
<circle cx="551.91" cy="180.69" r="0.85" fill="none" stroke="#f08585" stroke-width="0.55"/>
<circle cx="555.52" cy="176.04" r="0.85" fill="none" stroke="#f08585" stroke-width="0.55"/>
<circle cx="553.38" cy="174.40" r="0.85" fill="none" stroke="#f08585" stroke-width="0.55"/>
<circle cx="546.75" cy="181.33" r="0.85" fill="none" stroke="#f08585" stroke-width="0.55"/>
<circle cx="550.76" cy="177.53" r="0.85" fill="none" stroke="#f08585" stroke-width="0.55"/>
<circle cx="554.88" cy="180.61" r="0.85" fill="none" stroke="#f08585" stroke-width="0.55"/>
<circle cx="549.37" cy="176.41" r="0.85" fill="none" stroke="#1f3f7f" stroke-width="0.55"/>
<circle cx="548.53" cy="181.83" r="0.85" fill="none" stroke="#f08585" stroke-width="0.55"/>
<circle cx="545.61" cy="177.54" r="0.85" fill="none" stroke="#f08585" stroke-width="0.55"/>
<circle cx="549.33" cy="176.00" r="0.85" fill="none" stroke="#f08585" stroke-width="0.55"/>
<circle cx="550.19" cy="174.52" r="0.85" fill="none" stroke="#f08585" stroke-width="0.55"/>
<circle cx="556.41" cy="182.68" r="0.85" fill="none" stroke="#1f3f7f" stroke-width="0.55"/>
<circle cx="546.64" cy="176.26" r="0.85" fill="none" stroke="#1f3f7f" stroke-width="0.55"/>
<circle cx="553.73" cy="173.43" r="0.85" fill="none" stroke="#f08585" stroke-width="0.55"/>
<circle cx="554.24" cy="176.15" r="0.85" fill="none" stroke="#f08585" stroke-width="0.55"/>
<circle cx="549.65" cy="177.56" r="0.85" fill="none" stroke="#f08585" stroke-width="0.55"/>
<circle cx="556.77" cy="176.11" r="0.85" fill="none" stroke="#f08585" stroke-width="0.55"/>
<circle cx="547.54" cy="181.54" r="0.85" fill="none" stroke="#f08585" stroke-width="0.55"/>
<circle cx="548.91" cy="178.60" r="0.85" fill="none" stroke="#f08585" stroke-width="0.55"/>
<circle cx="547.93" cy="177.68" r="0.85" fill="none" stroke="#f08585" stroke-width="0.55"/>
<circle cx="557.07" cy="179.37" r="0.85" fill="none" stroke="#1f3f7f" stroke-width="0.55"/>
<circle cx="547.09" cy="178.90" r="0.85" fill="none" stroke="#f08585" stroke-width="0.55"/>
<circle cx="551.55" cy="173.50" r="0.85" fill="none" stroke="#f08585" stroke-width="0.55"/>
<circle cx="547.62" cy="180.45" r="0.85" fill="none" stroke="#1f3f7f" stroke-width="0.55"/>
<circle cx="546.95" cy="177.42" r="0.85" fill="none" stroke="#f08585" stroke-width="0.55"/>
<circle cx="550.49" cy="171.91" r="0.85" fill="none" stroke="#f08585" stroke-width="0.55"/>
<circle cx="549.68" cy="182.89" r="0.85" fill="none" stroke="#f08585" stroke-width="0.55"/>
<circle cx="547.09" cy="178.03" r="0.85" fill="none" stroke="#f08585" stroke-width="0.55"/>
<circle cx="551.76" cy="181.74" r="0.85" fill="none" stroke="#f08585" stroke-width="0.55"/>
<circle cx="557.34" cy="174.67" r="0.85" fill="none" stroke="#1f3f7f" stroke-width="0.55"/>
<circle cx="552.62" cy="175.18" r="0.85" fill="none" stroke="#f08585" stroke-width="0.55"/>
<circle cx="556.57" cy="181.51" r="0.85" fill="none" stroke="#f08585" stroke-width="0.55"/>
<circle cx="554.96" cy="178.11" r="0.85" fill="none" stroke="#f08585" stroke-width="0.55"/>
<circle cx="556.50" cy="174.45" r="0.85" fill="none" stroke="#f08585" stroke-width="0.55"/>
<circle cx="552.68" cy="178.43" r="0.85" fill="none" stroke="#f08585" stroke-width="0.55"/>
<circle cx="557.83" cy="175.47" r="0.85" fill="none" stroke="#f08585" stroke-width="0.55"/>
<circle cx="557.36" cy="175.18" r="0.85" fill="none" stroke="#f08585" stroke-width="0.55"/>
<circle cx="548.64" cy="178.57" r="0.85" fill="none" stroke="#1f3f7f" stroke-width="0.55"/>
<circle cx="549.44" cy="175.97" r="0.85" fill="none" stroke="#f08585" stroke-width="0.55"/>
<circle cx="550.91" cy="174.45" r="0.85" fill="none" stroke="#1f3f7f" stroke-width="0.55"/>
<circle cx="556.57" cy="175.88" r="0.85" fill="none" stroke="#1f3f7f" stroke-width="0.55"/>
<circle cx="555.10" cy="175.64" r="0.85" fill="none" stroke="#1f3f7f" stroke-width="0.55"/>
<circle cx="555.04" cy="176.44" r="0.85" fill="none" stroke="#1f3f7f" stroke-width="0.55"/>
<circle cx="556.64" cy="172.47" r="0.85" fill="none" stroke="#1f3f7f" stroke-width="0.55"/>
<circle cx="553.96" cy="172.63" r="0.85" fill="none" stroke="#1f3f7f" stroke-width="0.55"/>
<circle cx="552.64" cy="174.80" r="0.85" fill="none" stroke="#1f3f7f" stroke-width="0.55"/>
<circle cx="554.45" cy="175.47" r="0.85" fill="none" stroke="#1f3f7f" stroke-width="0.55"/>
<circle cx="554.86" cy="172.51" r="0.85" fill="none" stroke="#1f3f7f" stroke-width="0.55"/>
<circle cx="557.34" cy="172.20" r="0.85" fill="none" stroke="#1f3f7f" stroke-width="0.55"/>
<circle cx="552.49" cy="175.92" r="0.85" fill="none" stroke="#1f3f7f" stroke-width="0.55"/>
<circle cx="553.62" cy="172.58" r="0.85" fill="none" stroke="#1f3f7f" stroke-width="0.55"/>
<circle cx="551.86" cy="173.90" r="0.85" fill="none" stroke="#1f3f7f" stroke-width="0.55"/>
<circle cx="556.10" cy="176.35" r="0.85" fill="none" stroke="#1f3f7f" stroke-width="0.55"/>
<circle cx="552.18" cy="174.96" r="0.85" fill="none" stroke="#1f3f7f" stroke-width="0.55"/>
<circle cx="553.30" cy="174.10" r="0.85" fill="none" stroke="#1f3f7f" stroke-width="0.55"/>
<circle cx="552.58" cy="172.55" r="0.85" fill="none" stroke="#1f3f7f" stroke-width="0.55"/>
<circle cx="555.05" cy="174.33" r="0.85" fill="none" stroke="#1f3f7f" stroke-width="0.55"/>
<circle cx="554.57" cy="176.67" r="0.85" fill="none" stroke="#f08585" stroke-width="0.55"/>
<circle cx="546.13" cy="184.33" r="0.85" fill="none" stroke="#f08585" stroke-width="0.55"/>
<circle cx="549.34" cy="185.25" r="0.85" fill="none" stroke="#f08585" stroke-width="0.55"/>
<circle cx="547.52" cy="184.52" r="0.85" fill="none" stroke="#f08585" stroke-width="0.55"/>
<circle cx="549.13" cy="186.58" r="0.85" fill="none" stroke="#f08585" stroke-width="0.55"/>
<circle cx="546.92" cy="185.67" r="0.85" fill="none" stroke="#f08585" stroke-width="0.55"/>
<circle cx="546.10" cy="185.04" r="0.85" fill="none" stroke="#f08585" stroke-width="0.55"/>
<circle cx="548.09" cy="184.42" r="0.85" fill="none" stroke="#f08585" stroke-width="0.55"/>
<circle cx="547.12" cy="185.72" r="0.85" fill="none" stroke="#f08585" stroke-width="0.55"/>
<circle cx="550.11" cy="184.85" r="0.85" fill="none" stroke="#f08585" stroke-width="0.55"/>
<circle cx="547.03" cy="184.52" r="0.85" fill="none" stroke="#f08585" stroke-width="0.55"/>
<circle cx="546.92" cy="186.93" r="0.85" fill="none" stroke="#f08585" stroke-width="0.55"/>
<circle cx="547.77" cy="184.43" r="0.85" fill="none" stroke="#f08585" stroke-width="0.55"/>
<circle cx="537.63" cy="185.44" r="0.85" fill="none" stroke="#1f3f7f" stroke-width="0.55"/>
<circle cx="537.86" cy="187.54" r="0.85" fill="none" stroke="#1f3f7f" stroke-width="0.55"/>
<circle cx="538.28" cy="186.16" r="0.85" fill="none" stroke="#1f3f7f" stroke-width="0.55"/>
<circle cx="538.52" cy="187.59" r="0.85" fill="none" stroke="#f08585" stroke-width="0.55"/>
<circle cx="539.18" cy="187.53" r="0.85" fill="none" stroke="#f08585" stroke-width="0.55"/>
<circle cx="538.87" cy="186.66" r="0.85" fill="none" stroke="#1f3f7f" stroke-width="0.55"/>
<circle cx="540.10" cy="185.66" r="0.85" fill="none" stroke="#1f3f7f" stroke-width="0.55"/>
<circle cx="545.24" cy="197.97" r="0.85" fill="none" stroke="#f08585" stroke-width="0.55"/>
<circle cx="545.25" cy="198.27" r="0.85" fill="none" stroke="#f08585" stroke-width="0.55"/>
<circle cx="544.48" cy="198.98" r="0.85" fill="none" stroke="#f08585" stroke-width="0.55"/>
<circle cx="544.81" cy="198.40" r="0.85" fill="none" stroke="#f08585" stroke-width="0.55"/>
<line x1="479.50" y1="207.00" x2="479.50" y2="190.60" stroke="#111" stroke-width="1.0" />
<path d="M479.50,188.20 L478.00,191.00 L481.00,191.00 Z" fill="#111"/>
<line x1="479.00" y1="206.50" x2="495.20" y2="206.50" stroke="#111" stroke-width="1.0" />
<path d="M497.60,206.50 L494.80,205.00 L494.80,208.00 Z" fill="#111"/>
<text transform="translate(476.70,196.30) rotate(-90)" font-size="6.6" text-anchor="middle" fill="#1a1a1a" stroke="#1a1a1a" stroke-width="0.16">UMAP 2</text>
<text x="479.00" y="215.60" font-size="6.6" text-anchor="start" fill="#1a1a1a" stroke="#1a1a1a" stroke-width="0.16">UMAP 1</text>
<rect x="468.20" y="278.00" width="102.30" height="80.40" fill="none" stroke="#8f8f8f" stroke-width="0.6" stroke-dasharray="1.5,1.1"/>
<circle cx="510.85" cy="293.04" r="0.6" fill="none" stroke="#f08585" stroke-width="0.38"/>
<circle cx="511.12" cy="293.26" r="0.6" fill="none" stroke="#f08585" stroke-width="0.38"/>
<circle cx="510.98" cy="293.25" r="0.6" fill="none" stroke="#f08585" stroke-width="0.38"/>
<circle cx="511.31" cy="292.98" r="0.6" fill="none" stroke="#f08585" stroke-width="0.38"/>
<circle cx="512.30" cy="292.61" r="0.6" fill="none" stroke="#1f3f7f" stroke-width="0.38"/>
<circle cx="510.86" cy="293.20" r="0.6" fill="none" stroke="#f08585" stroke-width="0.38"/>
<circle cx="510.52" cy="291.74" r="0.6" fill="none" stroke="#f08585" stroke-width="0.38"/>
<circle cx="481.96" cy="312.75" r="0.6" fill="none" stroke="#f08585" stroke-width="0.38"/>
<circle cx="489.20" cy="314.65" r="0.6" fill="none" stroke="#f08585" stroke-width="0.38"/>
<circle cx="492.09" cy="315.34" r="0.6" fill="none" stroke="#f08585" stroke-width="0.38"/>
<circle cx="490.50" cy="314.06" r="0.6" fill="none" stroke="#f08585" stroke-width="0.38"/>
<circle cx="487.49" cy="313.96" r="0.6" fill="none" stroke="#f08585" stroke-width="0.38"/>
<circle cx="488.60" cy="314.58" r="0.6" fill="none" stroke="#f08585" stroke-width="0.38"/>
<circle cx="490.35" cy="315.46" r="0.6" fill="none" stroke="#f08585" stroke-width="0.38"/>
<circle cx="496.51" cy="316.94" r="0.6" fill="none" stroke="#1f3f7f" stroke-width="0.38"/>
<circle cx="490.89" cy="315.20" r="0.6" fill="none" stroke="#1f3f7f" stroke-width="0.38"/>
<circle cx="487.43" cy="313.74" r="0.6" fill="none" stroke="#f08585" stroke-width="0.38"/>
<circle cx="487.24" cy="313.68" r="0.6" fill="none" stroke="#f08585" stroke-width="0.38"/>
<circle cx="485.47" cy="313.16" r="0.6" fill="none" stroke="#f08585" stroke-width="0.38"/>
<circle cx="491.15" cy="314.80" r="0.6" fill="none" stroke="#1f3f7f" stroke-width="0.38"/>
<circle cx="485.91" cy="314.54" r="0.6" fill="none" stroke="#1f3f7f" stroke-width="0.38"/>
<circle cx="493.34" cy="314.96" r="0.6" fill="none" stroke="#1f3f7f" stroke-width="0.38"/>
<circle cx="490.09" cy="314.97" r="0.6" fill="none" stroke="#f08585" stroke-width="0.38"/>
<circle cx="484.95" cy="313.53" r="0.6" fill="none" stroke="#f08585" stroke-width="0.38"/>
<circle cx="482.68" cy="312.92" r="0.6" fill="none" stroke="#f08585" stroke-width="0.38"/>
<circle cx="489.50" cy="315.20" r="0.6" fill="none" stroke="#f08585" stroke-width="0.38"/>
<circle cx="489.57" cy="313.86" r="0.6" fill="none" stroke="#f08585" stroke-width="0.38"/>
<circle cx="485.97" cy="314.37" r="0.6" fill="none" stroke="#1f3f7f" stroke-width="0.38"/>
<circle cx="487.78" cy="313.25" r="0.6" fill="none" stroke="#1f3f7f" stroke-width="0.38"/>
<circle cx="487.06" cy="313.45" r="0.6" fill="none" stroke="#f08585" stroke-width="0.38"/>
<circle cx="496.97" cy="316.28" r="0.6" fill="none" stroke="#f08585" stroke-width="0.38"/>
<circle cx="488.93" cy="313.22" r="0.6" fill="none" stroke="#1f3f7f" stroke-width="0.38"/>
<circle cx="481.43" cy="313.16" r="0.6" fill="none" stroke="#f08585" stroke-width="0.38"/>
<circle cx="480.79" cy="312.05" r="0.6" fill="none" stroke="#f08585" stroke-width="0.38"/>
<circle cx="494.89" cy="316.41" r="0.6" fill="none" stroke="#1f3f7f" stroke-width="0.38"/>
<circle cx="487.22" cy="313.20" r="0.6" fill="none" stroke="#f08585" stroke-width="0.38"/>
<circle cx="483.05" cy="312.41" r="0.6" fill="none" stroke="#f08585" stroke-width="0.38"/>
<circle cx="484.04" cy="312.46" r="0.6" fill="none" stroke="#1f3f7f" stroke-width="0.38"/>
<circle cx="482.88" cy="312.88" r="0.6" fill="none" stroke="#f08585" stroke-width="0.38"/>
<circle cx="484.26" cy="312.66" r="0.6" fill="none" stroke="#f08585" stroke-width="0.38"/>
<circle cx="480.91" cy="312.47" r="0.6" fill="none" stroke="#1f3f7f" stroke-width="0.38"/>
<circle cx="481.31" cy="312.72" r="0.6" fill="none" stroke="#f08585" stroke-width="0.38"/>
<circle cx="481.92" cy="311.94" r="0.6" fill="none" stroke="#1f3f7f" stroke-width="0.38"/>
<circle cx="483.90" cy="312.38" r="0.6" fill="none" stroke="#1f3f7f" stroke-width="0.38"/>
<circle cx="483.43" cy="312.45" r="0.6" fill="none" stroke="#f08585" stroke-width="0.38"/>
<circle cx="504.62" cy="315.34" r="0.6" fill="none" stroke="#f08585" stroke-width="0.38"/>
<circle cx="504.73" cy="315.87" r="0.6" fill="none" stroke="#1f3f7f" stroke-width="0.38"/>
<circle cx="504.52" cy="315.27" r="0.6" fill="none" stroke="#1f3f7f" stroke-width="0.38"/>
<circle cx="505.01" cy="315.87" r="0.6" fill="none" stroke="#f08585" stroke-width="0.38"/>
<circle cx="504.60" cy="316.85" r="0.6" fill="none" stroke="#f08585" stroke-width="0.38"/>
<circle cx="504.00" cy="316.29" r="0.6" fill="none" stroke="#1f3f7f" stroke-width="0.38"/>
<circle cx="504.10" cy="315.45" r="0.6" fill="none" stroke="#1f3f7f" stroke-width="0.38"/>
<circle cx="505.22" cy="316.22" r="0.6" fill="none" stroke="#f08585" stroke-width="0.38"/>
<circle cx="504.68" cy="322.25" r="0.6" fill="none" stroke="#1f3f7f" stroke-width="0.38"/>
<circle cx="505.61" cy="323.40" r="0.6" fill="none" stroke="#1f3f7f" stroke-width="0.38"/>
<circle cx="505.77" cy="323.59" r="0.6" fill="none" stroke="#1f3f7f" stroke-width="0.38"/>
<circle cx="505.64" cy="323.78" r="0.6" fill="none" stroke="#f08585" stroke-width="0.38"/>
<circle cx="507.55" cy="322.44" r="0.6" fill="none" stroke="#f08585" stroke-width="0.38"/>
<circle cx="506.22" cy="323.82" r="0.6" fill="none" stroke="#1f3f7f" stroke-width="0.38"/>
<circle cx="505.07" cy="323.77" r="0.6" fill="none" stroke="#f08585" stroke-width="0.38"/>
<circle cx="505.84" cy="322.06" r="0.6" fill="none" stroke="#f08585" stroke-width="0.38"/>
<circle cx="505.37" cy="321.83" r="0.6" fill="none" stroke="#1f3f7f" stroke-width="0.38"/>
<circle cx="505.93" cy="321.66" r="0.6" fill="none" stroke="#1f3f7f" stroke-width="0.38"/>
<circle cx="506.72" cy="323.75" r="0.6" fill="none" stroke="#1f3f7f" stroke-width="0.38"/>
<circle cx="505.43" cy="321.88" r="0.6" fill="none" stroke="#1f3f7f" stroke-width="0.38"/>
<circle cx="507.41" cy="323.44" r="0.6" fill="none" stroke="#f08585" stroke-width="0.38"/>
<circle cx="506.31" cy="321.11" r="0.6" fill="none" stroke="#f08585" stroke-width="0.38"/>
<circle cx="529.64" cy="287.63" r="0.6" fill="none" stroke="#1f3f7f" stroke-width="0.38"/>
<circle cx="530.09" cy="287.14" r="0.6" fill="none" stroke="#1f3f7f" stroke-width="0.38"/>
<circle cx="530.14" cy="288.29" r="0.6" fill="none" stroke="#f08585" stroke-width="0.38"/>
<circle cx="525.15" cy="288.03" r="0.6" fill="none" stroke="#f08585" stroke-width="0.38"/>
<circle cx="526.86" cy="287.36" r="0.6" fill="none" stroke="#1f3f7f" stroke-width="0.38"/>
<circle cx="527.55" cy="289.13" r="0.6" fill="none" stroke="#1f3f7f" stroke-width="0.38"/>
<circle cx="529.77" cy="286.90" r="0.6" fill="none" stroke="#f08585" stroke-width="0.38"/>
<circle cx="529.23" cy="287.92" r="0.6" fill="none" stroke="#1f3f7f" stroke-width="0.38"/>
<circle cx="528.23" cy="288.61" r="0.6" fill="none" stroke="#1f3f7f" stroke-width="0.38"/>
<circle cx="530.26" cy="288.39" r="0.6" fill="none" stroke="#1f3f7f" stroke-width="0.38"/>
<circle cx="527.20" cy="287.00" r="0.6" fill="none" stroke="#f08585" stroke-width="0.38"/>
<circle cx="526.44" cy="288.46" r="0.6" fill="none" stroke="#f08585" stroke-width="0.38"/>
<circle cx="526.94" cy="287.06" r="0.6" fill="none" stroke="#1f3f7f" stroke-width="0.38"/>
<circle cx="528.15" cy="288.10" r="0.6" fill="none" stroke="#1f3f7f" stroke-width="0.38"/>
<circle cx="523.50" cy="292.36" r="0.6" fill="none" stroke="#f08585" stroke-width="0.38"/>
<circle cx="523.16" cy="292.16" r="0.6" fill="none" stroke="#f08585" stroke-width="0.38"/>
<circle cx="540.65" cy="288.48" r="0.6" fill="none" stroke="#f08585" stroke-width="0.38"/>
<circle cx="539.97" cy="289.62" r="0.6" fill="none" stroke="#f08585" stroke-width="0.38"/>
<circle cx="540.74" cy="288.65" r="0.6" fill="none" stroke="#f08585" stroke-width="0.38"/>
<circle cx="544.45" cy="285.25" r="0.6" fill="none" stroke="#1f3f7f" stroke-width="0.38"/>
<circle cx="544.54" cy="285.96" r="0.6" fill="none" stroke="#f08585" stroke-width="0.38"/>
<circle cx="541.60" cy="286.72" r="0.6" fill="none" stroke="#f08585" stroke-width="0.38"/>
<circle cx="544.70" cy="286.58" r="0.6" fill="none" stroke="#f08585" stroke-width="0.38"/>
<circle cx="543.82" cy="284.43" r="0.6" fill="none" stroke="#f08585" stroke-width="0.38"/>
<circle cx="543.25" cy="285.35" r="0.6" fill="none" stroke="#f08585" stroke-width="0.38"/>
<circle cx="541.37" cy="284.88" r="0.6" fill="none" stroke="#1f3f7f" stroke-width="0.38"/>
<circle cx="540.75" cy="284.89" r="0.6" fill="none" stroke="#f08585" stroke-width="0.38"/>
<circle cx="541.06" cy="284.64" r="0.6" fill="none" stroke="#1f3f7f" stroke-width="0.38"/>
<circle cx="539.81" cy="286.38" r="0.6" fill="none" stroke="#1f3f7f" stroke-width="0.38"/>
<circle cx="544.64" cy="285.99" r="0.6" fill="none" stroke="#1f3f7f" stroke-width="0.38"/>
<circle cx="544.04" cy="285.56" r="0.6" fill="none" stroke="#f08585" stroke-width="0.38"/>
<circle cx="542.35" cy="285.20" r="0.6" fill="none" stroke="#1f3f7f" stroke-width="0.38"/>
<circle cx="542.31" cy="284.90" r="0.6" fill="none" stroke="#1f3f7f" stroke-width="0.38"/>
<circle cx="554.50" cy="285.86" r="0.6" fill="none" stroke="#1f3f7f" stroke-width="0.38"/>
<circle cx="553.37" cy="285.19" r="0.6" fill="none" stroke="#1f3f7f" stroke-width="0.38"/>
<circle cx="555.04" cy="285.99" r="0.6" fill="none" stroke="#1f3f7f" stroke-width="0.38"/>
<circle cx="552.02" cy="285.12" r="0.6" fill="none" stroke="#1f3f7f" stroke-width="0.38"/>
<circle cx="553.26" cy="284.71" r="0.6" fill="none" stroke="#f08585" stroke-width="0.38"/>
<circle cx="550.86" cy="285.57" r="0.6" fill="none" stroke="#1f3f7f" stroke-width="0.38"/>
<circle cx="553.69" cy="284.92" r="0.6" fill="none" stroke="#1f3f7f" stroke-width="0.38"/>
<circle cx="550.88" cy="284.58" r="0.6" fill="none" stroke="#1f3f7f" stroke-width="0.38"/>
<circle cx="554.54" cy="286.19" r="0.6" fill="none" stroke="#1f3f7f" stroke-width="0.38"/>
<circle cx="552.50" cy="285.26" r="0.6" fill="none" stroke="#f08585" stroke-width="0.38"/>
<circle cx="551.28" cy="284.44" r="0.6" fill="none" stroke="#1f3f7f" stroke-width="0.38"/>
<circle cx="550.58" cy="292.37" r="0.6" fill="none" stroke="#f08585" stroke-width="0.38"/>
<circle cx="547.76" cy="290.15" r="0.6" fill="none" stroke="#1f3f7f" stroke-width="0.38"/>
<circle cx="553.54" cy="290.99" r="0.6" fill="none" stroke="#1f3f7f" stroke-width="0.38"/>
<circle cx="548.27" cy="292.67" r="0.6" fill="none" stroke="#f08585" stroke-width="0.38"/>
<circle cx="549.53" cy="291.84" r="0.6" fill="none" stroke="#f08585" stroke-width="0.38"/>
<circle cx="547.38" cy="291.33" r="0.6" fill="none" stroke="#f08585" stroke-width="0.38"/>
<circle cx="549.19" cy="292.98" r="0.6" fill="none" stroke="#1f3f7f" stroke-width="0.38"/>
<circle cx="554.20" cy="291.77" r="0.6" fill="none" stroke="#f08585" stroke-width="0.38"/>
<circle cx="553.93" cy="291.41" r="0.6" fill="none" stroke="#f08585" stroke-width="0.38"/>
<circle cx="547.43" cy="290.73" r="0.6" fill="none" stroke="#f08585" stroke-width="0.38"/>
<circle cx="550.73" cy="291.24" r="0.6" fill="none" stroke="#f08585" stroke-width="0.38"/>
<circle cx="551.71" cy="290.45" r="0.6" fill="none" stroke="#f08585" stroke-width="0.38"/>
<circle cx="550.01" cy="291.17" r="0.6" fill="none" stroke="#1f3f7f" stroke-width="0.38"/>
<circle cx="548.66" cy="293.35" r="0.6" fill="none" stroke="#1f3f7f" stroke-width="0.38"/>
<circle cx="550.80" cy="291.26" r="0.6" fill="none" stroke="#1f3f7f" stroke-width="0.38"/>
<circle cx="550.17" cy="291.47" r="0.6" fill="none" stroke="#1f3f7f" stroke-width="0.38"/>
<circle cx="555.42" cy="291.76" r="0.6" fill="none" stroke="#1f3f7f" stroke-width="0.38"/>
<circle cx="552.00" cy="291.43" r="0.6" fill="none" stroke="#f08585" stroke-width="0.38"/>
<circle cx="548.05" cy="292.63" r="0.6" fill="none" stroke="#f08585" stroke-width="0.38"/>
<circle cx="550.56" cy="291.17" r="0.6" fill="none" stroke="#1f3f7f" stroke-width="0.38"/>
<circle cx="548.93" cy="291.50" r="0.6" fill="none" stroke="#f08585" stroke-width="0.38"/>
<circle cx="545.79" cy="290.99" r="0.6" fill="none" stroke="#f08585" stroke-width="0.38"/>
<circle cx="534.21" cy="307.28" r="0.6" fill="none" stroke="#1f3f7f" stroke-width="0.38"/>
<circle cx="536.64" cy="298.87" r="0.6" fill="none" stroke="#f08585" stroke-width="0.38"/>
<circle cx="534.67" cy="306.21" r="0.6" fill="none" stroke="#f08585" stroke-width="0.38"/>
<circle cx="538.16" cy="300.76" r="0.6" fill="none" stroke="#f08585" stroke-width="0.38"/>
<circle cx="536.00" cy="302.28" r="0.6" fill="none" stroke="#1f3f7f" stroke-width="0.38"/>
<circle cx="537.76" cy="299.35" r="0.6" fill="none" stroke="#f08585" stroke-width="0.38"/>
<circle cx="540.01" cy="299.62" r="0.6" fill="none" stroke="#f08585" stroke-width="0.38"/>
<circle cx="533.14" cy="302.64" r="0.6" fill="none" stroke="#1f3f7f" stroke-width="0.38"/>
<circle cx="538.89" cy="298.35" r="0.6" fill="none" stroke="#f08585" stroke-width="0.38"/>
<circle cx="533.47" cy="304.00" r="0.6" fill="none" stroke="#1f3f7f" stroke-width="0.38"/>
<circle cx="533.88" cy="304.89" r="0.6" fill="none" stroke="#1f3f7f" stroke-width="0.38"/>
<circle cx="535.65" cy="302.17" r="0.6" fill="none" stroke="#f08585" stroke-width="0.38"/>
<circle cx="531.95" cy="306.47" r="0.6" fill="none" stroke="#f08585" stroke-width="0.38"/>
<circle cx="532.78" cy="305.74" r="0.6" fill="none" stroke="#1f3f7f" stroke-width="0.38"/>
<circle cx="538.50" cy="299.58" r="0.6" fill="none" stroke="#1f3f7f" stroke-width="0.38"/>
<circle cx="538.20" cy="300.32" r="0.6" fill="none" stroke="#1f3f7f" stroke-width="0.38"/>
<circle cx="532.12" cy="305.69" r="0.6" fill="none" stroke="#f08585" stroke-width="0.38"/>
<circle cx="532.37" cy="306.50" r="0.6" fill="none" stroke="#f08585" stroke-width="0.38"/>
<circle cx="545.82" cy="302.68" r="0.6" fill="none" stroke="#f08585" stroke-width="0.38"/>
<circle cx="552.37" cy="304.78" r="0.6" fill="none" stroke="#f08585" stroke-width="0.38"/>
<circle cx="548.23" cy="306.13" r="0.6" fill="none" stroke="#1f3f7f" stroke-width="0.38"/>
<circle cx="547.57" cy="305.36" r="0.6" fill="none" stroke="#f08585" stroke-width="0.38"/>
<circle cx="540.49" cy="315.28" r="0.6" fill="none" stroke="#1f3f7f" stroke-width="0.38"/>
<circle cx="553.26" cy="308.42" r="0.6" fill="none" stroke="#1f3f7f" stroke-width="0.38"/>
<circle cx="546.35" cy="300.48" r="0.6" fill="none" stroke="#1f3f7f" stroke-width="0.38"/>
<circle cx="537.58" cy="306.17" r="0.6" fill="none" stroke="#f08585" stroke-width="0.38"/>
<circle cx="537.36" cy="310.35" r="0.6" fill="none" stroke="#f08585" stroke-width="0.38"/>
<circle cx="553.21" cy="305.89" r="0.6" fill="none" stroke="#f08585" stroke-width="0.38"/>
<circle cx="541.11" cy="298.40" r="0.6" fill="none" stroke="#1f3f7f" stroke-width="0.38"/>
<circle cx="551.70" cy="300.05" r="0.6" fill="none" stroke="#f08585" stroke-width="0.38"/>
<circle cx="540.87" cy="300.33" r="0.6" fill="none" stroke="#1f3f7f" stroke-width="0.38"/>
<circle cx="533.03" cy="305.99" r="0.6" fill="none" stroke="#f08585" stroke-width="0.38"/>
<circle cx="546.26" cy="306.71" r="0.6" fill="none" stroke="#1f3f7f" stroke-width="0.38"/>
<circle cx="535.58" cy="306.21" r="0.6" fill="none" stroke="#1f3f7f" stroke-width="0.38"/>
<circle cx="554.07" cy="310.57" r="0.6" fill="none" stroke="#1f3f7f" stroke-width="0.38"/>
<circle cx="540.94" cy="311.85" r="0.6" fill="none" stroke="#1f3f7f" stroke-width="0.38"/>
<circle cx="537.15" cy="303.61" r="0.6" fill="none" stroke="#1f3f7f" stroke-width="0.38"/>
<circle cx="545.59" cy="315.88" r="0.6" fill="none" stroke="#f08585" stroke-width="0.38"/>
<circle cx="534.14" cy="308.19" r="0.6" fill="none" stroke="#f08585" stroke-width="0.38"/>
<circle cx="543.95" cy="313.88" r="0.6" fill="none" stroke="#1f3f7f" stroke-width="0.38"/>
<circle cx="545.22" cy="312.23" r="0.6" fill="none" stroke="#1f3f7f" stroke-width="0.38"/>
<circle cx="546.67" cy="300.41" r="0.6" fill="none" stroke="#1f3f7f" stroke-width="0.38"/>
<circle cx="546.02" cy="313.03" r="0.6" fill="none" stroke="#f08585" stroke-width="0.38"/>
<circle cx="554.45" cy="302.14" r="0.6" fill="none" stroke="#f08585" stroke-width="0.38"/>
<circle cx="545.88" cy="301.75" r="0.6" fill="none" stroke="#f08585" stroke-width="0.38"/>
<circle cx="536.04" cy="302.62" r="0.6" fill="none" stroke="#1f3f7f" stroke-width="0.38"/>
<circle cx="537.22" cy="307.14" r="0.6" fill="none" stroke="#1f3f7f" stroke-width="0.38"/>
<circle cx="547.55" cy="315.57" r="0.6" fill="none" stroke="#1f3f7f" stroke-width="0.38"/>
<circle cx="548.53" cy="305.61" r="0.6" fill="none" stroke="#1f3f7f" stroke-width="0.38"/>
<circle cx="550.89" cy="312.93" r="0.6" fill="none" stroke="#1f3f7f" stroke-width="0.38"/>
<circle cx="537.60" cy="308.74" r="0.6" fill="none" stroke="#f08585" stroke-width="0.38"/>
<circle cx="549.07" cy="308.86" r="0.6" fill="none" stroke="#f08585" stroke-width="0.38"/>
<circle cx="546.19" cy="310.10" r="0.6" fill="none" stroke="#1f3f7f" stroke-width="0.38"/>
<circle cx="545.16" cy="300.30" r="0.6" fill="none" stroke="#f08585" stroke-width="0.38"/>
<circle cx="550.32" cy="309.52" r="0.6" fill="none" stroke="#1f3f7f" stroke-width="0.38"/>
<circle cx="548.12" cy="311.67" r="0.6" fill="none" stroke="#f08585" stroke-width="0.38"/>
<circle cx="552.38" cy="306.01" r="0.6" fill="none" stroke="#1f3f7f" stroke-width="0.38"/>
<circle cx="548.67" cy="315.61" r="0.6" fill="none" stroke="#f08585" stroke-width="0.38"/>
<circle cx="542.32" cy="308.35" r="0.6" fill="none" stroke="#f08585" stroke-width="0.38"/>
<circle cx="544.89" cy="308.38" r="0.6" fill="none" stroke="#1f3f7f" stroke-width="0.38"/>
<circle cx="539.89" cy="301.85" r="0.6" fill="none" stroke="#f08585" stroke-width="0.38"/>
<circle cx="550.32" cy="308.34" r="0.6" fill="none" stroke="#f08585" stroke-width="0.38"/>
<circle cx="539.77" cy="303.38" r="0.6" fill="none" stroke="#1f3f7f" stroke-width="0.38"/>
<circle cx="536.98" cy="310.54" r="0.6" fill="none" stroke="#f08585" stroke-width="0.38"/>
<circle cx="545.69" cy="316.14" r="0.6" fill="none" stroke="#1f3f7f" stroke-width="0.38"/>
<circle cx="532.81" cy="306.58" r="0.6" fill="none" stroke="#f08585" stroke-width="0.38"/>
<circle cx="545.34" cy="314.25" r="0.6" fill="none" stroke="#1f3f7f" stroke-width="0.38"/>
<circle cx="552.52" cy="311.56" r="0.6" fill="none" stroke="#1f3f7f" stroke-width="0.38"/>
<circle cx="551.98" cy="303.95" r="0.6" fill="none" stroke="#f08585" stroke-width="0.38"/>
<circle cx="543.43" cy="314.17" r="0.6" fill="none" stroke="#f08585" stroke-width="0.38"/>
<circle cx="536.31" cy="307.20" r="0.6" fill="none" stroke="#1f3f7f" stroke-width="0.38"/>
<circle cx="541.29" cy="308.06" r="0.6" fill="none" stroke="#f08585" stroke-width="0.38"/>
<circle cx="546.27" cy="302.57" r="0.6" fill="none" stroke="#1f3f7f" stroke-width="0.38"/>
<circle cx="533.71" cy="303.99" r="0.6" fill="none" stroke="#f08585" stroke-width="0.38"/>
<circle cx="549.04" cy="301.50" r="0.6" fill="none" stroke="#f08585" stroke-width="0.38"/>
<circle cx="549.84" cy="299.82" r="0.6" fill="none" stroke="#1f3f7f" stroke-width="0.38"/>
<circle cx="547.42" cy="299.52" r="0.6" fill="none" stroke="#1f3f7f" stroke-width="0.38"/>
<circle cx="547.07" cy="302.35" r="0.6" fill="none" stroke="#1f3f7f" stroke-width="0.38"/>
<circle cx="537.61" cy="306.69" r="0.6" fill="none" stroke="#1f3f7f" stroke-width="0.38"/>
<circle cx="553.13" cy="304.00" r="0.6" fill="none" stroke="#1f3f7f" stroke-width="0.38"/>
<circle cx="555.45" cy="306.12" r="0.6" fill="none" stroke="#f08585" stroke-width="0.38"/>
<circle cx="545.10" cy="297.78" r="0.6" fill="none" stroke="#f08585" stroke-width="0.38"/>
<circle cx="554.76" cy="310.25" r="0.6" fill="none" stroke="#1f3f7f" stroke-width="0.38"/>
<circle cx="534.10" cy="303.26" r="0.6" fill="none" stroke="#f08585" stroke-width="0.38"/>
<circle cx="543.42" cy="308.23" r="0.6" fill="none" stroke="#1f3f7f" stroke-width="0.38"/>
<circle cx="538.59" cy="300.29" r="0.6" fill="none" stroke="#1f3f7f" stroke-width="0.38"/>
<circle cx="543.77" cy="311.13" r="0.6" fill="none" stroke="#1f3f7f" stroke-width="0.38"/>
<circle cx="538.99" cy="315.02" r="0.6" fill="none" stroke="#f08585" stroke-width="0.38"/>
<circle cx="536.03" cy="300.81" r="0.6" fill="none" stroke="#f08585" stroke-width="0.38"/>
<circle cx="536.34" cy="306.17" r="0.6" fill="none" stroke="#1f3f7f" stroke-width="0.38"/>
<circle cx="534.46" cy="308.47" r="0.6" fill="none" stroke="#f08585" stroke-width="0.38"/>
<circle cx="544.87" cy="312.47" r="0.6" fill="none" stroke="#f08585" stroke-width="0.38"/>
<circle cx="533.17" cy="305.56" r="0.6" fill="none" stroke="#f08585" stroke-width="0.38"/>
<circle cx="545.24" cy="313.54" r="0.6" fill="none" stroke="#f08585" stroke-width="0.38"/>
<circle cx="540.45" cy="299.55" r="0.6" fill="none" stroke="#1f3f7f" stroke-width="0.38"/>
<circle cx="549.34" cy="304.39" r="0.6" fill="none" stroke="#1f3f7f" stroke-width="0.38"/>
<circle cx="548.34" cy="314.74" r="0.6" fill="none" stroke="#f08585" stroke-width="0.38"/>
<circle cx="543.09" cy="314.99" r="0.6" fill="none" stroke="#f08585" stroke-width="0.38"/>
<circle cx="538.56" cy="300.78" r="0.6" fill="none" stroke="#f08585" stroke-width="0.38"/>
<circle cx="533.11" cy="308.55" r="0.6" fill="none" stroke="#f08585" stroke-width="0.38"/>
<circle cx="543.30" cy="314.88" r="0.6" fill="none" stroke="#f08585" stroke-width="0.38"/>
<circle cx="535.38" cy="303.50" r="0.6" fill="none" stroke="#1f3f7f" stroke-width="0.38"/>
<circle cx="542.60" cy="305.75" r="0.6" fill="none" stroke="#f08585" stroke-width="0.38"/>
<circle cx="542.99" cy="307.30" r="0.6" fill="none" stroke="#f08585" stroke-width="0.38"/>
<circle cx="553.58" cy="312.75" r="0.6" fill="none" stroke="#f08585" stroke-width="0.38"/>
<circle cx="539.81" cy="315.64" r="0.6" fill="none" stroke="#f08585" stroke-width="0.38"/>
<circle cx="550.09" cy="302.09" r="0.6" fill="none" stroke="#f08585" stroke-width="0.38"/>
<circle cx="544.01" cy="315.45" r="0.6" fill="none" stroke="#f08585" stroke-width="0.38"/>
<circle cx="537.17" cy="309.54" r="0.6" fill="none" stroke="#1f3f7f" stroke-width="0.38"/>
<circle cx="541.07" cy="314.90" r="0.6" fill="none" stroke="#f08585" stroke-width="0.38"/>
<circle cx="537.56" cy="308.72" r="0.6" fill="none" stroke="#1f3f7f" stroke-width="0.38"/>
<circle cx="536.63" cy="311.57" r="0.6" fill="none" stroke="#f08585" stroke-width="0.38"/>
<circle cx="553.58" cy="304.74" r="0.6" fill="none" stroke="#f08585" stroke-width="0.38"/>
<circle cx="546.06" cy="315.26" r="0.6" fill="none" stroke="#1f3f7f" stroke-width="0.38"/>
<circle cx="544.14" cy="305.92" r="0.6" fill="none" stroke="#1f3f7f" stroke-width="0.38"/>
<circle cx="540.31" cy="304.21" r="0.6" fill="none" stroke="#1f3f7f" stroke-width="0.38"/>
<circle cx="546.96" cy="305.90" r="0.6" fill="none" stroke="#1f3f7f" stroke-width="0.38"/>
<circle cx="537.47" cy="311.66" r="0.6" fill="none" stroke="#1f3f7f" stroke-width="0.38"/>
<circle cx="539.29" cy="304.86" r="0.6" fill="none" stroke="#1f3f7f" stroke-width="0.38"/>
<circle cx="548.85" cy="306.82" r="0.6" fill="none" stroke="#f08585" stroke-width="0.38"/>
<circle cx="550.38" cy="305.59" r="0.6" fill="none" stroke="#1f3f7f" stroke-width="0.38"/>
<circle cx="549.15" cy="313.55" r="0.6" fill="none" stroke="#1f3f7f" stroke-width="0.38"/>
<circle cx="547.14" cy="301.38" r="0.6" fill="none" stroke="#1f3f7f" stroke-width="0.38"/>
<circle cx="547.79" cy="299.36" r="0.6" fill="none" stroke="#1f3f7f" stroke-width="0.38"/>
<circle cx="551.76" cy="299.00" r="0.6" fill="none" stroke="#1f3f7f" stroke-width="0.38"/>
<circle cx="552.87" cy="297.93" r="0.6" fill="none" stroke="#f08585" stroke-width="0.38"/>
<circle cx="554.12" cy="300.47" r="0.6" fill="none" stroke="#f08585" stroke-width="0.38"/>
<circle cx="554.39" cy="297.33" r="0.6" fill="none" stroke="#f08585" stroke-width="0.38"/>
<circle cx="554.76" cy="301.93" r="0.6" fill="none" stroke="#f08585" stroke-width="0.38"/>
<circle cx="551.47" cy="299.47" r="0.6" fill="none" stroke="#1f3f7f" stroke-width="0.38"/>
<circle cx="550.74" cy="296.90" r="0.6" fill="none" stroke="#1f3f7f" stroke-width="0.38"/>
<circle cx="549.49" cy="300.47" r="0.6" fill="none" stroke="#1f3f7f" stroke-width="0.38"/>
<circle cx="548.63" cy="297.58" r="0.6" fill="none" stroke="#f08585" stroke-width="0.38"/>
<circle cx="554.00" cy="303.28" r="0.6" fill="none" stroke="#1f3f7f" stroke-width="0.38"/>
<circle cx="553.49" cy="296.72" r="0.6" fill="none" stroke="#f08585" stroke-width="0.38"/>
<circle cx="551.20" cy="298.31" r="0.6" fill="none" stroke="#1f3f7f" stroke-width="0.38"/>
<circle cx="550.44" cy="301.54" r="0.6" fill="none" stroke="#f08585" stroke-width="0.38"/>
<circle cx="555.09" cy="301.51" r="0.6" fill="none" stroke="#1f3f7f" stroke-width="0.38"/>
<circle cx="553.99" cy="300.75" r="0.6" fill="none" stroke="#1f3f7f" stroke-width="0.38"/>
<circle cx="552.88" cy="300.59" r="0.6" fill="none" stroke="#1f3f7f" stroke-width="0.38"/>
<circle cx="551.24" cy="303.33" r="0.6" fill="none" stroke="#f08585" stroke-width="0.38"/>
<circle cx="524.12" cy="306.47" r="0.6" fill="none" stroke="#f08585" stroke-width="0.38"/>
<circle cx="524.12" cy="306.29" r="0.6" fill="none" stroke="#f08585" stroke-width="0.38"/>
<circle cx="524.45" cy="306.25" r="0.6" fill="none" stroke="#f08585" stroke-width="0.38"/>
<circle cx="523.71" cy="306.56" r="0.6" fill="none" stroke="#1f3f7f" stroke-width="0.38"/>
<circle cx="523.86" cy="302.44" r="0.6" fill="none" stroke="#f08585" stroke-width="0.38"/>
<circle cx="522.36" cy="304.81" r="0.6" fill="none" stroke="#1f3f7f" stroke-width="0.38"/>
<circle cx="525.03" cy="306.19" r="0.6" fill="none" stroke="#f08585" stroke-width="0.38"/>
<circle cx="523.09" cy="303.05" r="0.6" fill="none" stroke="#1f3f7f" stroke-width="0.38"/>
<circle cx="523.69" cy="302.37" r="0.6" fill="none" stroke="#f08585" stroke-width="0.38"/>
<circle cx="522.22" cy="303.64" r="0.6" fill="none" stroke="#1f3f7f" stroke-width="0.38"/>
<circle cx="526.66" cy="305.28" r="0.6" fill="none" stroke="#f08585" stroke-width="0.38"/>
<circle cx="523.74" cy="306.56" r="0.6" fill="none" stroke="#1f3f7f" stroke-width="0.38"/>
<circle cx="526.73" cy="304.32" r="0.6" fill="none" stroke="#f08585" stroke-width="0.38"/>
<circle cx="526.55" cy="305.77" r="0.6" fill="none" stroke="#f08585" stroke-width="0.38"/>
<circle cx="522.67" cy="303.23" r="0.6" fill="none" stroke="#f08585" stroke-width="0.38"/>
<circle cx="523.70" cy="302.68" r="0.6" fill="none" stroke="#f08585" stroke-width="0.38"/>
<circle cx="523.90" cy="309.38" r="0.6" fill="none" stroke="#f08585" stroke-width="0.38"/>
<circle cx="525.42" cy="311.29" r="0.6" fill="none" stroke="#f08585" stroke-width="0.38"/>
<circle cx="524.71" cy="310.16" r="0.6" fill="none" stroke="#f08585" stroke-width="0.38"/>
<circle cx="525.02" cy="307.92" r="0.6" fill="none" stroke="#f08585" stroke-width="0.38"/>
<circle cx="525.87" cy="311.54" r="0.6" fill="none" stroke="#f08585" stroke-width="0.38"/>
<circle cx="526.39" cy="310.06" r="0.6" fill="none" stroke="#1f3f7f" stroke-width="0.38"/>
<circle cx="524.26" cy="308.73" r="0.6" fill="none" stroke="#f08585" stroke-width="0.38"/>
<circle cx="523.95" cy="312.33" r="0.6" fill="none" stroke="#1f3f7f" stroke-width="0.38"/>
<circle cx="523.33" cy="310.59" r="0.6" fill="none" stroke="#f08585" stroke-width="0.38"/>
<circle cx="525.07" cy="309.81" r="0.6" fill="none" stroke="#f08585" stroke-width="0.38"/>
<circle cx="526.24" cy="308.42" r="0.6" fill="none" stroke="#1f3f7f" stroke-width="0.38"/>
<circle cx="524.04" cy="312.20" r="0.6" fill="none" stroke="#f08585" stroke-width="0.38"/>
<circle cx="518.30" cy="311.22" r="0.6" fill="none" stroke="#f08585" stroke-width="0.38"/>
<circle cx="518.65" cy="311.07" r="0.6" fill="none" stroke="#f08585" stroke-width="0.38"/>
<circle cx="520.32" cy="311.55" r="0.6" fill="none" stroke="#f08585" stroke-width="0.38"/>
<circle cx="519.67" cy="311.11" r="0.6" fill="none" stroke="#f08585" stroke-width="0.38"/>
<circle cx="520.62" cy="310.39" r="0.6" fill="none" stroke="#1f3f7f" stroke-width="0.38"/>
<circle cx="519.54" cy="308.37" r="0.6" fill="none" stroke="#f08585" stroke-width="0.38"/>
<circle cx="520.18" cy="310.88" r="0.6" fill="none" stroke="#f08585" stroke-width="0.38"/>
<circle cx="531.77" cy="317.85" r="0.6" fill="none" stroke="#f08585" stroke-width="0.38"/>
<circle cx="526.05" cy="315.17" r="0.6" fill="none" stroke="#f08585" stroke-width="0.38"/>
<circle cx="536.43" cy="320.53" r="0.6" fill="none" stroke="#f08585" stroke-width="0.38"/>
<circle cx="533.72" cy="319.31" r="0.6" fill="none" stroke="#f08585" stroke-width="0.38"/>
<circle cx="528.06" cy="316.14" r="0.6" fill="none" stroke="#f08585" stroke-width="0.38"/>
<circle cx="534.89" cy="318.93" r="0.6" fill="none" stroke="#1f3f7f" stroke-width="0.38"/>
<circle cx="537.55" cy="320.43" r="0.6" fill="none" stroke="#f08585" stroke-width="0.38"/>
<circle cx="537.88" cy="319.12" r="0.6" fill="none" stroke="#f08585" stroke-width="0.38"/>
<circle cx="540.66" cy="322.93" r="0.6" fill="none" stroke="#1f3f7f" stroke-width="0.38"/>
<circle cx="537.75" cy="319.14" r="0.6" fill="none" stroke="#1f3f7f" stroke-width="0.38"/>
<circle cx="538.08" cy="319.66" r="0.6" fill="none" stroke="#f08585" stroke-width="0.38"/>
<circle cx="527.12" cy="315.12" r="0.6" fill="none" stroke="#f08585" stroke-width="0.38"/>
<circle cx="535.93" cy="320.72" r="0.6" fill="none" stroke="#1f3f7f" stroke-width="0.38"/>
<circle cx="530.96" cy="316.95" r="0.6" fill="none" stroke="#f08585" stroke-width="0.38"/>
<circle cx="530.79" cy="317.32" r="0.6" fill="none" stroke="#f08585" stroke-width="0.38"/>
<circle cx="542.08" cy="322.84" r="0.6" fill="none" stroke="#f08585" stroke-width="0.38"/>
<circle cx="539.16" cy="318.90" r="0.6" fill="none" stroke="#f08585" stroke-width="0.38"/>
<circle cx="530.20" cy="315.97" r="0.6" fill="none" stroke="#f08585" stroke-width="0.38"/>
<circle cx="542.35" cy="324.23" r="0.6" fill="none" stroke="#f08585" stroke-width="0.38"/>
<circle cx="527.79" cy="314.64" r="0.6" fill="none" stroke="#1f3f7f" stroke-width="0.38"/>
<circle cx="527.64" cy="315.42" r="0.6" fill="none" stroke="#f08585" stroke-width="0.38"/>
<circle cx="539.57" cy="322.27" r="0.6" fill="none" stroke="#f08585" stroke-width="0.38"/>
<circle cx="525.44" cy="314.87" r="0.6" fill="none" stroke="#f08585" stroke-width="0.38"/>
<circle cx="539.06" cy="322.06" r="0.6" fill="none" stroke="#1f3f7f" stroke-width="0.38"/>
<circle cx="532.65" cy="318.25" r="0.6" fill="none" stroke="#1f3f7f" stroke-width="0.38"/>
<circle cx="537.65" cy="320.36" r="0.6" fill="none" stroke="#f08585" stroke-width="0.38"/>
<circle cx="534.09" cy="319.58" r="0.6" fill="none" stroke="#f08585" stroke-width="0.38"/>
<circle cx="538.79" cy="320.26" r="0.6" fill="none" stroke="#f08585" stroke-width="0.38"/>
<circle cx="537.06" cy="322.84" r="0.6" fill="none" stroke="#f08585" stroke-width="0.38"/>
<circle cx="531.40" cy="317.48" r="0.6" fill="none" stroke="#f08585" stroke-width="0.38"/>
<circle cx="539.88" cy="324.15" r="0.6" fill="none" stroke="#f08585" stroke-width="0.38"/>
<circle cx="539.29" cy="324.05" r="0.6" fill="none" stroke="#f08585" stroke-width="0.38"/>
<circle cx="542.22" cy="341.09" r="0.6" fill="none" stroke="#1f3f7f" stroke-width="0.38"/>
<circle cx="543.61" cy="348.44" r="0.6" fill="none" stroke="#1f3f7f" stroke-width="0.38"/>
<circle cx="542.25" cy="341.75" r="0.6" fill="none" stroke="#f08585" stroke-width="0.38"/>
<circle cx="541.20" cy="341.18" r="0.6" fill="none" stroke="#f08585" stroke-width="0.38"/>
<circle cx="541.03" cy="341.44" r="0.6" fill="none" stroke="#f08585" stroke-width="0.38"/>
<circle cx="543.92" cy="347.88" r="0.6" fill="none" stroke="#f08585" stroke-width="0.38"/>
<circle cx="543.64" cy="346.94" r="0.6" fill="none" stroke="#1f3f7f" stroke-width="0.38"/>
<circle cx="543.70" cy="345.75" r="0.6" fill="none" stroke="#1f3f7f" stroke-width="0.38"/>
<circle cx="541.79" cy="341.68" r="0.6" fill="none" stroke="#1f3f7f" stroke-width="0.38"/>
<circle cx="542.28" cy="347.88" r="0.6" fill="none" stroke="#1f3f7f" stroke-width="0.38"/>
<circle cx="541.88" cy="345.22" r="0.6" fill="none" stroke="#1f3f7f" stroke-width="0.38"/>
<circle cx="543.20" cy="347.65" r="0.6" fill="none" stroke="#f08585" stroke-width="0.38"/>
<circle cx="543.77" cy="345.29" r="0.6" fill="none" stroke="#f08585" stroke-width="0.38"/>
<circle cx="541.50" cy="345.95" r="0.6" fill="none" stroke="#1f3f7f" stroke-width="0.38"/>
<circle cx="536.60" cy="351.97" r="0.6" fill="none" stroke="#f08585" stroke-width="0.38"/>
<circle cx="536.40" cy="353.05" r="0.6" fill="none" stroke="#1f3f7f" stroke-width="0.38"/>
<circle cx="536.24" cy="353.07" r="0.6" fill="none" stroke="#f08585" stroke-width="0.38"/>
<line x1="479.70" y1="348.00" x2="479.70" y2="331.30" stroke="#111" stroke-width="1.0" />
<path d="M479.70,328.90 L478.20,331.70 L481.20,331.70 Z" fill="#111"/>
<line x1="479.20" y1="347.50" x2="495.40" y2="347.50" stroke="#111" stroke-width="1.0" />
<path d="M497.80,347.50 L495.00,346.00 L495.00,349.00 Z" fill="#111"/>
<text transform="translate(476.90,336.50) rotate(-90)" font-size="6.6" text-anchor="middle" fill="#1a1a1a" stroke="#1a1a1a" stroke-width="0.16">UMAP 2</text>
<text x="479.20" y="355.90" font-size="6.6" text-anchor="start" fill="#1a1a1a" stroke="#1a1a1a" stroke-width="0.16">UMAP 1</text>
<rect x="581.30" y="153.40" width="102.80" height="63.10" fill="none" stroke="#8f8f8f" stroke-width="0.6" stroke-dasharray="1.5,1.1"/>
<circle cx="603.37" cy="195.89" r="0.85" fill="none" stroke="#c89478" stroke-width="0.55"/>
<circle cx="605.04" cy="193.49" r="0.85" fill="none" stroke="#3d4248" stroke-width="0.55"/>
<circle cx="608.99" cy="196.36" r="0.85" fill="none" stroke="#c89478" stroke-width="0.55"/>
<circle cx="611.39" cy="196.09" r="0.85" fill="none" stroke="#c89478" stroke-width="0.55"/>
<circle cx="607.12" cy="195.25" r="0.85" fill="none" stroke="#c89478" stroke-width="0.55"/>
<circle cx="606.84" cy="195.64" r="0.85" fill="none" stroke="#3d4248" stroke-width="0.55"/>
<circle cx="602.99" cy="194.18" r="0.85" fill="none" stroke="#c89478" stroke-width="0.55"/>
<circle cx="605.96" cy="200.01" r="0.85" fill="none" stroke="#3d4248" stroke-width="0.55"/>
<circle cx="605.88" cy="197.07" r="0.85" fill="none" stroke="#3d4248" stroke-width="0.55"/>
<circle cx="603.22" cy="197.61" r="0.85" fill="none" stroke="#3d4248" stroke-width="0.55"/>
<circle cx="609.00" cy="194.71" r="0.85" fill="none" stroke="#e04a33" stroke-width="0.55"/>
<circle cx="605.76" cy="195.58" r="0.85" fill="none" stroke="#c89478" stroke-width="0.55"/>
<circle cx="609.16" cy="196.32" r="0.85" fill="none" stroke="#c89478" stroke-width="0.55"/>
<circle cx="606.83" cy="196.42" r="0.85" fill="none" stroke="#c89478" stroke-width="0.55"/>
<circle cx="603.81" cy="193.39" r="0.85" fill="none" stroke="#c89478" stroke-width="0.55"/>
<circle cx="605.79" cy="193.25" r="0.85" fill="none" stroke="#c89478" stroke-width="0.55"/>
<circle cx="611.03" cy="193.82" r="0.85" fill="none" stroke="#c89478" stroke-width="0.55"/>
<circle cx="603.31" cy="197.78" r="0.85" fill="none" stroke="#e04a33" stroke-width="0.55"/>
<circle cx="607.36" cy="197.37" r="0.85" fill="none" stroke="#c89478" stroke-width="0.55"/>
<circle cx="608.09" cy="195.42" r="0.85" fill="none" stroke="#c89478" stroke-width="0.55"/>
<circle cx="604.56" cy="197.32" r="0.85" fill="none" stroke="#c89478" stroke-width="0.55"/>
<circle cx="608.17" cy="192.98" r="0.85" fill="none" stroke="#3d4248" stroke-width="0.55"/>
<circle cx="606.81" cy="197.05" r="0.85" fill="none" stroke="#c89478" stroke-width="0.55"/>
<circle cx="611.09" cy="193.14" r="0.85" fill="none" stroke="#c89478" stroke-width="0.55"/>
<circle cx="611.37" cy="195.98" r="0.85" fill="none" stroke="#c89478" stroke-width="0.55"/>
<circle cx="608.46" cy="190.97" r="0.85" fill="none" stroke="#3d4248" stroke-width="0.55"/>
<circle cx="608.88" cy="195.78" r="0.85" fill="none" stroke="#c89478" stroke-width="0.55"/>
<circle cx="605.93" cy="199.78" r="0.85" fill="none" stroke="#c89478" stroke-width="0.55"/>
<circle cx="605.69" cy="195.14" r="0.85" fill="none" stroke="#c89478" stroke-width="0.55"/>
<circle cx="608.76" cy="197.09" r="0.85" fill="none" stroke="#c89478" stroke-width="0.55"/>
<circle cx="605.48" cy="190.85" r="0.85" fill="none" stroke="#3d4248" stroke-width="0.55"/>
<circle cx="610.20" cy="192.28" r="0.85" fill="none" stroke="#c89478" stroke-width="0.55"/>
<circle cx="602.72" cy="195.21" r="0.85" fill="none" stroke="#c89478" stroke-width="0.55"/>
<circle cx="602.85" cy="193.38" r="0.85" fill="none" stroke="#3d4248" stroke-width="0.55"/>
<circle cx="608.03" cy="189.72" r="0.85" fill="none" stroke="#3d4248" stroke-width="0.55"/>
<circle cx="608.94" cy="192.17" r="0.85" fill="none" stroke="#c89478" stroke-width="0.55"/>
<circle cx="604.70" cy="192.34" r="0.85" fill="none" stroke="#c89478" stroke-width="0.55"/>
<circle cx="603.74" cy="190.57" r="0.85" fill="none" stroke="#3d4248" stroke-width="0.55"/>
<circle cx="606.46" cy="190.60" r="0.85" fill="none" stroke="#c89478" stroke-width="0.55"/>
<circle cx="606.80" cy="193.77" r="0.85" fill="none" stroke="#c89478" stroke-width="0.55"/>
<circle cx="605.72" cy="191.09" r="0.85" fill="none" stroke="#3d4248" stroke-width="0.55"/>
<circle cx="609.43" cy="194.91" r="0.85" fill="none" stroke="#c89478" stroke-width="0.55"/>
<circle cx="663.46" cy="158.87" r="0.85" fill="none" stroke="#3d4248" stroke-width="0.55"/>
<circle cx="666.86" cy="159.17" r="0.85" fill="none" stroke="#c89478" stroke-width="0.55"/>
<circle cx="666.55" cy="159.45" r="0.85" fill="none" stroke="#c89478" stroke-width="0.55"/>
<circle cx="663.42" cy="160.16" r="0.85" fill="none" stroke="#3d4248" stroke-width="0.55"/>
<circle cx="662.82" cy="160.01" r="0.85" fill="none" stroke="#3d4248" stroke-width="0.55"/>
<circle cx="664.53" cy="159.01" r="0.85" fill="none" stroke="#3d4248" stroke-width="0.55"/>
<circle cx="663.24" cy="159.98" r="0.85" fill="none" stroke="#3d4248" stroke-width="0.55"/>
<circle cx="662.58" cy="159.60" r="0.85" fill="none" stroke="#3d4248" stroke-width="0.55"/>
<circle cx="663.26" cy="158.68" r="0.85" fill="none" stroke="#3d4248" stroke-width="0.55"/>
<circle cx="666.66" cy="159.29" r="0.85" fill="none" stroke="#3d4248" stroke-width="0.55"/>
<circle cx="665.68" cy="158.89" r="0.85" fill="none" stroke="#3d4248" stroke-width="0.55"/>
<circle cx="664.92" cy="158.64" r="0.85" fill="none" stroke="#c89478" stroke-width="0.55"/>
<circle cx="665.05" cy="158.96" r="0.85" fill="none" stroke="#c89478" stroke-width="0.55"/>
<circle cx="665.85" cy="160.04" r="0.85" fill="none" stroke="#3d4248" stroke-width="0.55"/>
<circle cx="666.49" cy="159.14" r="0.85" fill="none" stroke="#c89478" stroke-width="0.55"/>
<circle cx="663.27" cy="159.30" r="0.85" fill="none" stroke="#3d4248" stroke-width="0.55"/>
<circle cx="665.41" cy="161.38" r="0.85" fill="none" stroke="#3d4248" stroke-width="0.55"/>
<circle cx="665.39" cy="162.02" r="0.85" fill="none" stroke="#c89478" stroke-width="0.55"/>
<circle cx="665.00" cy="162.14" r="0.85" fill="none" stroke="#c89478" stroke-width="0.55"/>
<circle cx="665.68" cy="162.81" r="0.85" fill="none" stroke="#3d4248" stroke-width="0.55"/>
<circle cx="664.88" cy="162.01" r="0.85" fill="none" stroke="#c89478" stroke-width="0.55"/>
<circle cx="664.78" cy="163.41" r="0.85" fill="none" stroke="#c89478" stroke-width="0.55"/>
<circle cx="665.94" cy="168.40" r="0.85" fill="none" stroke="#c89478" stroke-width="0.55"/>
<circle cx="664.91" cy="168.26" r="0.85" fill="none" stroke="#c89478" stroke-width="0.55"/>
<circle cx="665.24" cy="167.22" r="0.85" fill="none" stroke="#c89478" stroke-width="0.55"/>
<circle cx="664.78" cy="168.52" r="0.85" fill="none" stroke="#c89478" stroke-width="0.55"/>
<circle cx="666.02" cy="168.45" r="0.85" fill="none" stroke="#c89478" stroke-width="0.55"/>
<circle cx="664.30" cy="167.95" r="0.85" fill="none" stroke="#c89478" stroke-width="0.55"/>
<circle cx="665.56" cy="168.95" r="0.85" fill="none" stroke="#3d4248" stroke-width="0.55"/>
<circle cx="664.07" cy="166.36" r="0.85" fill="none" stroke="#3d4248" stroke-width="0.55"/>
<circle cx="665.94" cy="166.89" r="0.85" fill="none" stroke="#c89478" stroke-width="0.55"/>
<circle cx="655.60" cy="174.95" r="0.85" fill="none" stroke="#e04a33" stroke-width="0.55"/>
<circle cx="662.25" cy="168.87" r="0.85" fill="none" stroke="#e04a33" stroke-width="0.55"/>
<circle cx="658.06" cy="173.27" r="0.85" fill="none" stroke="#c89478" stroke-width="0.55"/>
<circle cx="660.58" cy="169.58" r="0.85" fill="none" stroke="#e04a33" stroke-width="0.55"/>
<circle cx="662.24" cy="169.46" r="0.85" fill="none" stroke="#c89478" stroke-width="0.55"/>
<circle cx="661.72" cy="170.26" r="0.85" fill="none" stroke="#c89478" stroke-width="0.55"/>
<circle cx="663.50" cy="170.15" r="0.85" fill="none" stroke="#e04a33" stroke-width="0.55"/>
<circle cx="658.45" cy="171.77" r="0.85" fill="none" stroke="#c89478" stroke-width="0.55"/>
<circle cx="653.85" cy="176.73" r="0.85" fill="none" stroke="#c89478" stroke-width="0.55"/>
<circle cx="653.66" cy="177.91" r="0.85" fill="none" stroke="#e04a33" stroke-width="0.55"/>
<circle cx="653.91" cy="176.03" r="0.85" fill="none" stroke="#c89478" stroke-width="0.55"/>
<circle cx="652.31" cy="176.63" r="0.85" fill="none" stroke="#c89478" stroke-width="0.55"/>
<circle cx="654.79" cy="176.57" r="0.85" fill="none" stroke="#c89478" stroke-width="0.55"/>
<circle cx="654.82" cy="176.39" r="0.85" fill="none" stroke="#e04a33" stroke-width="0.55"/>
<circle cx="652.06" cy="178.06" r="0.85" fill="none" stroke="#c89478" stroke-width="0.55"/>
<circle cx="654.53" cy="177.36" r="0.85" fill="none" stroke="#c89478" stroke-width="0.55"/>
<circle cx="661.23" cy="177.72" r="0.85" fill="none" stroke="#c89478" stroke-width="0.55"/>
<circle cx="659.02" cy="178.03" r="0.85" fill="none" stroke="#c89478" stroke-width="0.55"/>
<circle cx="660.12" cy="176.23" r="0.85" fill="none" stroke="#c89478" stroke-width="0.55"/>
<circle cx="659.96" cy="179.63" r="0.85" fill="none" stroke="#c89478" stroke-width="0.55"/>
<circle cx="660.65" cy="178.91" r="0.85" fill="none" stroke="#c89478" stroke-width="0.55"/>
<circle cx="661.18" cy="177.98" r="0.85" fill="none" stroke="#e04a33" stroke-width="0.55"/>
<circle cx="661.10" cy="179.05" r="0.85" fill="none" stroke="#e04a33" stroke-width="0.55"/>
<circle cx="660.59" cy="179.52" r="0.85" fill="none" stroke="#c89478" stroke-width="0.55"/>
<circle cx="674.25" cy="180.41" r="0.85" fill="none" stroke="#c89478" stroke-width="0.55"/>
<circle cx="665.42" cy="180.74" r="0.85" fill="none" stroke="#c89478" stroke-width="0.55"/>
<circle cx="667.11" cy="174.59" r="0.85" fill="none" stroke="#c89478" stroke-width="0.55"/>
<circle cx="671.27" cy="182.87" r="0.85" fill="none" stroke="#c89478" stroke-width="0.55"/>
<circle cx="674.52" cy="180.13" r="0.85" fill="none" stroke="#3d4248" stroke-width="0.55"/>
<circle cx="663.53" cy="180.05" r="0.85" fill="none" stroke="#c89478" stroke-width="0.55"/>
<circle cx="673.39" cy="175.95" r="0.85" fill="none" stroke="#c89478" stroke-width="0.55"/>
<circle cx="666.01" cy="176.74" r="0.85" fill="none" stroke="#c89478" stroke-width="0.55"/>
<circle cx="672.72" cy="179.64" r="0.85" fill="none" stroke="#c89478" stroke-width="0.55"/>
<circle cx="664.45" cy="179.03" r="0.85" fill="none" stroke="#c89478" stroke-width="0.55"/>
<circle cx="661.04" cy="176.83" r="0.85" fill="none" stroke="#c89478" stroke-width="0.55"/>
<circle cx="672.89" cy="182.19" r="0.85" fill="none" stroke="#c89478" stroke-width="0.55"/>
<circle cx="667.12" cy="183.51" r="0.85" fill="none" stroke="#c89478" stroke-width="0.55"/>
<circle cx="667.96" cy="175.23" r="0.85" fill="none" stroke="#3d4248" stroke-width="0.55"/>
<circle cx="668.91" cy="177.19" r="0.85" fill="none" stroke="#c89478" stroke-width="0.55"/>
<circle cx="666.30" cy="176.62" r="0.85" fill="none" stroke="#c89478" stroke-width="0.55"/>
<circle cx="665.58" cy="173.72" r="0.85" fill="none" stroke="#c89478" stroke-width="0.55"/>
<circle cx="668.90" cy="181.85" r="0.85" fill="none" stroke="#c89478" stroke-width="0.55"/>
<circle cx="672.50" cy="182.16" r="0.85" fill="none" stroke="#c89478" stroke-width="0.55"/>
<circle cx="664.74" cy="179.63" r="0.85" fill="none" stroke="#c89478" stroke-width="0.55"/>
<circle cx="671.88" cy="177.84" r="0.85" fill="none" stroke="#3d4248" stroke-width="0.55"/>
<circle cx="664.08" cy="179.86" r="0.85" fill="none" stroke="#c89478" stroke-width="0.55"/>
<circle cx="672.46" cy="180.57" r="0.85" fill="none" stroke="#c89478" stroke-width="0.55"/>
<circle cx="668.21" cy="176.30" r="0.85" fill="none" stroke="#c89478" stroke-width="0.55"/>
<circle cx="665.92" cy="183.40" r="0.85" fill="none" stroke="#c89478" stroke-width="0.55"/>
<circle cx="664.16" cy="182.48" r="0.85" fill="none" stroke="#c89478" stroke-width="0.55"/>
<circle cx="661.82" cy="175.43" r="0.85" fill="none" stroke="#c89478" stroke-width="0.55"/>
<circle cx="669.16" cy="174.66" r="0.85" fill="none" stroke="#3d4248" stroke-width="0.55"/>
<circle cx="670.65" cy="176.08" r="0.85" fill="none" stroke="#c89478" stroke-width="0.55"/>
<circle cx="664.45" cy="180.61" r="0.85" fill="none" stroke="#c89478" stroke-width="0.55"/>
<circle cx="661.71" cy="176.58" r="0.85" fill="none" stroke="#c89478" stroke-width="0.55"/>
<circle cx="670.62" cy="175.72" r="0.85" fill="none" stroke="#c89478" stroke-width="0.55"/>
<circle cx="661.63" cy="175.43" r="0.85" fill="none" stroke="#c89478" stroke-width="0.55"/>
<circle cx="661.95" cy="176.40" r="0.85" fill="none" stroke="#c89478" stroke-width="0.55"/>
<circle cx="669.54" cy="176.96" r="0.85" fill="none" stroke="#c89478" stroke-width="0.55"/>
<circle cx="665.84" cy="175.47" r="0.85" fill="none" stroke="#c89478" stroke-width="0.55"/>
<circle cx="668.31" cy="173.97" r="0.85" fill="none" stroke="#c89478" stroke-width="0.55"/>
<circle cx="662.77" cy="178.29" r="0.85" fill="none" stroke="#3d4248" stroke-width="0.55"/>
<circle cx="662.51" cy="181.30" r="0.85" fill="none" stroke="#c89478" stroke-width="0.55"/>
<circle cx="671.22" cy="172.72" r="0.85" fill="none" stroke="#c89478" stroke-width="0.55"/>
<circle cx="666.34" cy="172.37" r="0.85" fill="none" stroke="#c89478" stroke-width="0.55"/>
<circle cx="667.52" cy="171.54" r="0.85" fill="none" stroke="#c89478" stroke-width="0.55"/>
<circle cx="664.53" cy="179.72" r="0.85" fill="none" stroke="#c89478" stroke-width="0.55"/>
<circle cx="672.13" cy="181.61" r="0.85" fill="none" stroke="#c89478" stroke-width="0.55"/>
<circle cx="662.73" cy="179.39" r="0.85" fill="none" stroke="#c89478" stroke-width="0.55"/>
<circle cx="669.20" cy="180.92" r="0.85" fill="none" stroke="#c89478" stroke-width="0.55"/>
<circle cx="668.39" cy="180.90" r="0.85" fill="none" stroke="#c89478" stroke-width="0.55"/>
<circle cx="665.94" cy="182.62" r="0.85" fill="none" stroke="#c89478" stroke-width="0.55"/>
<circle cx="672.99" cy="174.00" r="0.85" fill="none" stroke="#3d4248" stroke-width="0.55"/>
<circle cx="664.63" cy="178.44" r="0.85" fill="none" stroke="#c89478" stroke-width="0.55"/>
<circle cx="664.09" cy="181.27" r="0.85" fill="none" stroke="#3d4248" stroke-width="0.55"/>
<circle cx="666.03" cy="175.41" r="0.85" fill="none" stroke="#c89478" stroke-width="0.55"/>
<circle cx="669.61" cy="172.76" r="0.85" fill="none" stroke="#c89478" stroke-width="0.55"/>
<circle cx="666.35" cy="181.13" r="0.85" fill="none" stroke="#c89478" stroke-width="0.55"/>
<circle cx="671.51" cy="177.95" r="0.85" fill="none" stroke="#c89478" stroke-width="0.55"/>
<circle cx="674.24" cy="178.15" r="0.85" fill="none" stroke="#c89478" stroke-width="0.55"/>
<circle cx="667.16" cy="183.64" r="0.85" fill="none" stroke="#c89478" stroke-width="0.55"/>
<circle cx="673.05" cy="176.70" r="0.85" fill="none" stroke="#c89478" stroke-width="0.55"/>
<circle cx="662.09" cy="181.25" r="0.85" fill="none" stroke="#c89478" stroke-width="0.55"/>
<circle cx="663.01" cy="176.81" r="0.85" fill="none" stroke="#c89478" stroke-width="0.55"/>
<circle cx="667.18" cy="179.79" r="0.85" fill="none" stroke="#c89478" stroke-width="0.55"/>
<circle cx="664.21" cy="182.32" r="0.85" fill="none" stroke="#c89478" stroke-width="0.55"/>
<circle cx="674.14" cy="176.86" r="0.85" fill="none" stroke="#c89478" stroke-width="0.55"/>
<circle cx="667.05" cy="174.98" r="0.85" fill="none" stroke="#c89478" stroke-width="0.55"/>
<circle cx="674.15" cy="177.79" r="0.85" fill="none" stroke="#c89478" stroke-width="0.55"/>
<circle cx="664.24" cy="181.51" r="0.85" fill="none" stroke="#c89478" stroke-width="0.55"/>
<circle cx="666.13" cy="175.21" r="0.85" fill="none" stroke="#c89478" stroke-width="0.55"/>
<circle cx="672.84" cy="176.42" r="0.85" fill="none" stroke="#c89478" stroke-width="0.55"/>
<circle cx="670.10" cy="179.46" r="0.85" fill="none" stroke="#c89478" stroke-width="0.55"/>
<circle cx="669.79" cy="181.89" r="0.85" fill="none" stroke="#c89478" stroke-width="0.55"/>
<circle cx="668.31" cy="180.69" r="0.85" fill="none" stroke="#c89478" stroke-width="0.55"/>
<circle cx="671.92" cy="176.04" r="0.85" fill="none" stroke="#c89478" stroke-width="0.55"/>
<circle cx="669.78" cy="174.40" r="0.85" fill="none" stroke="#c89478" stroke-width="0.55"/>
<circle cx="663.15" cy="181.33" r="0.85" fill="none" stroke="#c89478" stroke-width="0.55"/>
<circle cx="667.16" cy="177.53" r="0.85" fill="none" stroke="#c89478" stroke-width="0.55"/>
<circle cx="671.28" cy="180.61" r="0.85" fill="none" stroke="#c89478" stroke-width="0.55"/>
<circle cx="665.77" cy="176.41" r="0.85" fill="none" stroke="#c89478" stroke-width="0.55"/>
<circle cx="664.93" cy="181.83" r="0.85" fill="none" stroke="#3d4248" stroke-width="0.55"/>
<circle cx="662.01" cy="177.54" r="0.85" fill="none" stroke="#3d4248" stroke-width="0.55"/>
<circle cx="665.73" cy="176.00" r="0.85" fill="none" stroke="#c89478" stroke-width="0.55"/>
<circle cx="666.59" cy="174.52" r="0.85" fill="none" stroke="#c89478" stroke-width="0.55"/>
<circle cx="672.81" cy="182.68" r="0.85" fill="none" stroke="#c89478" stroke-width="0.55"/>
<circle cx="663.04" cy="176.26" r="0.85" fill="none" stroke="#3d4248" stroke-width="0.55"/>
<circle cx="670.13" cy="173.43" r="0.85" fill="none" stroke="#c89478" stroke-width="0.55"/>
<circle cx="670.64" cy="176.15" r="0.85" fill="none" stroke="#c89478" stroke-width="0.55"/>
<circle cx="666.05" cy="177.56" r="0.85" fill="none" stroke="#3d4248" stroke-width="0.55"/>
<circle cx="673.17" cy="176.11" r="0.85" fill="none" stroke="#c89478" stroke-width="0.55"/>
<circle cx="663.94" cy="181.54" r="0.85" fill="none" stroke="#c89478" stroke-width="0.55"/>
<circle cx="665.31" cy="178.60" r="0.85" fill="none" stroke="#c89478" stroke-width="0.55"/>
<circle cx="664.33" cy="177.68" r="0.85" fill="none" stroke="#c89478" stroke-width="0.55"/>
<circle cx="673.47" cy="179.37" r="0.85" fill="none" stroke="#c89478" stroke-width="0.55"/>
<circle cx="663.49" cy="178.90" r="0.85" fill="none" stroke="#c89478" stroke-width="0.55"/>
<circle cx="667.95" cy="173.50" r="0.85" fill="none" stroke="#c89478" stroke-width="0.55"/>
<circle cx="664.02" cy="180.45" r="0.85" fill="none" stroke="#c89478" stroke-width="0.55"/>
<circle cx="663.35" cy="177.42" r="0.85" fill="none" stroke="#c89478" stroke-width="0.55"/>
<circle cx="666.89" cy="171.91" r="0.85" fill="none" stroke="#c89478" stroke-width="0.55"/>
<circle cx="666.08" cy="182.89" r="0.85" fill="none" stroke="#c89478" stroke-width="0.55"/>
<circle cx="663.49" cy="178.03" r="0.85" fill="none" stroke="#c89478" stroke-width="0.55"/>
<circle cx="668.16" cy="181.74" r="0.85" fill="none" stroke="#c89478" stroke-width="0.55"/>
<circle cx="673.74" cy="174.67" r="0.85" fill="none" stroke="#c89478" stroke-width="0.55"/>
<circle cx="669.02" cy="175.18" r="0.85" fill="none" stroke="#3d4248" stroke-width="0.55"/>
<circle cx="672.97" cy="181.51" r="0.85" fill="none" stroke="#3d4248" stroke-width="0.55"/>
<circle cx="671.36" cy="178.11" r="0.85" fill="none" stroke="#c89478" stroke-width="0.55"/>
<circle cx="672.90" cy="174.45" r="0.85" fill="none" stroke="#c89478" stroke-width="0.55"/>
<circle cx="669.08" cy="178.43" r="0.85" fill="none" stroke="#c89478" stroke-width="0.55"/>
<circle cx="674.23" cy="175.47" r="0.85" fill="none" stroke="#c89478" stroke-width="0.55"/>
<circle cx="673.76" cy="175.18" r="0.85" fill="none" stroke="#c89478" stroke-width="0.55"/>
<circle cx="665.04" cy="178.57" r="0.85" fill="none" stroke="#c89478" stroke-width="0.55"/>
<circle cx="665.84" cy="175.97" r="0.85" fill="none" stroke="#c89478" stroke-width="0.55"/>
<circle cx="667.31" cy="174.45" r="0.85" fill="none" stroke="#c89478" stroke-width="0.55"/>
<circle cx="672.97" cy="175.88" r="0.85" fill="none" stroke="#3d4248" stroke-width="0.55"/>
<circle cx="671.50" cy="175.64" r="0.85" fill="none" stroke="#3d4248" stroke-width="0.55"/>
<circle cx="671.44" cy="176.44" r="0.85" fill="none" stroke="#c89478" stroke-width="0.55"/>
<circle cx="673.04" cy="172.47" r="0.85" fill="none" stroke="#c89478" stroke-width="0.55"/>
<circle cx="670.36" cy="172.63" r="0.85" fill="none" stroke="#c89478" stroke-width="0.55"/>
<circle cx="669.04" cy="174.80" r="0.85" fill="none" stroke="#3d4248" stroke-width="0.55"/>
<circle cx="670.85" cy="175.47" r="0.85" fill="none" stroke="#3d4248" stroke-width="0.55"/>
<circle cx="671.26" cy="172.51" r="0.85" fill="none" stroke="#3d4248" stroke-width="0.55"/>
<circle cx="673.74" cy="172.20" r="0.85" fill="none" stroke="#c89478" stroke-width="0.55"/>
<circle cx="668.89" cy="175.92" r="0.85" fill="none" stroke="#3d4248" stroke-width="0.55"/>
<circle cx="670.02" cy="172.58" r="0.85" fill="none" stroke="#3d4248" stroke-width="0.55"/>
<circle cx="668.26" cy="173.90" r="0.85" fill="none" stroke="#c89478" stroke-width="0.55"/>
<circle cx="672.50" cy="176.35" r="0.85" fill="none" stroke="#3d4248" stroke-width="0.55"/>
<circle cx="668.58" cy="174.96" r="0.85" fill="none" stroke="#3d4248" stroke-width="0.55"/>
<circle cx="669.70" cy="174.10" r="0.85" fill="none" stroke="#3d4248" stroke-width="0.55"/>
<circle cx="668.98" cy="172.55" r="0.85" fill="none" stroke="#3d4248" stroke-width="0.55"/>
<circle cx="671.45" cy="174.33" r="0.85" fill="none" stroke="#3d4248" stroke-width="0.55"/>
<circle cx="670.97" cy="176.67" r="0.85" fill="none" stroke="#3d4248" stroke-width="0.55"/>
<circle cx="662.53" cy="184.33" r="0.85" fill="none" stroke="#c89478" stroke-width="0.55"/>
<circle cx="665.74" cy="185.25" r="0.85" fill="none" stroke="#c89478" stroke-width="0.55"/>
<circle cx="663.92" cy="184.52" r="0.85" fill="none" stroke="#c89478" stroke-width="0.55"/>
<circle cx="665.53" cy="186.58" r="0.85" fill="none" stroke="#c89478" stroke-width="0.55"/>
<circle cx="663.32" cy="185.67" r="0.85" fill="none" stroke="#c89478" stroke-width="0.55"/>
<circle cx="662.50" cy="185.04" r="0.85" fill="none" stroke="#c89478" stroke-width="0.55"/>
<circle cx="664.49" cy="184.42" r="0.85" fill="none" stroke="#c89478" stroke-width="0.55"/>
<circle cx="663.52" cy="185.72" r="0.85" fill="none" stroke="#c89478" stroke-width="0.55"/>
<circle cx="666.51" cy="184.85" r="0.85" fill="none" stroke="#c89478" stroke-width="0.55"/>
<circle cx="663.43" cy="184.52" r="0.85" fill="none" stroke="#c89478" stroke-width="0.55"/>
<circle cx="663.32" cy="186.93" r="0.85" fill="none" stroke="#c89478" stroke-width="0.55"/>
<circle cx="664.17" cy="184.43" r="0.85" fill="none" stroke="#c89478" stroke-width="0.55"/>
<circle cx="654.03" cy="185.44" r="0.85" fill="none" stroke="#c89478" stroke-width="0.55"/>
<circle cx="654.26" cy="187.54" r="0.85" fill="none" stroke="#e04a33" stroke-width="0.55"/>
<circle cx="654.68" cy="186.16" r="0.85" fill="none" stroke="#e04a33" stroke-width="0.55"/>
<circle cx="654.92" cy="187.59" r="0.85" fill="none" stroke="#c89478" stroke-width="0.55"/>
<circle cx="655.58" cy="187.53" r="0.85" fill="none" stroke="#e04a33" stroke-width="0.55"/>
<circle cx="655.27" cy="186.66" r="0.85" fill="none" stroke="#e04a33" stroke-width="0.55"/>
<circle cx="656.50" cy="185.66" r="0.85" fill="none" stroke="#e04a33" stroke-width="0.55"/>
<circle cx="661.64" cy="197.97" r="0.85" fill="none" stroke="#c89478" stroke-width="0.55"/>
<circle cx="661.65" cy="198.27" r="0.85" fill="none" stroke="#c89478" stroke-width="0.55"/>
<circle cx="660.88" cy="198.98" r="0.85" fill="none" stroke="#c89478" stroke-width="0.55"/>
<circle cx="661.21" cy="198.40" r="0.85" fill="none" stroke="#c89478" stroke-width="0.55"/>
<line x1="593.40" y1="207.00" x2="593.40" y2="190.60" stroke="#111" stroke-width="1.0" />
<path d="M593.40,188.20 L591.90,191.00 L594.90,191.00 Z" fill="#111"/>
<line x1="592.90" y1="206.50" x2="609.10" y2="206.50" stroke="#111" stroke-width="1.0" />
<path d="M611.50,206.50 L608.70,205.00 L608.70,208.00 Z" fill="#111"/>
<text transform="translate(590.60,196.30) rotate(-90)" font-size="6.6" text-anchor="middle" fill="#1a1a1a" stroke="#1a1a1a" stroke-width="0.16">UMAP 2</text>
<text x="592.90" y="215.60" font-size="6.6" text-anchor="start" fill="#1a1a1a" stroke="#1a1a1a" stroke-width="0.16">UMAP 1</text>
<rect x="579.40" y="278.00" width="102.40" height="80.40" fill="none" stroke="#8f8f8f" stroke-width="0.6" stroke-dasharray="1.5,1.1"/>
<circle cx="622.05" cy="293.04" r="0.6" fill="none" stroke="#e04a33" stroke-width="0.38"/>
<circle cx="622.32" cy="293.26" r="0.6" fill="none" stroke="#e04a33" stroke-width="0.38"/>
<circle cx="622.18" cy="293.25" r="0.6" fill="none" stroke="#e04a33" stroke-width="0.38"/>
<circle cx="622.51" cy="292.98" r="0.6" fill="none" stroke="#e04a33" stroke-width="0.38"/>
<circle cx="623.50" cy="292.61" r="0.6" fill="none" stroke="#c89478" stroke-width="0.38"/>
<circle cx="622.06" cy="293.20" r="0.6" fill="none" stroke="#e04a33" stroke-width="0.38"/>
<circle cx="621.72" cy="291.74" r="0.6" fill="none" stroke="#e04a33" stroke-width="0.38"/>
<circle cx="593.16" cy="312.75" r="0.6" fill="none" stroke="#c89478" stroke-width="0.38"/>
<circle cx="600.40" cy="314.65" r="0.6" fill="none" stroke="#c89478" stroke-width="0.38"/>
<circle cx="603.29" cy="315.34" r="0.6" fill="none" stroke="#c89478" stroke-width="0.38"/>
<circle cx="601.70" cy="314.06" r="0.6" fill="none" stroke="#c89478" stroke-width="0.38"/>
<circle cx="598.69" cy="313.96" r="0.6" fill="none" stroke="#c89478" stroke-width="0.38"/>
<circle cx="599.80" cy="314.58" r="0.6" fill="none" stroke="#c89478" stroke-width="0.38"/>
<circle cx="601.55" cy="315.46" r="0.6" fill="none" stroke="#c89478" stroke-width="0.38"/>
<circle cx="607.71" cy="316.94" r="0.6" fill="none" stroke="#c89478" stroke-width="0.38"/>
<circle cx="602.09" cy="315.20" r="0.6" fill="none" stroke="#c89478" stroke-width="0.38"/>
<circle cx="598.63" cy="313.74" r="0.6" fill="none" stroke="#c89478" stroke-width="0.38"/>
<circle cx="598.44" cy="313.68" r="0.6" fill="none" stroke="#c89478" stroke-width="0.38"/>
<circle cx="596.67" cy="313.16" r="0.6" fill="none" stroke="#c89478" stroke-width="0.38"/>
<circle cx="602.35" cy="314.80" r="0.6" fill="none" stroke="#c89478" stroke-width="0.38"/>
<circle cx="597.11" cy="314.54" r="0.6" fill="none" stroke="#c89478" stroke-width="0.38"/>
<circle cx="604.54" cy="314.96" r="0.6" fill="none" stroke="#c89478" stroke-width="0.38"/>
<circle cx="601.29" cy="314.97" r="0.6" fill="none" stroke="#c89478" stroke-width="0.38"/>
<circle cx="596.15" cy="313.53" r="0.6" fill="none" stroke="#c89478" stroke-width="0.38"/>
<circle cx="593.88" cy="312.92" r="0.6" fill="none" stroke="#c89478" stroke-width="0.38"/>
<circle cx="600.70" cy="315.20" r="0.6" fill="none" stroke="#c89478" stroke-width="0.38"/>
<circle cx="600.77" cy="313.86" r="0.6" fill="none" stroke="#c89478" stroke-width="0.38"/>
<circle cx="597.17" cy="314.37" r="0.6" fill="none" stroke="#c89478" stroke-width="0.38"/>
<circle cx="598.98" cy="313.25" r="0.6" fill="none" stroke="#c89478" stroke-width="0.38"/>
<circle cx="598.26" cy="313.45" r="0.6" fill="none" stroke="#c89478" stroke-width="0.38"/>
<circle cx="608.17" cy="316.28" r="0.6" fill="none" stroke="#c89478" stroke-width="0.38"/>
<circle cx="600.13" cy="313.22" r="0.6" fill="none" stroke="#c89478" stroke-width="0.38"/>
<circle cx="592.63" cy="313.16" r="0.6" fill="none" stroke="#c89478" stroke-width="0.38"/>
<circle cx="591.99" cy="312.05" r="0.6" fill="none" stroke="#c89478" stroke-width="0.38"/>
<circle cx="606.09" cy="316.41" r="0.6" fill="none" stroke="#c89478" stroke-width="0.38"/>
<circle cx="598.42" cy="313.20" r="0.6" fill="none" stroke="#c89478" stroke-width="0.38"/>
<circle cx="594.25" cy="312.41" r="0.6" fill="none" stroke="#c89478" stroke-width="0.38"/>
<circle cx="595.24" cy="312.46" r="0.6" fill="none" stroke="#3d4248" stroke-width="0.38"/>
<circle cx="594.08" cy="312.88" r="0.6" fill="none" stroke="#3d4248" stroke-width="0.38"/>
<circle cx="595.46" cy="312.66" r="0.6" fill="none" stroke="#3d4248" stroke-width="0.38"/>
<circle cx="592.11" cy="312.47" r="0.6" fill="none" stroke="#3d4248" stroke-width="0.38"/>
<circle cx="592.51" cy="312.72" r="0.6" fill="none" stroke="#3d4248" stroke-width="0.38"/>
<circle cx="593.12" cy="311.94" r="0.6" fill="none" stroke="#3d4248" stroke-width="0.38"/>
<circle cx="595.10" cy="312.38" r="0.6" fill="none" stroke="#3d4248" stroke-width="0.38"/>
<circle cx="594.63" cy="312.45" r="0.6" fill="none" stroke="#3d4248" stroke-width="0.38"/>
<circle cx="615.82" cy="315.34" r="0.6" fill="none" stroke="#c89478" stroke-width="0.38"/>
<circle cx="615.93" cy="315.87" r="0.6" fill="none" stroke="#c89478" stroke-width="0.38"/>
<circle cx="615.72" cy="315.27" r="0.6" fill="none" stroke="#c89478" stroke-width="0.38"/>
<circle cx="616.21" cy="315.87" r="0.6" fill="none" stroke="#c89478" stroke-width="0.38"/>
<circle cx="615.80" cy="316.85" r="0.6" fill="none" stroke="#c89478" stroke-width="0.38"/>
<circle cx="615.20" cy="316.29" r="0.6" fill="none" stroke="#c89478" stroke-width="0.38"/>
<circle cx="615.30" cy="315.45" r="0.6" fill="none" stroke="#c89478" stroke-width="0.38"/>
<circle cx="616.42" cy="316.22" r="0.6" fill="none" stroke="#c89478" stroke-width="0.38"/>
<circle cx="615.88" cy="322.25" r="0.6" fill="none" stroke="#c89478" stroke-width="0.38"/>
<circle cx="616.81" cy="323.40" r="0.6" fill="none" stroke="#c89478" stroke-width="0.38"/>
<circle cx="616.97" cy="323.59" r="0.6" fill="none" stroke="#c89478" stroke-width="0.38"/>
<circle cx="616.84" cy="323.78" r="0.6" fill="none" stroke="#c89478" stroke-width="0.38"/>
<circle cx="618.75" cy="322.44" r="0.6" fill="none" stroke="#c89478" stroke-width="0.38"/>
<circle cx="617.42" cy="323.82" r="0.6" fill="none" stroke="#c89478" stroke-width="0.38"/>
<circle cx="616.27" cy="323.77" r="0.6" fill="none" stroke="#c89478" stroke-width="0.38"/>
<circle cx="617.04" cy="322.06" r="0.6" fill="none" stroke="#c89478" stroke-width="0.38"/>
<circle cx="616.57" cy="321.83" r="0.6" fill="none" stroke="#c89478" stroke-width="0.38"/>
<circle cx="617.13" cy="321.66" r="0.6" fill="none" stroke="#c89478" stroke-width="0.38"/>
<circle cx="617.92" cy="323.75" r="0.6" fill="none" stroke="#c89478" stroke-width="0.38"/>
<circle cx="616.63" cy="321.88" r="0.6" fill="none" stroke="#c89478" stroke-width="0.38"/>
<circle cx="618.61" cy="323.44" r="0.6" fill="none" stroke="#c89478" stroke-width="0.38"/>
<circle cx="617.51" cy="321.11" r="0.6" fill="none" stroke="#c89478" stroke-width="0.38"/>
<circle cx="640.84" cy="287.63" r="0.6" fill="none" stroke="#c89478" stroke-width="0.38"/>
<circle cx="641.29" cy="287.14" r="0.6" fill="none" stroke="#e04a33" stroke-width="0.38"/>
<circle cx="641.34" cy="288.29" r="0.6" fill="none" stroke="#c89478" stroke-width="0.38"/>
<circle cx="636.35" cy="288.03" r="0.6" fill="none" stroke="#c89478" stroke-width="0.38"/>
<circle cx="638.06" cy="287.36" r="0.6" fill="none" stroke="#c89478" stroke-width="0.38"/>
<circle cx="638.75" cy="289.13" r="0.6" fill="none" stroke="#c89478" stroke-width="0.38"/>
<circle cx="640.97" cy="286.90" r="0.6" fill="none" stroke="#c89478" stroke-width="0.38"/>
<circle cx="640.43" cy="287.92" r="0.6" fill="none" stroke="#c89478" stroke-width="0.38"/>
<circle cx="639.43" cy="288.61" r="0.6" fill="none" stroke="#e04a33" stroke-width="0.38"/>
<circle cx="641.46" cy="288.39" r="0.6" fill="none" stroke="#e04a33" stroke-width="0.38"/>
<circle cx="638.40" cy="287.00" r="0.6" fill="none" stroke="#c89478" stroke-width="0.38"/>
<circle cx="637.64" cy="288.46" r="0.6" fill="none" stroke="#c89478" stroke-width="0.38"/>
<circle cx="638.14" cy="287.06" r="0.6" fill="none" stroke="#c89478" stroke-width="0.38"/>
<circle cx="639.35" cy="288.10" r="0.6" fill="none" stroke="#c89478" stroke-width="0.38"/>
<circle cx="634.70" cy="292.36" r="0.6" fill="none" stroke="#c89478" stroke-width="0.38"/>
<circle cx="634.36" cy="292.16" r="0.6" fill="none" stroke="#c89478" stroke-width="0.38"/>
<circle cx="651.85" cy="288.48" r="0.6" fill="none" stroke="#e04a33" stroke-width="0.38"/>
<circle cx="651.17" cy="289.62" r="0.6" fill="none" stroke="#e04a33" stroke-width="0.38"/>
<circle cx="651.94" cy="288.65" r="0.6" fill="none" stroke="#e04a33" stroke-width="0.38"/>
<circle cx="655.65" cy="285.25" r="0.6" fill="none" stroke="#e04a33" stroke-width="0.38"/>
<circle cx="655.74" cy="285.96" r="0.6" fill="none" stroke="#c89478" stroke-width="0.38"/>
<circle cx="652.80" cy="286.72" r="0.6" fill="none" stroke="#e04a33" stroke-width="0.38"/>
<circle cx="655.90" cy="286.58" r="0.6" fill="none" stroke="#e04a33" stroke-width="0.38"/>
<circle cx="655.02" cy="284.43" r="0.6" fill="none" stroke="#e04a33" stroke-width="0.38"/>
<circle cx="654.45" cy="285.35" r="0.6" fill="none" stroke="#c89478" stroke-width="0.38"/>
<circle cx="652.57" cy="284.88" r="0.6" fill="none" stroke="#e04a33" stroke-width="0.38"/>
<circle cx="651.95" cy="284.89" r="0.6" fill="none" stroke="#e04a33" stroke-width="0.38"/>
<circle cx="652.26" cy="284.64" r="0.6" fill="none" stroke="#c89478" stroke-width="0.38"/>
<circle cx="651.01" cy="286.38" r="0.6" fill="none" stroke="#c89478" stroke-width="0.38"/>
<circle cx="655.84" cy="285.99" r="0.6" fill="none" stroke="#e04a33" stroke-width="0.38"/>
<circle cx="655.24" cy="285.56" r="0.6" fill="none" stroke="#e04a33" stroke-width="0.38"/>
<circle cx="653.55" cy="285.20" r="0.6" fill="none" stroke="#e04a33" stroke-width="0.38"/>
<circle cx="653.51" cy="284.90" r="0.6" fill="none" stroke="#c89478" stroke-width="0.38"/>
<circle cx="665.70" cy="285.86" r="0.6" fill="none" stroke="#c89478" stroke-width="0.38"/>
<circle cx="664.57" cy="285.19" r="0.6" fill="none" stroke="#3d4248" stroke-width="0.38"/>
<circle cx="666.24" cy="285.99" r="0.6" fill="none" stroke="#3d4248" stroke-width="0.38"/>
<circle cx="663.22" cy="285.12" r="0.6" fill="none" stroke="#3d4248" stroke-width="0.38"/>
<circle cx="664.46" cy="284.71" r="0.6" fill="none" stroke="#3d4248" stroke-width="0.38"/>
<circle cx="662.06" cy="285.57" r="0.6" fill="none" stroke="#3d4248" stroke-width="0.38"/>
<circle cx="664.89" cy="284.92" r="0.6" fill="none" stroke="#3d4248" stroke-width="0.38"/>
<circle cx="662.08" cy="284.58" r="0.6" fill="none" stroke="#3d4248" stroke-width="0.38"/>
<circle cx="665.74" cy="286.19" r="0.6" fill="none" stroke="#3d4248" stroke-width="0.38"/>
<circle cx="663.70" cy="285.26" r="0.6" fill="none" stroke="#c89478" stroke-width="0.38"/>
<circle cx="662.48" cy="284.44" r="0.6" fill="none" stroke="#3d4248" stroke-width="0.38"/>
<circle cx="661.78" cy="292.37" r="0.6" fill="none" stroke="#3d4248" stroke-width="0.38"/>
<circle cx="658.96" cy="290.15" r="0.6" fill="none" stroke="#3d4248" stroke-width="0.38"/>
<circle cx="664.74" cy="290.99" r="0.6" fill="none" stroke="#3d4248" stroke-width="0.38"/>
<circle cx="659.47" cy="292.67" r="0.6" fill="none" stroke="#3d4248" stroke-width="0.38"/>
<circle cx="660.73" cy="291.84" r="0.6" fill="none" stroke="#3d4248" stroke-width="0.38"/>
<circle cx="658.58" cy="291.33" r="0.6" fill="none" stroke="#3d4248" stroke-width="0.38"/>
<circle cx="660.39" cy="292.98" r="0.6" fill="none" stroke="#3d4248" stroke-width="0.38"/>
<circle cx="665.40" cy="291.77" r="0.6" fill="none" stroke="#c89478" stroke-width="0.38"/>
<circle cx="665.13" cy="291.41" r="0.6" fill="none" stroke="#3d4248" stroke-width="0.38"/>
<circle cx="658.63" cy="290.73" r="0.6" fill="none" stroke="#3d4248" stroke-width="0.38"/>
<circle cx="661.93" cy="291.24" r="0.6" fill="none" stroke="#3d4248" stroke-width="0.38"/>
<circle cx="662.91" cy="290.45" r="0.6" fill="none" stroke="#3d4248" stroke-width="0.38"/>
<circle cx="661.21" cy="291.17" r="0.6" fill="none" stroke="#3d4248" stroke-width="0.38"/>
<circle cx="659.86" cy="293.35" r="0.6" fill="none" stroke="#3d4248" stroke-width="0.38"/>
<circle cx="662.00" cy="291.26" r="0.6" fill="none" stroke="#e04a33" stroke-width="0.38"/>
<circle cx="661.37" cy="291.47" r="0.6" fill="none" stroke="#c89478" stroke-width="0.38"/>
<circle cx="666.62" cy="291.76" r="0.6" fill="none" stroke="#e04a33" stroke-width="0.38"/>
<circle cx="663.20" cy="291.43" r="0.6" fill="none" stroke="#c89478" stroke-width="0.38"/>
<circle cx="659.25" cy="292.63" r="0.6" fill="none" stroke="#3d4248" stroke-width="0.38"/>
<circle cx="661.76" cy="291.17" r="0.6" fill="none" stroke="#c89478" stroke-width="0.38"/>
<circle cx="660.13" cy="291.50" r="0.6" fill="none" stroke="#e04a33" stroke-width="0.38"/>
<circle cx="656.99" cy="290.99" r="0.6" fill="none" stroke="#3d4248" stroke-width="0.38"/>
<circle cx="645.41" cy="307.28" r="0.6" fill="none" stroke="#c89478" stroke-width="0.38"/>
<circle cx="647.84" cy="298.87" r="0.6" fill="none" stroke="#c89478" stroke-width="0.38"/>
<circle cx="645.87" cy="306.21" r="0.6" fill="none" stroke="#c89478" stroke-width="0.38"/>
<circle cx="649.36" cy="300.76" r="0.6" fill="none" stroke="#c89478" stroke-width="0.38"/>
<circle cx="647.20" cy="302.28" r="0.6" fill="none" stroke="#3d4248" stroke-width="0.38"/>
<circle cx="648.96" cy="299.35" r="0.6" fill="none" stroke="#c89478" stroke-width="0.38"/>
<circle cx="651.21" cy="299.62" r="0.6" fill="none" stroke="#c89478" stroke-width="0.38"/>
<circle cx="644.34" cy="302.64" r="0.6" fill="none" stroke="#c89478" stroke-width="0.38"/>
<circle cx="650.09" cy="298.35" r="0.6" fill="none" stroke="#c89478" stroke-width="0.38"/>
<circle cx="644.67" cy="304.00" r="0.6" fill="none" stroke="#3d4248" stroke-width="0.38"/>
<circle cx="645.08" cy="304.89" r="0.6" fill="none" stroke="#c89478" stroke-width="0.38"/>
<circle cx="646.85" cy="302.17" r="0.6" fill="none" stroke="#3d4248" stroke-width="0.38"/>
<circle cx="643.15" cy="306.47" r="0.6" fill="none" stroke="#c89478" stroke-width="0.38"/>
<circle cx="643.98" cy="305.74" r="0.6" fill="none" stroke="#c89478" stroke-width="0.38"/>
<circle cx="649.70" cy="299.58" r="0.6" fill="none" stroke="#c89478" stroke-width="0.38"/>
<circle cx="649.40" cy="300.32" r="0.6" fill="none" stroke="#3d4248" stroke-width="0.38"/>
<circle cx="643.32" cy="305.69" r="0.6" fill="none" stroke="#c89478" stroke-width="0.38"/>
<circle cx="643.57" cy="306.50" r="0.6" fill="none" stroke="#c89478" stroke-width="0.38"/>
<circle cx="657.02" cy="302.68" r="0.6" fill="none" stroke="#c89478" stroke-width="0.38"/>
<circle cx="663.57" cy="304.78" r="0.6" fill="none" stroke="#c89478" stroke-width="0.38"/>
<circle cx="659.43" cy="306.13" r="0.6" fill="none" stroke="#c89478" stroke-width="0.38"/>
<circle cx="658.77" cy="305.36" r="0.6" fill="none" stroke="#3d4248" stroke-width="0.38"/>
<circle cx="651.69" cy="315.28" r="0.6" fill="none" stroke="#c89478" stroke-width="0.38"/>
<circle cx="664.46" cy="308.42" r="0.6" fill="none" stroke="#3d4248" stroke-width="0.38"/>
<circle cx="657.55" cy="300.48" r="0.6" fill="none" stroke="#c89478" stroke-width="0.38"/>
<circle cx="648.78" cy="306.17" r="0.6" fill="none" stroke="#c89478" stroke-width="0.38"/>
<circle cx="648.56" cy="310.35" r="0.6" fill="none" stroke="#c89478" stroke-width="0.38"/>
<circle cx="664.41" cy="305.89" r="0.6" fill="none" stroke="#c89478" stroke-width="0.38"/>
<circle cx="652.31" cy="298.40" r="0.6" fill="none" stroke="#3d4248" stroke-width="0.38"/>
<circle cx="662.90" cy="300.05" r="0.6" fill="none" stroke="#c89478" stroke-width="0.38"/>
<circle cx="652.07" cy="300.33" r="0.6" fill="none" stroke="#c89478" stroke-width="0.38"/>
<circle cx="644.23" cy="305.99" r="0.6" fill="none" stroke="#3d4248" stroke-width="0.38"/>
<circle cx="657.46" cy="306.71" r="0.6" fill="none" stroke="#c89478" stroke-width="0.38"/>
<circle cx="646.78" cy="306.21" r="0.6" fill="none" stroke="#c89478" stroke-width="0.38"/>
<circle cx="665.27" cy="310.57" r="0.6" fill="none" stroke="#c89478" stroke-width="0.38"/>
<circle cx="652.14" cy="311.85" r="0.6" fill="none" stroke="#c89478" stroke-width="0.38"/>
<circle cx="648.35" cy="303.61" r="0.6" fill="none" stroke="#c89478" stroke-width="0.38"/>
<circle cx="656.79" cy="315.88" r="0.6" fill="none" stroke="#c89478" stroke-width="0.38"/>
<circle cx="645.34" cy="308.19" r="0.6" fill="none" stroke="#c89478" stroke-width="0.38"/>
<circle cx="655.15" cy="313.88" r="0.6" fill="none" stroke="#c89478" stroke-width="0.38"/>
<circle cx="656.42" cy="312.23" r="0.6" fill="none" stroke="#c89478" stroke-width="0.38"/>
<circle cx="657.87" cy="300.41" r="0.6" fill="none" stroke="#c89478" stroke-width="0.38"/>
<circle cx="657.22" cy="313.03" r="0.6" fill="none" stroke="#c89478" stroke-width="0.38"/>
<circle cx="665.65" cy="302.14" r="0.6" fill="none" stroke="#c89478" stroke-width="0.38"/>
<circle cx="657.08" cy="301.75" r="0.6" fill="none" stroke="#c89478" stroke-width="0.38"/>
<circle cx="647.24" cy="302.62" r="0.6" fill="none" stroke="#c89478" stroke-width="0.38"/>
<circle cx="648.42" cy="307.14" r="0.6" fill="none" stroke="#c89478" stroke-width="0.38"/>
<circle cx="658.75" cy="315.57" r="0.6" fill="none" stroke="#c89478" stroke-width="0.38"/>
<circle cx="659.73" cy="305.61" r="0.6" fill="none" stroke="#c89478" stroke-width="0.38"/>
<circle cx="662.09" cy="312.93" r="0.6" fill="none" stroke="#3d4248" stroke-width="0.38"/>
<circle cx="648.80" cy="308.74" r="0.6" fill="none" stroke="#3d4248" stroke-width="0.38"/>
<circle cx="660.27" cy="308.86" r="0.6" fill="none" stroke="#c89478" stroke-width="0.38"/>
<circle cx="657.39" cy="310.10" r="0.6" fill="none" stroke="#c89478" stroke-width="0.38"/>
<circle cx="656.36" cy="300.30" r="0.6" fill="none" stroke="#c89478" stroke-width="0.38"/>
<circle cx="661.52" cy="309.52" r="0.6" fill="none" stroke="#c89478" stroke-width="0.38"/>
<circle cx="659.32" cy="311.67" r="0.6" fill="none" stroke="#c89478" stroke-width="0.38"/>
<circle cx="663.58" cy="306.01" r="0.6" fill="none" stroke="#c89478" stroke-width="0.38"/>
<circle cx="659.87" cy="315.61" r="0.6" fill="none" stroke="#c89478" stroke-width="0.38"/>
<circle cx="653.52" cy="308.35" r="0.6" fill="none" stroke="#c89478" stroke-width="0.38"/>
<circle cx="656.09" cy="308.38" r="0.6" fill="none" stroke="#c89478" stroke-width="0.38"/>
<circle cx="651.09" cy="301.85" r="0.6" fill="none" stroke="#c89478" stroke-width="0.38"/>
<circle cx="661.52" cy="308.34" r="0.6" fill="none" stroke="#c89478" stroke-width="0.38"/>
<circle cx="650.97" cy="303.38" r="0.6" fill="none" stroke="#c89478" stroke-width="0.38"/>
<circle cx="648.18" cy="310.54" r="0.6" fill="none" stroke="#3d4248" stroke-width="0.38"/>
<circle cx="656.89" cy="316.14" r="0.6" fill="none" stroke="#c89478" stroke-width="0.38"/>
<circle cx="644.01" cy="306.58" r="0.6" fill="none" stroke="#c89478" stroke-width="0.38"/>
<circle cx="656.54" cy="314.25" r="0.6" fill="none" stroke="#c89478" stroke-width="0.38"/>
<circle cx="663.72" cy="311.56" r="0.6" fill="none" stroke="#c89478" stroke-width="0.38"/>
<circle cx="663.18" cy="303.95" r="0.6" fill="none" stroke="#c89478" stroke-width="0.38"/>
<circle cx="654.63" cy="314.17" r="0.6" fill="none" stroke="#c89478" stroke-width="0.38"/>
<circle cx="647.51" cy="307.20" r="0.6" fill="none" stroke="#c89478" stroke-width="0.38"/>
<circle cx="652.49" cy="308.06" r="0.6" fill="none" stroke="#c89478" stroke-width="0.38"/>
<circle cx="657.47" cy="302.57" r="0.6" fill="none" stroke="#c89478" stroke-width="0.38"/>
<circle cx="644.91" cy="303.99" r="0.6" fill="none" stroke="#c89478" stroke-width="0.38"/>
<circle cx="660.24" cy="301.50" r="0.6" fill="none" stroke="#c89478" stroke-width="0.38"/>
<circle cx="661.04" cy="299.82" r="0.6" fill="none" stroke="#c89478" stroke-width="0.38"/>
<circle cx="658.62" cy="299.52" r="0.6" fill="none" stroke="#c89478" stroke-width="0.38"/>
<circle cx="658.27" cy="302.35" r="0.6" fill="none" stroke="#c89478" stroke-width="0.38"/>
<circle cx="648.81" cy="306.69" r="0.6" fill="none" stroke="#3d4248" stroke-width="0.38"/>
<circle cx="664.33" cy="304.00" r="0.6" fill="none" stroke="#c89478" stroke-width="0.38"/>
<circle cx="666.65" cy="306.12" r="0.6" fill="none" stroke="#c89478" stroke-width="0.38"/>
<circle cx="656.30" cy="297.78" r="0.6" fill="none" stroke="#c89478" stroke-width="0.38"/>
<circle cx="665.96" cy="310.25" r="0.6" fill="none" stroke="#3d4248" stroke-width="0.38"/>
<circle cx="645.30" cy="303.26" r="0.6" fill="none" stroke="#c89478" stroke-width="0.38"/>
<circle cx="654.62" cy="308.23" r="0.6" fill="none" stroke="#c89478" stroke-width="0.38"/>
<circle cx="649.79" cy="300.29" r="0.6" fill="none" stroke="#c89478" stroke-width="0.38"/>
<circle cx="654.97" cy="311.13" r="0.6" fill="none" stroke="#3d4248" stroke-width="0.38"/>
<circle cx="650.19" cy="315.02" r="0.6" fill="none" stroke="#3d4248" stroke-width="0.38"/>
<circle cx="647.23" cy="300.81" r="0.6" fill="none" stroke="#c89478" stroke-width="0.38"/>
<circle cx="647.54" cy="306.17" r="0.6" fill="none" stroke="#c89478" stroke-width="0.38"/>
<circle cx="645.66" cy="308.47" r="0.6" fill="none" stroke="#c89478" stroke-width="0.38"/>
<circle cx="656.07" cy="312.47" r="0.6" fill="none" stroke="#c89478" stroke-width="0.38"/>
<circle cx="644.37" cy="305.56" r="0.6" fill="none" stroke="#c89478" stroke-width="0.38"/>
<circle cx="656.44" cy="313.54" r="0.6" fill="none" stroke="#c89478" stroke-width="0.38"/>
<circle cx="651.65" cy="299.55" r="0.6" fill="none" stroke="#3d4248" stroke-width="0.38"/>
<circle cx="660.54" cy="304.39" r="0.6" fill="none" stroke="#c89478" stroke-width="0.38"/>
<circle cx="659.54" cy="314.74" r="0.6" fill="none" stroke="#c89478" stroke-width="0.38"/>
<circle cx="654.29" cy="314.99" r="0.6" fill="none" stroke="#c89478" stroke-width="0.38"/>
<circle cx="649.76" cy="300.78" r="0.6" fill="none" stroke="#c89478" stroke-width="0.38"/>
<circle cx="644.31" cy="308.55" r="0.6" fill="none" stroke="#c89478" stroke-width="0.38"/>
<circle cx="654.50" cy="314.88" r="0.6" fill="none" stroke="#c89478" stroke-width="0.38"/>
<circle cx="646.58" cy="303.50" r="0.6" fill="none" stroke="#c89478" stroke-width="0.38"/>
<circle cx="653.80" cy="305.75" r="0.6" fill="none" stroke="#c89478" stroke-width="0.38"/>
<circle cx="654.19" cy="307.30" r="0.6" fill="none" stroke="#c89478" stroke-width="0.38"/>
<circle cx="664.78" cy="312.75" r="0.6" fill="none" stroke="#c89478" stroke-width="0.38"/>
<circle cx="651.01" cy="315.64" r="0.6" fill="none" stroke="#c89478" stroke-width="0.38"/>
<circle cx="661.29" cy="302.09" r="0.6" fill="none" stroke="#3d4248" stroke-width="0.38"/>
<circle cx="655.21" cy="315.45" r="0.6" fill="none" stroke="#c89478" stroke-width="0.38"/>
<circle cx="648.37" cy="309.54" r="0.6" fill="none" stroke="#c89478" stroke-width="0.38"/>
<circle cx="652.27" cy="314.90" r="0.6" fill="none" stroke="#3d4248" stroke-width="0.38"/>
<circle cx="648.76" cy="308.72" r="0.6" fill="none" stroke="#c89478" stroke-width="0.38"/>
<circle cx="647.83" cy="311.57" r="0.6" fill="none" stroke="#c89478" stroke-width="0.38"/>
<circle cx="664.78" cy="304.74" r="0.6" fill="none" stroke="#c89478" stroke-width="0.38"/>
<circle cx="657.26" cy="315.26" r="0.6" fill="none" stroke="#c89478" stroke-width="0.38"/>
<circle cx="655.34" cy="305.92" r="0.6" fill="none" stroke="#c89478" stroke-width="0.38"/>
<circle cx="651.51" cy="304.21" r="0.6" fill="none" stroke="#c89478" stroke-width="0.38"/>
<circle cx="658.16" cy="305.90" r="0.6" fill="none" stroke="#c89478" stroke-width="0.38"/>
<circle cx="648.67" cy="311.66" r="0.6" fill="none" stroke="#c89478" stroke-width="0.38"/>
<circle cx="650.49" cy="304.86" r="0.6" fill="none" stroke="#c89478" stroke-width="0.38"/>
<circle cx="660.05" cy="306.82" r="0.6" fill="none" stroke="#c89478" stroke-width="0.38"/>
<circle cx="661.58" cy="305.59" r="0.6" fill="none" stroke="#c89478" stroke-width="0.38"/>
<circle cx="660.35" cy="313.55" r="0.6" fill="none" stroke="#c89478" stroke-width="0.38"/>
<circle cx="658.34" cy="301.38" r="0.6" fill="none" stroke="#c89478" stroke-width="0.38"/>
<circle cx="658.99" cy="299.36" r="0.6" fill="none" stroke="#3d4248" stroke-width="0.38"/>
<circle cx="662.96" cy="299.00" r="0.6" fill="none" stroke="#3d4248" stroke-width="0.38"/>
<circle cx="664.07" cy="297.93" r="0.6" fill="none" stroke="#3d4248" stroke-width="0.38"/>
<circle cx="665.32" cy="300.47" r="0.6" fill="none" stroke="#3d4248" stroke-width="0.38"/>
<circle cx="665.59" cy="297.33" r="0.6" fill="none" stroke="#3d4248" stroke-width="0.38"/>
<circle cx="665.96" cy="301.93" r="0.6" fill="none" stroke="#3d4248" stroke-width="0.38"/>
<circle cx="662.67" cy="299.47" r="0.6" fill="none" stroke="#3d4248" stroke-width="0.38"/>
<circle cx="661.94" cy="296.90" r="0.6" fill="none" stroke="#3d4248" stroke-width="0.38"/>
<circle cx="660.69" cy="300.47" r="0.6" fill="none" stroke="#3d4248" stroke-width="0.38"/>
<circle cx="659.83" cy="297.58" r="0.6" fill="none" stroke="#3d4248" stroke-width="0.38"/>
<circle cx="665.20" cy="303.28" r="0.6" fill="none" stroke="#3d4248" stroke-width="0.38"/>
<circle cx="664.69" cy="296.72" r="0.6" fill="none" stroke="#3d4248" stroke-width="0.38"/>
<circle cx="662.40" cy="298.31" r="0.6" fill="none" stroke="#3d4248" stroke-width="0.38"/>
<circle cx="661.64" cy="301.54" r="0.6" fill="none" stroke="#3d4248" stroke-width="0.38"/>
<circle cx="666.29" cy="301.51" r="0.6" fill="none" stroke="#3d4248" stroke-width="0.38"/>
<circle cx="665.19" cy="300.75" r="0.6" fill="none" stroke="#c89478" stroke-width="0.38"/>
<circle cx="664.08" cy="300.59" r="0.6" fill="none" stroke="#3d4248" stroke-width="0.38"/>
<circle cx="662.44" cy="303.33" r="0.6" fill="none" stroke="#3d4248" stroke-width="0.38"/>
<circle cx="635.32" cy="306.47" r="0.6" fill="none" stroke="#c89478" stroke-width="0.38"/>
<circle cx="635.32" cy="306.29" r="0.6" fill="none" stroke="#c89478" stroke-width="0.38"/>
<circle cx="635.65" cy="306.25" r="0.6" fill="none" stroke="#c89478" stroke-width="0.38"/>
<circle cx="634.91" cy="306.56" r="0.6" fill="none" stroke="#c89478" stroke-width="0.38"/>
<circle cx="635.06" cy="302.44" r="0.6" fill="none" stroke="#c89478" stroke-width="0.38"/>
<circle cx="633.56" cy="304.81" r="0.6" fill="none" stroke="#c89478" stroke-width="0.38"/>
<circle cx="636.23" cy="306.19" r="0.6" fill="none" stroke="#c89478" stroke-width="0.38"/>
<circle cx="634.29" cy="303.05" r="0.6" fill="none" stroke="#c89478" stroke-width="0.38"/>
<circle cx="634.89" cy="302.37" r="0.6" fill="none" stroke="#c89478" stroke-width="0.38"/>
<circle cx="633.42" cy="303.64" r="0.6" fill="none" stroke="#c89478" stroke-width="0.38"/>
<circle cx="637.86" cy="305.28" r="0.6" fill="none" stroke="#c89478" stroke-width="0.38"/>
<circle cx="634.94" cy="306.56" r="0.6" fill="none" stroke="#c89478" stroke-width="0.38"/>
<circle cx="637.93" cy="304.32" r="0.6" fill="none" stroke="#c89478" stroke-width="0.38"/>
<circle cx="637.75" cy="305.77" r="0.6" fill="none" stroke="#c89478" stroke-width="0.38"/>
<circle cx="633.87" cy="303.23" r="0.6" fill="none" stroke="#c89478" stroke-width="0.38"/>
<circle cx="634.90" cy="302.68" r="0.6" fill="none" stroke="#c89478" stroke-width="0.38"/>
<circle cx="635.10" cy="309.38" r="0.6" fill="none" stroke="#c89478" stroke-width="0.38"/>
<circle cx="636.62" cy="311.29" r="0.6" fill="none" stroke="#c89478" stroke-width="0.38"/>
<circle cx="635.91" cy="310.16" r="0.6" fill="none" stroke="#c89478" stroke-width="0.38"/>
<circle cx="636.22" cy="307.92" r="0.6" fill="none" stroke="#c89478" stroke-width="0.38"/>
<circle cx="637.07" cy="311.54" r="0.6" fill="none" stroke="#c89478" stroke-width="0.38"/>
<circle cx="637.59" cy="310.06" r="0.6" fill="none" stroke="#c89478" stroke-width="0.38"/>
<circle cx="635.46" cy="308.73" r="0.6" fill="none" stroke="#c89478" stroke-width="0.38"/>
<circle cx="635.15" cy="312.33" r="0.6" fill="none" stroke="#c89478" stroke-width="0.38"/>
<circle cx="634.53" cy="310.59" r="0.6" fill="none" stroke="#c89478" stroke-width="0.38"/>
<circle cx="636.27" cy="309.81" r="0.6" fill="none" stroke="#c89478" stroke-width="0.38"/>
<circle cx="637.44" cy="308.42" r="0.6" fill="none" stroke="#c89478" stroke-width="0.38"/>
<circle cx="635.24" cy="312.20" r="0.6" fill="none" stroke="#c89478" stroke-width="0.38"/>
<circle cx="629.50" cy="311.22" r="0.6" fill="none" stroke="#c89478" stroke-width="0.38"/>
<circle cx="629.85" cy="311.07" r="0.6" fill="none" stroke="#c89478" stroke-width="0.38"/>
<circle cx="631.52" cy="311.55" r="0.6" fill="none" stroke="#c89478" stroke-width="0.38"/>
<circle cx="630.87" cy="311.11" r="0.6" fill="none" stroke="#c89478" stroke-width="0.38"/>
<circle cx="631.82" cy="310.39" r="0.6" fill="none" stroke="#c89478" stroke-width="0.38"/>
<circle cx="630.74" cy="308.37" r="0.6" fill="none" stroke="#c89478" stroke-width="0.38"/>
<circle cx="631.38" cy="310.88" r="0.6" fill="none" stroke="#c89478" stroke-width="0.38"/>
<circle cx="642.97" cy="317.85" r="0.6" fill="none" stroke="#c89478" stroke-width="0.38"/>
<circle cx="637.25" cy="315.17" r="0.6" fill="none" stroke="#c89478" stroke-width="0.38"/>
<circle cx="647.63" cy="320.53" r="0.6" fill="none" stroke="#c89478" stroke-width="0.38"/>
<circle cx="644.92" cy="319.31" r="0.6" fill="none" stroke="#c89478" stroke-width="0.38"/>
<circle cx="639.26" cy="316.14" r="0.6" fill="none" stroke="#c89478" stroke-width="0.38"/>
<circle cx="646.09" cy="318.93" r="0.6" fill="none" stroke="#c89478" stroke-width="0.38"/>
<circle cx="648.75" cy="320.43" r="0.6" fill="none" stroke="#c89478" stroke-width="0.38"/>
<circle cx="649.08" cy="319.12" r="0.6" fill="none" stroke="#c89478" stroke-width="0.38"/>
<circle cx="651.86" cy="322.93" r="0.6" fill="none" stroke="#c89478" stroke-width="0.38"/>
<circle cx="648.95" cy="319.14" r="0.6" fill="none" stroke="#c89478" stroke-width="0.38"/>
<circle cx="649.28" cy="319.66" r="0.6" fill="none" stroke="#c89478" stroke-width="0.38"/>
<circle cx="638.32" cy="315.12" r="0.6" fill="none" stroke="#c89478" stroke-width="0.38"/>
<circle cx="647.13" cy="320.72" r="0.6" fill="none" stroke="#c89478" stroke-width="0.38"/>
<circle cx="642.16" cy="316.95" r="0.6" fill="none" stroke="#c89478" stroke-width="0.38"/>
<circle cx="641.99" cy="317.32" r="0.6" fill="none" stroke="#c89478" stroke-width="0.38"/>
<circle cx="653.28" cy="322.84" r="0.6" fill="none" stroke="#c89478" stroke-width="0.38"/>
<circle cx="650.36" cy="318.90" r="0.6" fill="none" stroke="#c89478" stroke-width="0.38"/>
<circle cx="641.40" cy="315.97" r="0.6" fill="none" stroke="#c89478" stroke-width="0.38"/>
<circle cx="653.55" cy="324.23" r="0.6" fill="none" stroke="#c89478" stroke-width="0.38"/>
<circle cx="638.99" cy="314.64" r="0.6" fill="none" stroke="#c89478" stroke-width="0.38"/>
<circle cx="638.84" cy="315.42" r="0.6" fill="none" stroke="#c89478" stroke-width="0.38"/>
<circle cx="650.77" cy="322.27" r="0.6" fill="none" stroke="#c89478" stroke-width="0.38"/>
<circle cx="636.64" cy="314.87" r="0.6" fill="none" stroke="#c89478" stroke-width="0.38"/>
<circle cx="650.26" cy="322.06" r="0.6" fill="none" stroke="#c89478" stroke-width="0.38"/>
<circle cx="643.85" cy="318.25" r="0.6" fill="none" stroke="#c89478" stroke-width="0.38"/>
<circle cx="648.85" cy="320.36" r="0.6" fill="none" stroke="#c89478" stroke-width="0.38"/>
<circle cx="645.29" cy="319.58" r="0.6" fill="none" stroke="#c89478" stroke-width="0.38"/>
<circle cx="649.99" cy="320.26" r="0.6" fill="none" stroke="#c89478" stroke-width="0.38"/>
<circle cx="648.26" cy="322.84" r="0.6" fill="none" stroke="#c89478" stroke-width="0.38"/>
<circle cx="642.60" cy="317.48" r="0.6" fill="none" stroke="#c89478" stroke-width="0.38"/>
<circle cx="651.08" cy="324.15" r="0.6" fill="none" stroke="#c89478" stroke-width="0.38"/>
<circle cx="650.49" cy="324.05" r="0.6" fill="none" stroke="#c89478" stroke-width="0.38"/>
<circle cx="653.42" cy="341.09" r="0.6" fill="none" stroke="#c89478" stroke-width="0.38"/>
<circle cx="654.81" cy="348.44" r="0.6" fill="none" stroke="#c89478" stroke-width="0.38"/>
<circle cx="653.45" cy="341.75" r="0.6" fill="none" stroke="#c89478" stroke-width="0.38"/>
<circle cx="652.40" cy="341.18" r="0.6" fill="none" stroke="#c89478" stroke-width="0.38"/>
<circle cx="652.23" cy="341.44" r="0.6" fill="none" stroke="#c89478" stroke-width="0.38"/>
<circle cx="655.12" cy="347.88" r="0.6" fill="none" stroke="#c89478" stroke-width="0.38"/>
<circle cx="654.84" cy="346.94" r="0.6" fill="none" stroke="#c89478" stroke-width="0.38"/>
<circle cx="654.90" cy="345.75" r="0.6" fill="none" stroke="#c89478" stroke-width="0.38"/>
<circle cx="652.99" cy="341.68" r="0.6" fill="none" stroke="#c89478" stroke-width="0.38"/>
<circle cx="653.48" cy="347.88" r="0.6" fill="none" stroke="#c89478" stroke-width="0.38"/>
<circle cx="653.08" cy="345.22" r="0.6" fill="none" stroke="#c89478" stroke-width="0.38"/>
<circle cx="654.40" cy="347.65" r="0.6" fill="none" stroke="#c89478" stroke-width="0.38"/>
<circle cx="654.97" cy="345.29" r="0.6" fill="none" stroke="#c89478" stroke-width="0.38"/>
<circle cx="652.70" cy="345.95" r="0.6" fill="none" stroke="#c89478" stroke-width="0.38"/>
<circle cx="647.80" cy="351.97" r="0.6" fill="none" stroke="#c89478" stroke-width="0.38"/>
<circle cx="647.60" cy="353.05" r="0.6" fill="none" stroke="#c89478" stroke-width="0.38"/>
<circle cx="647.44" cy="353.07" r="0.6" fill="none" stroke="#c89478" stroke-width="0.38"/>
<line x1="592.80" y1="348.00" x2="592.80" y2="331.30" stroke="#111" stroke-width="1.0" />
<path d="M592.80,328.90 L591.30,331.70 L594.30,331.70 Z" fill="#111"/>
<line x1="592.30" y1="347.50" x2="608.50" y2="347.50" stroke="#111" stroke-width="1.0" />
<path d="M610.90,347.50 L608.10,346.00 L608.10,349.00 Z" fill="#111"/>
<text transform="translate(590.00,336.50) rotate(-90)" font-size="6.6" text-anchor="middle" fill="#1a1a1a" stroke="#1a1a1a" stroke-width="0.16">UMAP 2</text>
<text x="592.30" y="355.90" font-size="6.6" text-anchor="start" fill="#1a1a1a" stroke="#1a1a1a" stroke-width="0.16">UMAP 1</text>
<circle cx="386.90" cy="225.30" r="3.0" fill="#e8587a"/>
<text x="386.90" y="237.60" font-size="6.4" text-anchor="middle" fill="#1a1a1a" stroke="#1a1a1a" stroke-width="0.16">AD</text>
<circle cx="400.80" cy="225.30" r="3.0" fill="#fdc85c"/>
<text x="400.80" y="237.60" font-size="6.4" text-anchor="middle" fill="#1a1a1a" stroke="#1a1a1a" stroke-width="0.16">EA</text>
<circle cx="414.50" cy="225.30" r="3.0" fill="#1dd19f"/>
<text x="414.50" y="237.60" font-size="6.4" text-anchor="middle" fill="#1a1a1a" stroke="#1a1a1a" stroke-width="0.16">MA</text>
<circle cx="428.20" cy="225.30" r="3.0" fill="#1b88b8"/>
<text x="428.20" y="237.60" font-size="6.4" text-anchor="middle" fill="#1a1a1a" stroke="#1a1a1a" stroke-width="0.16">OA</text>
<circle cx="509.20" cy="225.30" r="3.0" fill="#f08585"/>
<text x="509.20" y="237.60" font-size="6.4" text-anchor="middle" fill="#1a1a1a" stroke="#1a1a1a" stroke-width="0.16">Female</text>
<circle cx="532.80" cy="225.30" r="3.0" fill="#1f3f7f"/>
<text x="532.80" y="237.60" font-size="6.4" text-anchor="middle" fill="#1a1a1a" stroke="#1a1a1a" stroke-width="0.16">Male</text>
<circle cx="596.20" cy="225.30" r="3.0" fill="#e04a33"/>
<text x="596.20" y="237.60" font-size="6.4" text-anchor="middle" fill="#1a1a1a" stroke="#1a1a1a" stroke-width="0.16">Cerebellum</text>
<circle cx="631.10" cy="225.30" r="3.0" fill="#3d4248"/>
<text x="631.10" y="237.60" font-size="6.4" text-anchor="middle" fill="#1a1a1a" stroke="#1a1a1a" stroke-width="0.16">Brainstem</text>
<circle cx="666.00" cy="225.30" r="3.0" fill="#c89478"/>
<text x="666.00" y="237.60" font-size="6.4" text-anchor="middle" fill="#1a1a1a" stroke="#1a1a1a" stroke-width="0.16">Cerebrum</text>
<circle cx="386.90" cy="366.80" r="3.0" fill="#e8587a"/>
<text x="386.90" y="379.10" font-size="6.4" text-anchor="middle" fill="#1a1a1a" stroke="#1a1a1a" stroke-width="0.16">AD</text>
<circle cx="400.80" cy="366.80" r="3.0" fill="#fdc85c"/>
<text x="400.80" y="379.10" font-size="6.4" text-anchor="middle" fill="#1a1a1a" stroke="#1a1a1a" stroke-width="0.16">EA</text>
<circle cx="414.50" cy="366.80" r="3.0" fill="#1dd19f"/>
<text x="414.50" y="379.10" font-size="6.4" text-anchor="middle" fill="#1a1a1a" stroke="#1a1a1a" stroke-width="0.16">MA</text>
<circle cx="428.20" cy="366.80" r="3.0" fill="#1b88b8"/>
<text x="428.20" y="379.10" font-size="6.4" text-anchor="middle" fill="#1a1a1a" stroke="#1a1a1a" stroke-width="0.16">OA</text>
<circle cx="509.20" cy="366.80" r="3.0" fill="#f08585"/>
<text x="509.20" y="379.10" font-size="6.4" text-anchor="middle" fill="#1a1a1a" stroke="#1a1a1a" stroke-width="0.16">Female</text>
<circle cx="532.80" cy="366.80" r="3.0" fill="#1f3f7f"/>
<text x="532.80" y="379.10" font-size="6.4" text-anchor="middle" fill="#1a1a1a" stroke="#1a1a1a" stroke-width="0.16">Male</text>
<circle cx="596.20" cy="366.80" r="3.0" fill="#e04a33"/>
<text x="596.20" y="379.10" font-size="6.4" text-anchor="middle" fill="#1a1a1a" stroke="#1a1a1a" stroke-width="0.16">Cerebellum</text>
<circle cx="631.10" cy="366.80" r="3.0" fill="#3d4248"/>
<text x="631.10" y="379.10" font-size="6.4" text-anchor="middle" fill="#1a1a1a" stroke="#1a1a1a" stroke-width="0.16">Brainstem</text>
<circle cx="666.00" cy="366.80" r="3.0" fill="#c89478"/>
<text x="666.00" y="379.10" font-size="6.4" text-anchor="middle" fill="#1a1a1a" stroke="#1a1a1a" stroke-width="0.16">Cerebrum</text>
</svg></body></html>
